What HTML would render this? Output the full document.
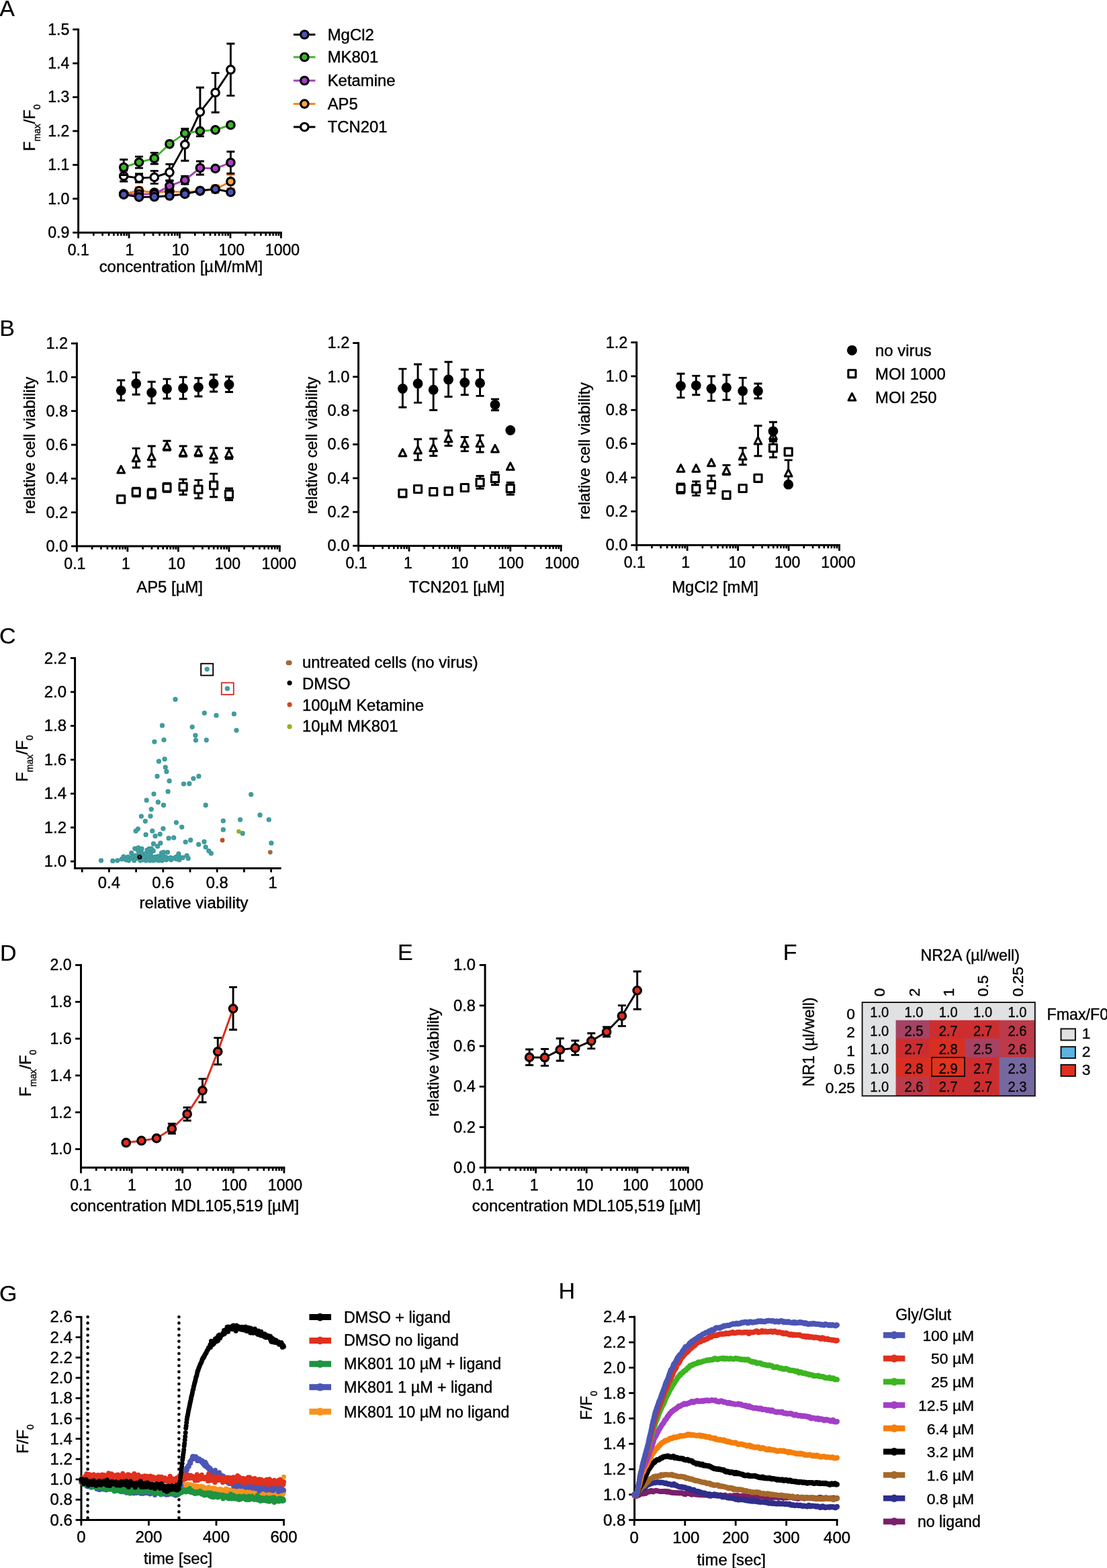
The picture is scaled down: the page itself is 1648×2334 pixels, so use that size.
<!DOCTYPE html>
<html lang="en"><head><meta charset="utf-8"><title>Figure</title>
<style>
html,body{margin:0;padding:0;background:#fff;}
body{width:1648px;height:2334px;overflow:hidden;}
svg{display:block;font-family:"Liberation Sans", "DejaVu Sans", sans-serif;}
text{stroke:#000;stroke-width:0.4px;stroke-linejoin:round;}
</style></head><body>
<svg width="1648" height="2334" viewBox="0 0 1648 2334">
<rect width="1648" height="2334" fill="#fff"/>
<line x1="116.60" y1="42.46" x2="116.60" y2="347.70" stroke="#000" stroke-width="3.0" stroke-linecap="butt"/>
<line x1="108.20" y1="43.86" x2="116.60" y2="43.86" stroke="#000" stroke-width="2.8" stroke-linecap="butt"/>
<text x="103.40" y="51.66" font-size="23.1" text-anchor="end" fill="#000">1.5</text>
<line x1="108.20" y1="94.25" x2="116.60" y2="94.25" stroke="#000" stroke-width="2.8" stroke-linecap="butt"/>
<text x="103.40" y="102.05" font-size="23.1" text-anchor="end" fill="#000">1.4</text>
<line x1="108.20" y1="144.64" x2="116.60" y2="144.64" stroke="#000" stroke-width="2.8" stroke-linecap="butt"/>
<text x="103.40" y="152.44" font-size="23.1" text-anchor="end" fill="#000">1.3</text>
<line x1="108.20" y1="195.03" x2="116.60" y2="195.03" stroke="#000" stroke-width="2.8" stroke-linecap="butt"/>
<text x="103.40" y="202.83" font-size="23.1" text-anchor="end" fill="#000">1.2</text>
<line x1="108.20" y1="245.42" x2="116.60" y2="245.42" stroke="#000" stroke-width="2.8" stroke-linecap="butt"/>
<text x="103.40" y="253.22" font-size="23.1" text-anchor="end" fill="#000">1.1</text>
<line x1="108.20" y1="295.81" x2="116.60" y2="295.81" stroke="#000" stroke-width="2.8" stroke-linecap="butt"/>
<text x="103.40" y="303.61" font-size="23.1" text-anchor="end" fill="#000">1.0</text>
<line x1="108.20" y1="346.20" x2="116.60" y2="346.20" stroke="#000" stroke-width="2.8" stroke-linecap="butt"/>
<text x="103.40" y="354.00" font-size="23.1" text-anchor="end" fill="#000">0.9</text>
<line x1="115.10" y1="346.20" x2="419.80" y2="346.20" stroke="#000" stroke-width="3.0" stroke-linecap="butt"/>
<line x1="116.60" y1="346.20" x2="116.60" y2="354.60" stroke="#000" stroke-width="2.8" stroke-linecap="butt"/>
<line x1="139.31" y1="346.20" x2="139.31" y2="351.00" stroke="#000" stroke-width="2.6599999999999997" stroke-linecap="butt"/>
<line x1="152.60" y1="346.20" x2="152.60" y2="351.00" stroke="#000" stroke-width="2.6599999999999997" stroke-linecap="butt"/>
<line x1="162.03" y1="346.20" x2="162.03" y2="351.00" stroke="#000" stroke-width="2.6599999999999997" stroke-linecap="butt"/>
<line x1="169.34" y1="346.20" x2="169.34" y2="351.00" stroke="#000" stroke-width="2.6599999999999997" stroke-linecap="butt"/>
<line x1="175.31" y1="346.20" x2="175.31" y2="351.00" stroke="#000" stroke-width="2.6599999999999997" stroke-linecap="butt"/>
<line x1="180.36" y1="346.20" x2="180.36" y2="351.00" stroke="#000" stroke-width="2.6599999999999997" stroke-linecap="butt"/>
<line x1="184.74" y1="346.20" x2="184.74" y2="351.00" stroke="#000" stroke-width="2.6599999999999997" stroke-linecap="butt"/>
<line x1="188.60" y1="346.20" x2="188.60" y2="351.00" stroke="#000" stroke-width="2.6599999999999997" stroke-linecap="butt"/>
<line x1="192.05" y1="346.20" x2="192.05" y2="354.60" stroke="#000" stroke-width="2.8" stroke-linecap="butt"/>
<line x1="214.76" y1="346.20" x2="214.76" y2="351.00" stroke="#000" stroke-width="2.6599999999999997" stroke-linecap="butt"/>
<line x1="228.05" y1="346.20" x2="228.05" y2="351.00" stroke="#000" stroke-width="2.6599999999999997" stroke-linecap="butt"/>
<line x1="237.48" y1="346.20" x2="237.48" y2="351.00" stroke="#000" stroke-width="2.6599999999999997" stroke-linecap="butt"/>
<line x1="244.79" y1="346.20" x2="244.79" y2="351.00" stroke="#000" stroke-width="2.6599999999999997" stroke-linecap="butt"/>
<line x1="250.76" y1="346.20" x2="250.76" y2="351.00" stroke="#000" stroke-width="2.6599999999999997" stroke-linecap="butt"/>
<line x1="255.81" y1="346.20" x2="255.81" y2="351.00" stroke="#000" stroke-width="2.6599999999999997" stroke-linecap="butt"/>
<line x1="260.19" y1="346.20" x2="260.19" y2="351.00" stroke="#000" stroke-width="2.6599999999999997" stroke-linecap="butt"/>
<line x1="264.05" y1="346.20" x2="264.05" y2="351.00" stroke="#000" stroke-width="2.6599999999999997" stroke-linecap="butt"/>
<line x1="267.50" y1="346.20" x2="267.50" y2="354.60" stroke="#000" stroke-width="2.8" stroke-linecap="butt"/>
<line x1="290.21" y1="346.20" x2="290.21" y2="351.00" stroke="#000" stroke-width="2.6599999999999997" stroke-linecap="butt"/>
<line x1="303.50" y1="346.20" x2="303.50" y2="351.00" stroke="#000" stroke-width="2.6599999999999997" stroke-linecap="butt"/>
<line x1="312.93" y1="346.20" x2="312.93" y2="351.00" stroke="#000" stroke-width="2.6599999999999997" stroke-linecap="butt"/>
<line x1="320.24" y1="346.20" x2="320.24" y2="351.00" stroke="#000" stroke-width="2.6599999999999997" stroke-linecap="butt"/>
<line x1="326.21" y1="346.20" x2="326.21" y2="351.00" stroke="#000" stroke-width="2.6599999999999997" stroke-linecap="butt"/>
<line x1="331.26" y1="346.20" x2="331.26" y2="351.00" stroke="#000" stroke-width="2.6599999999999997" stroke-linecap="butt"/>
<line x1="335.64" y1="346.20" x2="335.64" y2="351.00" stroke="#000" stroke-width="2.6599999999999997" stroke-linecap="butt"/>
<line x1="339.50" y1="346.20" x2="339.50" y2="351.00" stroke="#000" stroke-width="2.6599999999999997" stroke-linecap="butt"/>
<line x1="342.95" y1="346.20" x2="342.95" y2="354.60" stroke="#000" stroke-width="2.8" stroke-linecap="butt"/>
<line x1="365.66" y1="346.20" x2="365.66" y2="351.00" stroke="#000" stroke-width="2.6599999999999997" stroke-linecap="butt"/>
<line x1="378.95" y1="346.20" x2="378.95" y2="351.00" stroke="#000" stroke-width="2.6599999999999997" stroke-linecap="butt"/>
<line x1="388.38" y1="346.20" x2="388.38" y2="351.00" stroke="#000" stroke-width="2.6599999999999997" stroke-linecap="butt"/>
<line x1="395.69" y1="346.20" x2="395.69" y2="351.00" stroke="#000" stroke-width="2.6599999999999997" stroke-linecap="butt"/>
<line x1="401.66" y1="346.20" x2="401.66" y2="351.00" stroke="#000" stroke-width="2.6599999999999997" stroke-linecap="butt"/>
<line x1="406.71" y1="346.20" x2="406.71" y2="351.00" stroke="#000" stroke-width="2.6599999999999997" stroke-linecap="butt"/>
<line x1="411.09" y1="346.20" x2="411.09" y2="351.00" stroke="#000" stroke-width="2.6599999999999997" stroke-linecap="butt"/>
<line x1="414.95" y1="346.20" x2="414.95" y2="351.00" stroke="#000" stroke-width="2.6599999999999997" stroke-linecap="butt"/>
<line x1="418.40" y1="346.20" x2="418.40" y2="354.60" stroke="#000" stroke-width="2.8" stroke-linecap="butt"/>
<text x="116.80" y="379.60" font-size="23.1" text-anchor="middle" fill="#000">0.1</text>
<text x="192.85" y="379.60" font-size="23.1" text-anchor="middle" fill="#000">1</text>
<text x="268.60" y="379.60" font-size="23.1" text-anchor="middle" fill="#000">10</text>
<text x="344.85" y="379.60" font-size="23.1" text-anchor="middle" fill="#000">100</text>
<text x="420.50" y="379.60" font-size="23.1" text-anchor="middle" fill="#000">1000</text>
<text x="269.40" y="405.20" font-size="23.9" text-anchor="middle" fill="#000">concentration [µM/mM]</text>
<text x="52.20" y="225.00" font-size="23.9" transform="rotate(-90 52.20 225.00)">F<tspan font-size="13.8" dy="8.0">max</tspan><tspan dy="-8.0">/F</tspan><tspan font-size="13.8" dy="8.0">0</tspan></text>
<path d="M184.20 254.00V270.00M178.20 254.00h12.0M178.20 270.00h12.0" stroke="#000" stroke-width="2.9" fill="none"/>
<path d="M207.00 258.80V271.40M201.00 258.80h12.0M201.00 271.40h12.0" stroke="#000" stroke-width="2.9" fill="none"/>
<path d="M229.80 254.40V273.40M223.80 254.40h12.0M223.80 273.40h12.0" stroke="#000" stroke-width="2.9" fill="none"/>
<path d="M252.40 244.40V268.60M246.40 244.40h12.0M246.40 268.60h12.0" stroke="#000" stroke-width="2.9" fill="none"/>
<path d="M275.30 191.60V239.20M269.30 191.60h12.0M269.30 239.20h12.0" stroke="#000" stroke-width="2.9" fill="none"/>
<path d="M297.90 130.30V202.90M291.90 130.30h12.0M291.90 202.90h12.0" stroke="#000" stroke-width="2.9" fill="none"/>
<path d="M320.60 108.60V167.20M314.60 108.60h12.0M314.60 167.20h12.0" stroke="#000" stroke-width="2.9" fill="none"/>
<path d="M343.40 65.00V142.40M337.40 65.00h12.0M337.40 142.40h12.0" stroke="#000" stroke-width="2.9" fill="none"/>
<polyline points="184.20,262.00 207.00,265.10 229.80,263.90 252.40,256.50 275.30,215.40 297.90,166.60 320.60,137.90 343.40,103.70" fill="none" stroke="#000" stroke-width="2.9" stroke-linejoin="round"/>
<circle cx="184.20" cy="262.00" r="5.75" fill="#fff" stroke="#000" stroke-width="3.2"/>
<circle cx="207.00" cy="265.10" r="5.75" fill="#fff" stroke="#000" stroke-width="3.2"/>
<circle cx="229.80" cy="263.90" r="5.75" fill="#fff" stroke="#000" stroke-width="3.2"/>
<circle cx="252.40" cy="256.50" r="5.75" fill="#fff" stroke="#000" stroke-width="3.2"/>
<circle cx="275.30" cy="215.40" r="5.75" fill="#fff" stroke="#000" stroke-width="3.2"/>
<circle cx="297.90" cy="166.60" r="5.75" fill="#fff" stroke="#000" stroke-width="3.2"/>
<circle cx="320.60" cy="137.90" r="5.75" fill="#fff" stroke="#000" stroke-width="3.2"/>
<circle cx="343.40" cy="103.70" r="5.75" fill="#fff" stroke="#000" stroke-width="3.2"/>
<path d="M207.00 279.00V289.00M201.00 279.00h12.0M201.00 289.00h12.0" stroke="#F0801A" stroke-width="2.9" fill="none"/>
<path d="M252.40 280.80V288.80M246.40 280.80h12.0M246.40 288.80h12.0" stroke="#F0801A" stroke-width="2.9" fill="none"/>
<path d="M320.60 276.00V287.00M314.60 276.00h12.0M314.60 287.00h12.0" stroke="#F0801A" stroke-width="2.9" fill="none"/>
<path d="M343.40 260.00V280.60M337.40 260.00h12.0M337.40 280.60h12.0" stroke="#F0801A" stroke-width="2.9" fill="none"/>
<polyline points="184.20,288.50 207.00,284.00 229.80,286.50 252.40,284.80 275.30,286.20 297.90,284.30 320.60,281.50 343.40,270.30" fill="none" stroke="#F0801A" stroke-width="2.9" stroke-linejoin="round"/>
<circle cx="184.20" cy="288.50" r="5.75" fill="#F9A648" stroke="#000" stroke-width="3.2"/>
<circle cx="207.00" cy="284.00" r="5.75" fill="#F9A648" stroke="#000" stroke-width="3.2"/>
<circle cx="229.80" cy="286.50" r="5.75" fill="#F9A648" stroke="#000" stroke-width="3.2"/>
<circle cx="252.40" cy="284.80" r="5.75" fill="#F9A648" stroke="#000" stroke-width="3.2"/>
<circle cx="275.30" cy="286.20" r="5.75" fill="#F9A648" stroke="#000" stroke-width="3.2"/>
<circle cx="297.90" cy="284.30" r="5.75" fill="#F9A648" stroke="#000" stroke-width="3.2"/>
<circle cx="320.60" cy="281.50" r="5.75" fill="#F9A648" stroke="#000" stroke-width="3.2"/>
<circle cx="343.40" cy="270.30" r="5.75" fill="#F9A648" stroke="#000" stroke-width="3.2"/>
<path d="M252.40 269.30V284.30M246.40 269.30h12.0M246.40 284.30h12.0" stroke="#000" stroke-width="2.9" fill="none"/>
<path d="M275.30 262.10V274.10M269.30 262.10h12.0M269.30 274.10h12.0" stroke="#000" stroke-width="2.9" fill="none"/>
<path d="M297.90 240.00V260.00M291.90 240.00h12.0M291.90 260.00h12.0" stroke="#000" stroke-width="2.9" fill="none"/>
<path d="M343.40 225.80V258.20M337.40 225.80h12.0M337.40 258.20h12.0" stroke="#000" stroke-width="2.9" fill="none"/>
<polyline points="184.20,289.20 207.00,289.00 229.80,288.80 252.40,276.80 275.30,268.10 297.90,250.00 320.60,250.90 343.40,242.00" fill="none" stroke="#A840C0" stroke-width="2.9" stroke-linejoin="round"/>
<circle cx="184.20" cy="289.20" r="5.75" fill="#A840C0" stroke="#000" stroke-width="3.2"/>
<circle cx="207.00" cy="289.00" r="5.75" fill="#A840C0" stroke="#000" stroke-width="3.2"/>
<circle cx="229.80" cy="288.80" r="5.75" fill="#A840C0" stroke="#000" stroke-width="3.2"/>
<circle cx="252.40" cy="276.80" r="5.75" fill="#A840C0" stroke="#000" stroke-width="3.2"/>
<circle cx="275.30" cy="268.10" r="5.75" fill="#A840C0" stroke="#000" stroke-width="3.2"/>
<circle cx="297.90" cy="250.00" r="5.75" fill="#A840C0" stroke="#000" stroke-width="3.2"/>
<circle cx="320.60" cy="250.90" r="5.75" fill="#A840C0" stroke="#000" stroke-width="3.2"/>
<circle cx="343.40" cy="242.00" r="5.75" fill="#A840C0" stroke="#000" stroke-width="3.2"/>
<path d="M184.20 237.50V260.50M178.20 237.50h12.0M178.20 260.50h12.0" stroke="#000" stroke-width="2.9" fill="none"/>
<path d="M207.00 233.10V250.10M201.00 233.10h12.0M201.00 250.10h12.0" stroke="#000" stroke-width="2.9" fill="none"/>
<path d="M229.80 227.40V244.00M223.80 227.40h12.0M223.80 244.00h12.0" stroke="#000" stroke-width="2.9" fill="none"/>
<polyline points="184.20,249.00 207.00,241.60 229.80,235.70 252.40,214.30 275.30,198.40 297.90,195.10 320.60,193.40 343.40,186.00" fill="none" stroke="#3CB528" stroke-width="2.9" stroke-linejoin="round"/>
<circle cx="184.20" cy="249.00" r="5.75" fill="#3CB528" stroke="#000" stroke-width="3.2"/>
<circle cx="207.00" cy="241.60" r="5.75" fill="#3CB528" stroke="#000" stroke-width="3.2"/>
<circle cx="229.80" cy="235.70" r="5.75" fill="#3CB528" stroke="#000" stroke-width="3.2"/>
<circle cx="252.40" cy="214.30" r="5.75" fill="#3CB528" stroke="#000" stroke-width="3.2"/>
<circle cx="275.30" cy="198.40" r="5.75" fill="#3CB528" stroke="#000" stroke-width="3.2"/>
<circle cx="297.90" cy="195.10" r="5.75" fill="#3CB528" stroke="#000" stroke-width="3.2"/>
<circle cx="320.60" cy="193.40" r="5.75" fill="#3CB528" stroke="#000" stroke-width="3.2"/>
<circle cx="343.40" cy="186.00" r="5.75" fill="#3CB528" stroke="#000" stroke-width="3.2"/>
<polyline points="184.20,289.60 207.00,293.30 229.80,293.00 252.40,291.50 275.30,288.90 297.90,283.80 320.60,281.40 343.40,286.00" fill="none" stroke="#000" stroke-width="2.9" stroke-linejoin="round"/>
<circle cx="184.20" cy="289.60" r="5.75" fill="#4C56B4" stroke="#000" stroke-width="3.2"/>
<circle cx="207.00" cy="293.30" r="5.75" fill="#4C56B4" stroke="#000" stroke-width="3.2"/>
<circle cx="229.80" cy="293.00" r="5.75" fill="#4C56B4" stroke="#000" stroke-width="3.2"/>
<circle cx="252.40" cy="291.50" r="5.75" fill="#4C56B4" stroke="#000" stroke-width="3.2"/>
<circle cx="275.30" cy="288.90" r="5.75" fill="#4C56B4" stroke="#000" stroke-width="3.2"/>
<circle cx="297.90" cy="283.80" r="5.75" fill="#4C56B4" stroke="#000" stroke-width="3.2"/>
<circle cx="320.60" cy="281.40" r="5.75" fill="#4C56B4" stroke="#000" stroke-width="3.2"/>
<circle cx="343.40" cy="286.00" r="5.75" fill="#4C56B4" stroke="#000" stroke-width="3.2"/>
<line x1="437.00" y1="51.50" x2="469.40" y2="51.50" stroke="#000" stroke-width="2.9" stroke-linecap="butt"/>
<circle cx="453.30" cy="51.50" r="5.75" fill="#4C56B4" stroke="#000" stroke-width="3.2"/>
<text x="487.70" y="59.70" font-size="23.9" text-anchor="start" fill="#000">MgCl2</text>
<line x1="437.00" y1="85.00" x2="469.40" y2="85.00" stroke="#3CB528" stroke-width="2.9" stroke-linecap="butt"/>
<circle cx="453.30" cy="85.00" r="5.75" fill="#3CB528" stroke="#000" stroke-width="3.2"/>
<text x="487.70" y="93.20" font-size="23.9" text-anchor="start" fill="#000">MK801</text>
<line x1="437.00" y1="120.00" x2="469.40" y2="120.00" stroke="#A840C0" stroke-width="2.9" stroke-linecap="butt"/>
<circle cx="453.30" cy="120.00" r="5.75" fill="#A840C0" stroke="#000" stroke-width="3.2"/>
<text x="487.70" y="128.20" font-size="23.9" text-anchor="start" fill="#000">Ketamine</text>
<line x1="437.00" y1="154.60" x2="469.40" y2="154.60" stroke="#F0801A" stroke-width="2.9" stroke-linecap="butt"/>
<circle cx="453.30" cy="154.60" r="5.75" fill="#F9A648" stroke="#000" stroke-width="3.2"/>
<text x="487.70" y="162.80" font-size="23.9" text-anchor="start" fill="#000">AP5</text>
<line x1="437.00" y1="189.00" x2="469.40" y2="189.00" stroke="#000" stroke-width="2.9" stroke-linecap="butt"/>
<circle cx="453.30" cy="189.00" r="5.75" fill="#fff" stroke="#000" stroke-width="3.2"/>
<text x="487.70" y="197.20" font-size="23.9" text-anchor="start" fill="#000">TCN201</text>
<text x="-0.70" y="23.60" font-size="34.0" text-anchor="start" fill="#000" style="stroke-width:0.2px">A</text>
<line x1="114.40" y1="509.80" x2="114.40" y2="814.50" stroke="#000" stroke-width="3.0" stroke-linecap="butt"/>
<line x1="106.00" y1="511.20" x2="114.40" y2="511.20" stroke="#000" stroke-width="2.8" stroke-linecap="butt"/>
<text x="101.20" y="519.00" font-size="23.6" text-anchor="end" fill="#000">1.2</text>
<line x1="106.00" y1="561.50" x2="114.40" y2="561.50" stroke="#000" stroke-width="2.8" stroke-linecap="butt"/>
<text x="101.20" y="569.30" font-size="23.6" text-anchor="end" fill="#000">1.0</text>
<line x1="106.00" y1="611.80" x2="114.40" y2="611.80" stroke="#000" stroke-width="2.8" stroke-linecap="butt"/>
<text x="101.20" y="619.60" font-size="23.6" text-anchor="end" fill="#000">0.8</text>
<line x1="106.00" y1="662.10" x2="114.40" y2="662.10" stroke="#000" stroke-width="2.8" stroke-linecap="butt"/>
<text x="101.20" y="669.90" font-size="23.6" text-anchor="end" fill="#000">0.6</text>
<line x1="106.00" y1="712.40" x2="114.40" y2="712.40" stroke="#000" stroke-width="2.8" stroke-linecap="butt"/>
<text x="101.20" y="720.20" font-size="23.6" text-anchor="end" fill="#000">0.4</text>
<line x1="106.00" y1="762.70" x2="114.40" y2="762.70" stroke="#000" stroke-width="2.8" stroke-linecap="butt"/>
<text x="101.20" y="770.50" font-size="23.6" text-anchor="end" fill="#000">0.2</text>
<line x1="106.00" y1="813.00" x2="114.40" y2="813.00" stroke="#000" stroke-width="2.8" stroke-linecap="butt"/>
<text x="101.20" y="820.80" font-size="23.6" text-anchor="end" fill="#000">0.0</text>
<line x1="112.90" y1="813.00" x2="417.80" y2="813.00" stroke="#000" stroke-width="3.0" stroke-linecap="butt"/>
<line x1="114.40" y1="813.00" x2="114.40" y2="821.40" stroke="#000" stroke-width="2.8" stroke-linecap="butt"/>
<line x1="137.13" y1="813.00" x2="137.13" y2="817.80" stroke="#000" stroke-width="2.6599999999999997" stroke-linecap="butt"/>
<line x1="150.42" y1="813.00" x2="150.42" y2="817.80" stroke="#000" stroke-width="2.6599999999999997" stroke-linecap="butt"/>
<line x1="159.86" y1="813.00" x2="159.86" y2="817.80" stroke="#000" stroke-width="2.6599999999999997" stroke-linecap="butt"/>
<line x1="167.17" y1="813.00" x2="167.17" y2="817.80" stroke="#000" stroke-width="2.6599999999999997" stroke-linecap="butt"/>
<line x1="173.15" y1="813.00" x2="173.15" y2="817.80" stroke="#000" stroke-width="2.6599999999999997" stroke-linecap="butt"/>
<line x1="178.20" y1="813.00" x2="178.20" y2="817.80" stroke="#000" stroke-width="2.6599999999999997" stroke-linecap="butt"/>
<line x1="182.58" y1="813.00" x2="182.58" y2="817.80" stroke="#000" stroke-width="2.6599999999999997" stroke-linecap="butt"/>
<line x1="186.45" y1="813.00" x2="186.45" y2="817.80" stroke="#000" stroke-width="2.6599999999999997" stroke-linecap="butt"/>
<line x1="189.90" y1="813.00" x2="189.90" y2="821.40" stroke="#000" stroke-width="2.8" stroke-linecap="butt"/>
<line x1="212.63" y1="813.00" x2="212.63" y2="817.80" stroke="#000" stroke-width="2.6599999999999997" stroke-linecap="butt"/>
<line x1="225.92" y1="813.00" x2="225.92" y2="817.80" stroke="#000" stroke-width="2.6599999999999997" stroke-linecap="butt"/>
<line x1="235.36" y1="813.00" x2="235.36" y2="817.80" stroke="#000" stroke-width="2.6599999999999997" stroke-linecap="butt"/>
<line x1="242.67" y1="813.00" x2="242.67" y2="817.80" stroke="#000" stroke-width="2.6599999999999997" stroke-linecap="butt"/>
<line x1="248.65" y1="813.00" x2="248.65" y2="817.80" stroke="#000" stroke-width="2.6599999999999997" stroke-linecap="butt"/>
<line x1="253.70" y1="813.00" x2="253.70" y2="817.80" stroke="#000" stroke-width="2.6599999999999997" stroke-linecap="butt"/>
<line x1="258.08" y1="813.00" x2="258.08" y2="817.80" stroke="#000" stroke-width="2.6599999999999997" stroke-linecap="butt"/>
<line x1="261.95" y1="813.00" x2="261.95" y2="817.80" stroke="#000" stroke-width="2.6599999999999997" stroke-linecap="butt"/>
<line x1="265.40" y1="813.00" x2="265.40" y2="821.40" stroke="#000" stroke-width="2.8" stroke-linecap="butt"/>
<line x1="288.13" y1="813.00" x2="288.13" y2="817.80" stroke="#000" stroke-width="2.6599999999999997" stroke-linecap="butt"/>
<line x1="301.42" y1="813.00" x2="301.42" y2="817.80" stroke="#000" stroke-width="2.6599999999999997" stroke-linecap="butt"/>
<line x1="310.86" y1="813.00" x2="310.86" y2="817.80" stroke="#000" stroke-width="2.6599999999999997" stroke-linecap="butt"/>
<line x1="318.17" y1="813.00" x2="318.17" y2="817.80" stroke="#000" stroke-width="2.6599999999999997" stroke-linecap="butt"/>
<line x1="324.15" y1="813.00" x2="324.15" y2="817.80" stroke="#000" stroke-width="2.6599999999999997" stroke-linecap="butt"/>
<line x1="329.20" y1="813.00" x2="329.20" y2="817.80" stroke="#000" stroke-width="2.6599999999999997" stroke-linecap="butt"/>
<line x1="333.58" y1="813.00" x2="333.58" y2="817.80" stroke="#000" stroke-width="2.6599999999999997" stroke-linecap="butt"/>
<line x1="337.45" y1="813.00" x2="337.45" y2="817.80" stroke="#000" stroke-width="2.6599999999999997" stroke-linecap="butt"/>
<line x1="340.90" y1="813.00" x2="340.90" y2="821.40" stroke="#000" stroke-width="2.8" stroke-linecap="butt"/>
<line x1="363.63" y1="813.00" x2="363.63" y2="817.80" stroke="#000" stroke-width="2.6599999999999997" stroke-linecap="butt"/>
<line x1="376.92" y1="813.00" x2="376.92" y2="817.80" stroke="#000" stroke-width="2.6599999999999997" stroke-linecap="butt"/>
<line x1="386.36" y1="813.00" x2="386.36" y2="817.80" stroke="#000" stroke-width="2.6599999999999997" stroke-linecap="butt"/>
<line x1="393.67" y1="813.00" x2="393.67" y2="817.80" stroke="#000" stroke-width="2.6599999999999997" stroke-linecap="butt"/>
<line x1="399.65" y1="813.00" x2="399.65" y2="817.80" stroke="#000" stroke-width="2.6599999999999997" stroke-linecap="butt"/>
<line x1="404.70" y1="813.00" x2="404.70" y2="817.80" stroke="#000" stroke-width="2.6599999999999997" stroke-linecap="butt"/>
<line x1="409.08" y1="813.00" x2="409.08" y2="817.80" stroke="#000" stroke-width="2.6599999999999997" stroke-linecap="butt"/>
<line x1="412.95" y1="813.00" x2="412.95" y2="817.80" stroke="#000" stroke-width="2.6599999999999997" stroke-linecap="butt"/>
<line x1="416.40" y1="813.00" x2="416.40" y2="821.40" stroke="#000" stroke-width="2.8" stroke-linecap="butt"/>
<text x="111.40" y="846.60" font-size="23.1" text-anchor="middle" fill="#000">0.1</text>
<text x="187.40" y="846.60" font-size="23.1" text-anchor="middle" fill="#000">1</text>
<text x="262.90" y="846.60" font-size="23.1" text-anchor="middle" fill="#000">10</text>
<text x="338.90" y="846.60" font-size="23.1" text-anchor="middle" fill="#000">100</text>
<text x="415.30" y="846.60" font-size="23.1" text-anchor="middle" fill="#000">1000</text>
<text x="252.60" y="882.00" font-size="23.9" text-anchor="middle" fill="#000">AP5 [µM]</text>
<text x="51.85" y="663.00" font-size="23.9" text-anchor="middle" fill="#000" transform="rotate(-90 51.85 663.00)">relative cell viability</text>
<path d="M202.70 667.40V696.00M196.70 667.40h12.0M196.70 696.00h12.0" stroke="#000" stroke-width="2.9" fill="none"/>
<path d="M225.70 664.00V694.60M219.70 664.00h12.0M219.70 694.60h12.0" stroke="#000" stroke-width="2.9" fill="none"/>
<path d="M248.50 656.20V670.40M242.50 656.20h12.0M242.50 670.40h12.0" stroke="#000" stroke-width="2.9" fill="none"/>
<path d="M272.60 664.00V679.60M266.60 664.00h12.0M266.60 679.60h12.0" stroke="#000" stroke-width="2.9" fill="none"/>
<path d="M295.40 664.60V679.00M289.40 664.60h12.0M289.40 679.00h12.0" stroke="#000" stroke-width="2.9" fill="none"/>
<path d="M318.10 666.80V688.50M312.10 666.80h12.0M312.10 688.50h12.0" stroke="#000" stroke-width="2.9" fill="none"/>
<path d="M341.00 667.00V683.00M335.00 667.00h12.0M335.00 683.00h12.0" stroke="#000" stroke-width="2.9" fill="none"/>
<polygon points="180.20,693.47 185.60,704.07 174.80,704.07" fill="#fff" stroke="#000" stroke-width="3.0" stroke-linejoin="round"/>
<polygon points="202.70,676.17 208.10,686.77 197.30,686.77" fill="#fff" stroke="#000" stroke-width="3.0" stroke-linejoin="round"/>
<polygon points="225.70,674.17 231.10,684.77 220.30,684.77" fill="#fff" stroke="#000" stroke-width="3.0" stroke-linejoin="round"/>
<polygon points="248.50,658.77 253.90,669.37 243.10,669.37" fill="#fff" stroke="#000" stroke-width="3.0" stroke-linejoin="round"/>
<polygon points="272.60,667.97 278.00,678.57 267.20,678.57" fill="#fff" stroke="#000" stroke-width="3.0" stroke-linejoin="round"/>
<polygon points="295.40,667.17 300.80,677.77 290.00,677.77" fill="#fff" stroke="#000" stroke-width="3.0" stroke-linejoin="round"/>
<polygon points="318.10,672.17 323.50,682.77 312.70,682.77" fill="#fff" stroke="#000" stroke-width="3.0" stroke-linejoin="round"/>
<polygon points="341.00,670.17 346.40,680.77 335.60,680.77" fill="#fff" stroke="#000" stroke-width="3.0" stroke-linejoin="round"/>
<path d="M202.70 726.10V739.10M196.70 726.10h12.0M196.70 739.10h12.0" stroke="#000" stroke-width="2.9" fill="none"/>
<path d="M225.70 727.80V741.80M219.70 727.80h12.0M219.70 741.80h12.0" stroke="#000" stroke-width="2.9" fill="none"/>
<path d="M248.50 719.20V732.20M242.50 719.20h12.0M242.50 732.20h12.0" stroke="#000" stroke-width="2.9" fill="none"/>
<path d="M272.60 713.50V736.20M266.60 713.50h12.0M266.60 736.20h12.0" stroke="#000" stroke-width="2.9" fill="none"/>
<path d="M295.40 714.60V741.80M289.40 714.60h12.0M289.40 741.80h12.0" stroke="#000" stroke-width="2.9" fill="none"/>
<path d="M318.10 705.10V739.80M312.10 705.10h12.0M312.10 739.80h12.0" stroke="#000" stroke-width="2.9" fill="none"/>
<path d="M341.00 727.00V744.50M335.00 727.00h12.0M335.00 744.50h12.0" stroke="#000" stroke-width="2.9" fill="none"/>
<rect x="174.65" y="737.65" width="11.1" height="11.1" fill="#fff" stroke="#000" stroke-width="3.1" stroke-linejoin="round"/>
<rect x="197.15" y="727.05" width="11.1" height="11.1" fill="#fff" stroke="#000" stroke-width="3.1" stroke-linejoin="round"/>
<rect x="220.15" y="729.25" width="11.1" height="11.1" fill="#fff" stroke="#000" stroke-width="3.1" stroke-linejoin="round"/>
<rect x="242.95" y="720.15" width="11.1" height="11.1" fill="#fff" stroke="#000" stroke-width="3.1" stroke-linejoin="round"/>
<rect x="267.05" y="719.05" width="11.1" height="11.1" fill="#fff" stroke="#000" stroke-width="3.1" stroke-linejoin="round"/>
<rect x="289.85" y="722.95" width="11.1" height="11.1" fill="#fff" stroke="#000" stroke-width="3.1" stroke-linejoin="round"/>
<rect x="312.55" y="716.85" width="11.1" height="11.1" fill="#fff" stroke="#000" stroke-width="3.1" stroke-linejoin="round"/>
<rect x="335.45" y="730.15" width="11.1" height="11.1" fill="#fff" stroke="#000" stroke-width="3.1" stroke-linejoin="round"/>
<path d="M180.20 566.00V596.00M174.20 566.00h12.0M174.20 596.00h12.0" stroke="#000" stroke-width="2.9" fill="none"/>
<path d="M202.70 554.40V587.20M196.70 554.40h12.0M196.70 587.20h12.0" stroke="#000" stroke-width="2.9" fill="none"/>
<path d="M225.70 568.30V600.20M219.70 568.30h12.0M219.70 600.20h12.0" stroke="#000" stroke-width="2.9" fill="none"/>
<path d="M248.50 564.10V593.30M242.50 564.10h12.0M242.50 593.30h12.0" stroke="#000" stroke-width="2.9" fill="none"/>
<path d="M272.60 561.30V593.80M266.60 561.30h12.0M266.60 593.80h12.0" stroke="#000" stroke-width="2.9" fill="none"/>
<path d="M295.40 562.70V590.00M289.40 562.70h12.0M289.40 590.00h12.0" stroke="#000" stroke-width="2.9" fill="none"/>
<path d="M318.10 557.70V583.00M312.10 557.70h12.0M312.10 583.00h12.0" stroke="#000" stroke-width="2.9" fill="none"/>
<path d="M341.00 560.50V583.50M335.00 560.50h12.0M335.00 583.50h12.0" stroke="#000" stroke-width="2.9" fill="none"/>
<circle cx="180.20" cy="581.30" r="7.4" fill="#000"/>
<circle cx="202.70" cy="571.00" r="7.4" fill="#000"/>
<circle cx="225.70" cy="584.40" r="7.4" fill="#000"/>
<circle cx="248.50" cy="578.80" r="7.4" fill="#000"/>
<circle cx="272.60" cy="577.70" r="7.4" fill="#000"/>
<circle cx="295.40" cy="576.60" r="7.4" fill="#000"/>
<circle cx="318.10" cy="571.00" r="7.4" fill="#000"/>
<circle cx="341.00" cy="572.40" r="7.4" fill="#000"/>
<line x1="533.60" y1="509.20" x2="533.60" y2="813.90" stroke="#000" stroke-width="3.0" stroke-linecap="butt"/>
<line x1="525.20" y1="510.60" x2="533.60" y2="510.60" stroke="#000" stroke-width="2.8" stroke-linecap="butt"/>
<text x="520.40" y="518.40" font-size="23.6" text-anchor="end" fill="#000">1.2</text>
<line x1="525.20" y1="560.90" x2="533.60" y2="560.90" stroke="#000" stroke-width="2.8" stroke-linecap="butt"/>
<text x="520.40" y="568.70" font-size="23.6" text-anchor="end" fill="#000">1.0</text>
<line x1="525.20" y1="611.20" x2="533.60" y2="611.20" stroke="#000" stroke-width="2.8" stroke-linecap="butt"/>
<text x="520.40" y="619.00" font-size="23.6" text-anchor="end" fill="#000">0.8</text>
<line x1="525.20" y1="661.50" x2="533.60" y2="661.50" stroke="#000" stroke-width="2.8" stroke-linecap="butt"/>
<text x="520.40" y="669.30" font-size="23.6" text-anchor="end" fill="#000">0.6</text>
<line x1="525.20" y1="711.80" x2="533.60" y2="711.80" stroke="#000" stroke-width="2.8" stroke-linecap="butt"/>
<text x="520.40" y="719.60" font-size="23.6" text-anchor="end" fill="#000">0.4</text>
<line x1="525.20" y1="762.10" x2="533.60" y2="762.10" stroke="#000" stroke-width="2.8" stroke-linecap="butt"/>
<text x="520.40" y="769.90" font-size="23.6" text-anchor="end" fill="#000">0.2</text>
<line x1="525.20" y1="812.40" x2="533.60" y2="812.40" stroke="#000" stroke-width="2.8" stroke-linecap="butt"/>
<text x="520.40" y="820.20" font-size="23.6" text-anchor="end" fill="#000">0.0</text>
<line x1="532.10" y1="812.40" x2="836.60" y2="812.40" stroke="#000" stroke-width="3.0" stroke-linecap="butt"/>
<line x1="533.60" y1="812.40" x2="533.60" y2="820.80" stroke="#000" stroke-width="2.8" stroke-linecap="butt"/>
<line x1="556.30" y1="812.40" x2="556.30" y2="817.20" stroke="#000" stroke-width="2.6599999999999997" stroke-linecap="butt"/>
<line x1="569.57" y1="812.40" x2="569.57" y2="817.20" stroke="#000" stroke-width="2.6599999999999997" stroke-linecap="butt"/>
<line x1="579.00" y1="812.40" x2="579.00" y2="817.20" stroke="#000" stroke-width="2.6599999999999997" stroke-linecap="butt"/>
<line x1="586.30" y1="812.40" x2="586.30" y2="817.20" stroke="#000" stroke-width="2.6599999999999997" stroke-linecap="butt"/>
<line x1="592.27" y1="812.40" x2="592.27" y2="817.20" stroke="#000" stroke-width="2.6599999999999997" stroke-linecap="butt"/>
<line x1="597.32" y1="812.40" x2="597.32" y2="817.20" stroke="#000" stroke-width="2.6599999999999997" stroke-linecap="butt"/>
<line x1="601.69" y1="812.40" x2="601.69" y2="817.20" stroke="#000" stroke-width="2.6599999999999997" stroke-linecap="butt"/>
<line x1="605.55" y1="812.40" x2="605.55" y2="817.20" stroke="#000" stroke-width="2.6599999999999997" stroke-linecap="butt"/>
<line x1="609.00" y1="812.40" x2="609.00" y2="820.80" stroke="#000" stroke-width="2.8" stroke-linecap="butt"/>
<line x1="631.70" y1="812.40" x2="631.70" y2="817.20" stroke="#000" stroke-width="2.6599999999999997" stroke-linecap="butt"/>
<line x1="644.97" y1="812.40" x2="644.97" y2="817.20" stroke="#000" stroke-width="2.6599999999999997" stroke-linecap="butt"/>
<line x1="654.40" y1="812.40" x2="654.40" y2="817.20" stroke="#000" stroke-width="2.6599999999999997" stroke-linecap="butt"/>
<line x1="661.70" y1="812.40" x2="661.70" y2="817.20" stroke="#000" stroke-width="2.6599999999999997" stroke-linecap="butt"/>
<line x1="667.67" y1="812.40" x2="667.67" y2="817.20" stroke="#000" stroke-width="2.6599999999999997" stroke-linecap="butt"/>
<line x1="672.72" y1="812.40" x2="672.72" y2="817.20" stroke="#000" stroke-width="2.6599999999999997" stroke-linecap="butt"/>
<line x1="677.09" y1="812.40" x2="677.09" y2="817.20" stroke="#000" stroke-width="2.6599999999999997" stroke-linecap="butt"/>
<line x1="680.95" y1="812.40" x2="680.95" y2="817.20" stroke="#000" stroke-width="2.6599999999999997" stroke-linecap="butt"/>
<line x1="684.40" y1="812.40" x2="684.40" y2="820.80" stroke="#000" stroke-width="2.8" stroke-linecap="butt"/>
<line x1="707.10" y1="812.40" x2="707.10" y2="817.20" stroke="#000" stroke-width="2.6599999999999997" stroke-linecap="butt"/>
<line x1="720.37" y1="812.40" x2="720.37" y2="817.20" stroke="#000" stroke-width="2.6599999999999997" stroke-linecap="butt"/>
<line x1="729.80" y1="812.40" x2="729.80" y2="817.20" stroke="#000" stroke-width="2.6599999999999997" stroke-linecap="butt"/>
<line x1="737.10" y1="812.40" x2="737.10" y2="817.20" stroke="#000" stroke-width="2.6599999999999997" stroke-linecap="butt"/>
<line x1="743.07" y1="812.40" x2="743.07" y2="817.20" stroke="#000" stroke-width="2.6599999999999997" stroke-linecap="butt"/>
<line x1="748.12" y1="812.40" x2="748.12" y2="817.20" stroke="#000" stroke-width="2.6599999999999997" stroke-linecap="butt"/>
<line x1="752.49" y1="812.40" x2="752.49" y2="817.20" stroke="#000" stroke-width="2.6599999999999997" stroke-linecap="butt"/>
<line x1="756.35" y1="812.40" x2="756.35" y2="817.20" stroke="#000" stroke-width="2.6599999999999997" stroke-linecap="butt"/>
<line x1="759.80" y1="812.40" x2="759.80" y2="820.80" stroke="#000" stroke-width="2.8" stroke-linecap="butt"/>
<line x1="782.50" y1="812.40" x2="782.50" y2="817.20" stroke="#000" stroke-width="2.6599999999999997" stroke-linecap="butt"/>
<line x1="795.77" y1="812.40" x2="795.77" y2="817.20" stroke="#000" stroke-width="2.6599999999999997" stroke-linecap="butt"/>
<line x1="805.20" y1="812.40" x2="805.20" y2="817.20" stroke="#000" stroke-width="2.6599999999999997" stroke-linecap="butt"/>
<line x1="812.50" y1="812.40" x2="812.50" y2="817.20" stroke="#000" stroke-width="2.6599999999999997" stroke-linecap="butt"/>
<line x1="818.47" y1="812.40" x2="818.47" y2="817.20" stroke="#000" stroke-width="2.6599999999999997" stroke-linecap="butt"/>
<line x1="823.52" y1="812.40" x2="823.52" y2="817.20" stroke="#000" stroke-width="2.6599999999999997" stroke-linecap="butt"/>
<line x1="827.89" y1="812.40" x2="827.89" y2="817.20" stroke="#000" stroke-width="2.6599999999999997" stroke-linecap="butt"/>
<line x1="831.75" y1="812.40" x2="831.75" y2="817.20" stroke="#000" stroke-width="2.6599999999999997" stroke-linecap="butt"/>
<line x1="835.20" y1="812.40" x2="835.20" y2="820.80" stroke="#000" stroke-width="2.8" stroke-linecap="butt"/>
<text x="530.60" y="846.00" font-size="23.1" text-anchor="middle" fill="#000">0.1</text>
<text x="607.50" y="846.00" font-size="23.1" text-anchor="middle" fill="#000">1</text>
<text x="684.50" y="846.00" font-size="23.1" text-anchor="middle" fill="#000">10</text>
<text x="760.70" y="846.00" font-size="23.1" text-anchor="middle" fill="#000">100</text>
<text x="836.70" y="846.00" font-size="23.1" text-anchor="middle" fill="#000">1000</text>
<text x="680.00" y="882.00" font-size="23.9" text-anchor="middle" fill="#000">TCN201 [µM]</text>
<text x="471.85" y="663.00" font-size="23.9" text-anchor="middle" fill="#000" transform="rotate(-90 471.85 663.00)">relative cell viability</text>
<path d="M622.10 653.80V684.90M616.10 653.80h12.0M616.10 684.90h12.0" stroke="#000" stroke-width="2.9" fill="none"/>
<path d="M645.20 653.00V678.50M639.20 653.00h12.0M639.20 678.50h12.0" stroke="#000" stroke-width="2.9" fill="none"/>
<path d="M667.60 640.70V663.50M661.60 640.70h12.0M661.60 663.50h12.0" stroke="#000" stroke-width="2.9" fill="none"/>
<path d="M691.80 650.50V671.60M685.80 650.50h12.0M685.80 671.60h12.0" stroke="#000" stroke-width="2.9" fill="none"/>
<path d="M714.60 648.00V673.00M708.60 648.00h12.0M708.60 673.00h12.0" stroke="#000" stroke-width="2.9" fill="none"/>
<polygon points="599.40,668.47 604.80,679.07 594.00,679.07" fill="#fff" stroke="#000" stroke-width="3.0" stroke-linejoin="round"/>
<polygon points="622.10,664.37 627.50,674.97 616.70,674.97" fill="#fff" stroke="#000" stroke-width="3.0" stroke-linejoin="round"/>
<polygon points="645.20,660.97 650.60,671.57 639.80,671.57" fill="#fff" stroke="#000" stroke-width="3.0" stroke-linejoin="round"/>
<polygon points="667.60,647.17 673.00,657.77 662.20,657.77" fill="#fff" stroke="#000" stroke-width="3.0" stroke-linejoin="round"/>
<polygon points="691.80,654.57 697.20,665.17 686.40,665.17" fill="#fff" stroke="#000" stroke-width="3.0" stroke-linejoin="round"/>
<polygon points="714.60,654.17 720.00,664.77 709.20,664.77" fill="#fff" stroke="#000" stroke-width="3.0" stroke-linejoin="round"/>
<polygon points="737.00,662.37 742.40,672.97 731.60,672.97" fill="#fff" stroke="#000" stroke-width="3.0" stroke-linejoin="round"/>
<polygon points="759.80,688.77 765.20,699.37 754.40,699.37" fill="#fff" stroke="#000" stroke-width="3.0" stroke-linejoin="round"/>
<path d="M691.80 720.50V731.50M685.80 720.50h12.0M685.80 731.50h12.0" stroke="#000" stroke-width="2.9" fill="none"/>
<path d="M714.60 708.50V727.40M708.60 708.50h12.0M708.60 727.40h12.0" stroke="#000" stroke-width="2.9" fill="none"/>
<path d="M737.00 703.00V721.80M731.00 703.00h12.0M731.00 721.80h12.0" stroke="#000" stroke-width="2.9" fill="none"/>
<path d="M759.80 718.20V736.30M753.80 718.20h12.0M753.80 736.30h12.0" stroke="#000" stroke-width="2.9" fill="none"/>
<rect x="593.85" y="728.75" width="11.1" height="11.1" fill="#fff" stroke="#000" stroke-width="3.1" stroke-linejoin="round"/>
<rect x="616.55" y="722.45" width="11.1" height="11.1" fill="#fff" stroke="#000" stroke-width="3.1" stroke-linejoin="round"/>
<rect x="639.65" y="726.45" width="11.1" height="11.1" fill="#fff" stroke="#000" stroke-width="3.1" stroke-linejoin="round"/>
<rect x="662.05" y="725.65" width="11.1" height="11.1" fill="#fff" stroke="#000" stroke-width="3.1" stroke-linejoin="round"/>
<rect x="686.25" y="720.45" width="11.1" height="11.1" fill="#fff" stroke="#000" stroke-width="3.1" stroke-linejoin="round"/>
<rect x="709.05" y="712.65" width="11.1" height="11.1" fill="#fff" stroke="#000" stroke-width="3.1" stroke-linejoin="round"/>
<rect x="731.45" y="706.55" width="11.1" height="11.1" fill="#fff" stroke="#000" stroke-width="3.1" stroke-linejoin="round"/>
<rect x="754.25" y="721.55" width="11.1" height="11.1" fill="#fff" stroke="#000" stroke-width="3.1" stroke-linejoin="round"/>
<path d="M599.40 549.10V606.30M593.40 549.10h12.0M593.40 606.30h12.0" stroke="#000" stroke-width="2.9" fill="none"/>
<path d="M622.10 542.20V599.40M616.10 542.20h12.0M616.10 599.40h12.0" stroke="#000" stroke-width="2.9" fill="none"/>
<path d="M645.20 549.70V610.50M639.20 549.70h12.0M639.20 610.50h12.0" stroke="#000" stroke-width="2.9" fill="none"/>
<path d="M667.60 538.80V590.50M661.60 538.80h12.0M661.60 590.50h12.0" stroke="#000" stroke-width="2.9" fill="none"/>
<path d="M691.80 550.20V587.70M685.80 550.20h12.0M685.80 587.70h12.0" stroke="#000" stroke-width="2.9" fill="none"/>
<path d="M714.60 550.80V589.40M708.60 550.80h12.0M708.60 589.40h12.0" stroke="#000" stroke-width="2.9" fill="none"/>
<path d="M737.00 594.10V610.80M731.00 594.10h12.0M731.00 610.80h12.0" stroke="#000" stroke-width="2.9" fill="none"/>
<circle cx="599.40" cy="578.50" r="7.4" fill="#000"/>
<circle cx="622.10" cy="571.00" r="7.4" fill="#000"/>
<circle cx="645.20" cy="580.20" r="7.4" fill="#000"/>
<circle cx="667.60" cy="565.00" r="7.4" fill="#000"/>
<circle cx="691.80" cy="569.40" r="7.4" fill="#000"/>
<circle cx="714.60" cy="570.20" r="7.4" fill="#000"/>
<circle cx="737.00" cy="602.40" r="7.4" fill="#000"/>
<circle cx="759.80" cy="640.50" r="7.4" fill="#000"/>
<line x1="947.70" y1="508.30" x2="947.70" y2="813.00" stroke="#000" stroke-width="3.0" stroke-linecap="butt"/>
<line x1="939.30" y1="509.70" x2="947.70" y2="509.70" stroke="#000" stroke-width="2.8" stroke-linecap="butt"/>
<text x="934.50" y="517.50" font-size="23.6" text-anchor="end" fill="#000">1.2</text>
<line x1="939.30" y1="560.00" x2="947.70" y2="560.00" stroke="#000" stroke-width="2.8" stroke-linecap="butt"/>
<text x="934.50" y="567.80" font-size="23.6" text-anchor="end" fill="#000">1.0</text>
<line x1="939.30" y1="610.30" x2="947.70" y2="610.30" stroke="#000" stroke-width="2.8" stroke-linecap="butt"/>
<text x="934.50" y="618.10" font-size="23.6" text-anchor="end" fill="#000">0.8</text>
<line x1="939.30" y1="660.60" x2="947.70" y2="660.60" stroke="#000" stroke-width="2.8" stroke-linecap="butt"/>
<text x="934.50" y="668.40" font-size="23.6" text-anchor="end" fill="#000">0.6</text>
<line x1="939.30" y1="710.90" x2="947.70" y2="710.90" stroke="#000" stroke-width="2.8" stroke-linecap="butt"/>
<text x="934.50" y="718.70" font-size="23.6" text-anchor="end" fill="#000">0.4</text>
<line x1="939.30" y1="761.20" x2="947.70" y2="761.20" stroke="#000" stroke-width="2.8" stroke-linecap="butt"/>
<text x="934.50" y="769.00" font-size="23.6" text-anchor="end" fill="#000">0.2</text>
<line x1="939.30" y1="811.50" x2="947.70" y2="811.50" stroke="#000" stroke-width="2.8" stroke-linecap="butt"/>
<text x="934.50" y="819.30" font-size="23.6" text-anchor="end" fill="#000">0.0</text>
<line x1="946.20" y1="811.50" x2="1250.90" y2="811.50" stroke="#000" stroke-width="3.0" stroke-linecap="butt"/>
<line x1="947.70" y1="811.50" x2="947.70" y2="819.90" stroke="#000" stroke-width="2.8" stroke-linecap="butt"/>
<line x1="970.41" y1="811.50" x2="970.41" y2="816.30" stroke="#000" stroke-width="2.6599999999999997" stroke-linecap="butt"/>
<line x1="983.70" y1="811.50" x2="983.70" y2="816.30" stroke="#000" stroke-width="2.6599999999999997" stroke-linecap="butt"/>
<line x1="993.13" y1="811.50" x2="993.13" y2="816.30" stroke="#000" stroke-width="2.6599999999999997" stroke-linecap="butt"/>
<line x1="1000.44" y1="811.50" x2="1000.44" y2="816.30" stroke="#000" stroke-width="2.6599999999999997" stroke-linecap="butt"/>
<line x1="1006.41" y1="811.50" x2="1006.41" y2="816.30" stroke="#000" stroke-width="2.6599999999999997" stroke-linecap="butt"/>
<line x1="1011.46" y1="811.50" x2="1011.46" y2="816.30" stroke="#000" stroke-width="2.6599999999999997" stroke-linecap="butt"/>
<line x1="1015.84" y1="811.50" x2="1015.84" y2="816.30" stroke="#000" stroke-width="2.6599999999999997" stroke-linecap="butt"/>
<line x1="1019.70" y1="811.50" x2="1019.70" y2="816.30" stroke="#000" stroke-width="2.6599999999999997" stroke-linecap="butt"/>
<line x1="1023.15" y1="811.50" x2="1023.15" y2="819.90" stroke="#000" stroke-width="2.8" stroke-linecap="butt"/>
<line x1="1045.86" y1="811.50" x2="1045.86" y2="816.30" stroke="#000" stroke-width="2.6599999999999997" stroke-linecap="butt"/>
<line x1="1059.15" y1="811.50" x2="1059.15" y2="816.30" stroke="#000" stroke-width="2.6599999999999997" stroke-linecap="butt"/>
<line x1="1068.58" y1="811.50" x2="1068.58" y2="816.30" stroke="#000" stroke-width="2.6599999999999997" stroke-linecap="butt"/>
<line x1="1075.89" y1="811.50" x2="1075.89" y2="816.30" stroke="#000" stroke-width="2.6599999999999997" stroke-linecap="butt"/>
<line x1="1081.86" y1="811.50" x2="1081.86" y2="816.30" stroke="#000" stroke-width="2.6599999999999997" stroke-linecap="butt"/>
<line x1="1086.91" y1="811.50" x2="1086.91" y2="816.30" stroke="#000" stroke-width="2.6599999999999997" stroke-linecap="butt"/>
<line x1="1091.29" y1="811.50" x2="1091.29" y2="816.30" stroke="#000" stroke-width="2.6599999999999997" stroke-linecap="butt"/>
<line x1="1095.15" y1="811.50" x2="1095.15" y2="816.30" stroke="#000" stroke-width="2.6599999999999997" stroke-linecap="butt"/>
<line x1="1098.60" y1="811.50" x2="1098.60" y2="819.90" stroke="#000" stroke-width="2.8" stroke-linecap="butt"/>
<line x1="1121.31" y1="811.50" x2="1121.31" y2="816.30" stroke="#000" stroke-width="2.6599999999999997" stroke-linecap="butt"/>
<line x1="1134.60" y1="811.50" x2="1134.60" y2="816.30" stroke="#000" stroke-width="2.6599999999999997" stroke-linecap="butt"/>
<line x1="1144.03" y1="811.50" x2="1144.03" y2="816.30" stroke="#000" stroke-width="2.6599999999999997" stroke-linecap="butt"/>
<line x1="1151.34" y1="811.50" x2="1151.34" y2="816.30" stroke="#000" stroke-width="2.6599999999999997" stroke-linecap="butt"/>
<line x1="1157.31" y1="811.50" x2="1157.31" y2="816.30" stroke="#000" stroke-width="2.6599999999999997" stroke-linecap="butt"/>
<line x1="1162.36" y1="811.50" x2="1162.36" y2="816.30" stroke="#000" stroke-width="2.6599999999999997" stroke-linecap="butt"/>
<line x1="1166.74" y1="811.50" x2="1166.74" y2="816.30" stroke="#000" stroke-width="2.6599999999999997" stroke-linecap="butt"/>
<line x1="1170.60" y1="811.50" x2="1170.60" y2="816.30" stroke="#000" stroke-width="2.6599999999999997" stroke-linecap="butt"/>
<line x1="1174.05" y1="811.50" x2="1174.05" y2="819.90" stroke="#000" stroke-width="2.8" stroke-linecap="butt"/>
<line x1="1196.76" y1="811.50" x2="1196.76" y2="816.30" stroke="#000" stroke-width="2.6599999999999997" stroke-linecap="butt"/>
<line x1="1210.05" y1="811.50" x2="1210.05" y2="816.30" stroke="#000" stroke-width="2.6599999999999997" stroke-linecap="butt"/>
<line x1="1219.48" y1="811.50" x2="1219.48" y2="816.30" stroke="#000" stroke-width="2.6599999999999997" stroke-linecap="butt"/>
<line x1="1226.79" y1="811.50" x2="1226.79" y2="816.30" stroke="#000" stroke-width="2.6599999999999997" stroke-linecap="butt"/>
<line x1="1232.76" y1="811.50" x2="1232.76" y2="816.30" stroke="#000" stroke-width="2.6599999999999997" stroke-linecap="butt"/>
<line x1="1237.81" y1="811.50" x2="1237.81" y2="816.30" stroke="#000" stroke-width="2.6599999999999997" stroke-linecap="butt"/>
<line x1="1242.19" y1="811.50" x2="1242.19" y2="816.30" stroke="#000" stroke-width="2.6599999999999997" stroke-linecap="butt"/>
<line x1="1246.05" y1="811.50" x2="1246.05" y2="816.30" stroke="#000" stroke-width="2.6599999999999997" stroke-linecap="butt"/>
<line x1="1249.50" y1="811.50" x2="1249.50" y2="819.90" stroke="#000" stroke-width="2.8" stroke-linecap="butt"/>
<text x="944.70" y="845.10" font-size="23.1" text-anchor="middle" fill="#000">0.1</text>
<text x="1020.75" y="845.10" font-size="23.1" text-anchor="middle" fill="#000">1</text>
<text x="1097.30" y="845.10" font-size="23.1" text-anchor="middle" fill="#000">10</text>
<text x="1172.15" y="845.10" font-size="23.1" text-anchor="middle" fill="#000">100</text>
<text x="1248.00" y="845.10" font-size="23.1" text-anchor="middle" fill="#000">1000</text>
<text x="1064.60" y="882.00" font-size="23.9" text-anchor="middle" fill="#000">MgCl2 [mM]</text>
<text x="878.00" y="671.20" font-size="23.9" text-anchor="middle" fill="#000" transform="rotate(-90 878.00 671.20)">relative cell viability</text>
<path d="M1081.50 692.40V706.60M1075.50 692.40h12.0M1075.50 706.60h12.0" stroke="#000" stroke-width="2.9" fill="none"/>
<path d="M1105.70 666.80V691.80M1099.70 666.80h12.0M1099.70 691.80h12.0" stroke="#000" stroke-width="2.9" fill="none"/>
<path d="M1128.50 633.80V678.80M1122.50 633.80h12.0M1122.50 678.80h12.0" stroke="#000" stroke-width="2.9" fill="none"/>
<path d="M1151.00 640.00V657.00M1145.00 640.00h12.0M1145.00 657.00h12.0" stroke="#000" stroke-width="2.9" fill="none"/>
<path d="M1173.70 684.90V724.00M1167.70 684.90h12.0M1167.70 724.00h12.0" stroke="#000" stroke-width="2.9" fill="none"/>
<polygon points="1013.50,691.57 1018.90,702.17 1008.10,702.17" fill="#fff" stroke="#000" stroke-width="3.0" stroke-linejoin="round"/>
<polygon points="1036.30,691.57 1041.70,702.17 1030.90,702.17" fill="#fff" stroke="#000" stroke-width="3.0" stroke-linejoin="round"/>
<polygon points="1059.00,683.17 1064.40,693.77 1053.60,693.77" fill="#fff" stroke="#000" stroke-width="3.0" stroke-linejoin="round"/>
<polygon points="1081.50,695.17 1086.90,705.77 1076.10,705.77" fill="#fff" stroke="#000" stroke-width="3.0" stroke-linejoin="round"/>
<polygon points="1105.70,673.47 1111.10,684.07 1100.30,684.07" fill="#fff" stroke="#000" stroke-width="3.0" stroke-linejoin="round"/>
<polygon points="1128.50,650.47 1133.90,661.07 1123.10,661.07" fill="#fff" stroke="#000" stroke-width="3.0" stroke-linejoin="round"/>
<polygon points="1151.00,642.97 1156.40,653.57 1145.60,653.57" fill="#fff" stroke="#000" stroke-width="3.0" stroke-linejoin="round"/>
<polygon points="1173.70,698.47 1179.10,709.07 1168.30,709.07" fill="#fff" stroke="#000" stroke-width="3.0" stroke-linejoin="round"/>
<path d="M1013.50 720.00V734.20M1007.50 720.00h12.0M1007.50 734.20h12.0" stroke="#000" stroke-width="2.9" fill="none"/>
<path d="M1036.30 716.80V737.60M1030.30 716.80h12.0M1030.30 737.60h12.0" stroke="#000" stroke-width="2.9" fill="none"/>
<path d="M1059.00 708.00V734.30M1053.00 708.00h12.0M1053.00 734.30h12.0" stroke="#000" stroke-width="2.9" fill="none"/>
<path d="M1151.00 654.00V680.70M1145.00 654.00h12.0M1145.00 680.70h12.0" stroke="#000" stroke-width="2.9" fill="none"/>
<rect x="1007.95" y="721.55" width="11.1" height="11.1" fill="#fff" stroke="#000" stroke-width="3.1" stroke-linejoin="round"/>
<rect x="1030.75" y="721.85" width="11.1" height="11.1" fill="#fff" stroke="#000" stroke-width="3.1" stroke-linejoin="round"/>
<rect x="1053.45" y="715.95" width="11.1" height="11.1" fill="#fff" stroke="#000" stroke-width="3.1" stroke-linejoin="round"/>
<rect x="1075.95" y="731.25" width="11.1" height="11.1" fill="#fff" stroke="#000" stroke-width="3.1" stroke-linejoin="round"/>
<rect x="1100.15" y="721.45" width="11.1" height="11.1" fill="#fff" stroke="#000" stroke-width="3.1" stroke-linejoin="round"/>
<rect x="1122.95" y="706.25" width="11.1" height="11.1" fill="#fff" stroke="#000" stroke-width="3.1" stroke-linejoin="round"/>
<rect x="1145.45" y="661.25" width="11.1" height="11.1" fill="#fff" stroke="#000" stroke-width="3.1" stroke-linejoin="round"/>
<rect x="1168.15" y="667.15" width="11.1" height="11.1" fill="#fff" stroke="#000" stroke-width="3.1" stroke-linejoin="round"/>
<path d="M1013.50 556.30V591.90M1007.50 556.30h12.0M1007.50 591.90h12.0" stroke="#000" stroke-width="2.9" fill="none"/>
<path d="M1036.30 559.40V587.70M1030.30 559.40h12.0M1030.30 587.70h12.0" stroke="#000" stroke-width="2.9" fill="none"/>
<path d="M1059.00 560.00V596.60M1053.00 560.00h12.0M1053.00 596.60h12.0" stroke="#000" stroke-width="2.9" fill="none"/>
<path d="M1081.50 558.00V595.20M1075.50 558.00h12.0M1075.50 595.20h12.0" stroke="#000" stroke-width="2.9" fill="none"/>
<path d="M1105.70 562.40V600.80M1099.70 562.40h12.0M1099.70 600.80h12.0" stroke="#000" stroke-width="2.9" fill="none"/>
<path d="M1128.50 571.00V593.00M1122.50 571.00h12.0M1122.50 593.00h12.0" stroke="#000" stroke-width="2.9" fill="none"/>
<path d="M1151.00 628.20V655.40M1145.00 628.20h12.0M1145.00 655.40h12.0" stroke="#000" stroke-width="2.9" fill="none"/>
<circle cx="1013.50" cy="574.40" r="7.4" fill="#000"/>
<circle cx="1036.30" cy="573.80" r="7.4" fill="#000"/>
<circle cx="1059.00" cy="578.50" r="7.4" fill="#000"/>
<circle cx="1081.50" cy="576.90" r="7.4" fill="#000"/>
<circle cx="1105.70" cy="581.90" r="7.4" fill="#000"/>
<circle cx="1128.50" cy="581.90" r="7.4" fill="#000"/>
<circle cx="1151.00" cy="641.80" r="7.4" fill="#000"/>
<circle cx="1173.70" cy="721.20" r="7.4" fill="#000"/>
<circle cx="1268.40" cy="521.40" r="7.5" fill="#000"/>
<rect x="1262.85" y="550.75" width="11.1" height="11.1" fill="#fff" stroke="#000" stroke-width="3.1" stroke-linejoin="round"/>
<polygon points="1268.40,585.47 1273.80,596.07 1263.00,596.07" fill="#fff" stroke="#000" stroke-width="3.0" stroke-linejoin="round"/>
<text x="1303.00" y="529.80" font-size="23.9" text-anchor="start" fill="#000">no virus</text>
<text x="1303.00" y="564.70" font-size="23.9" text-anchor="start" fill="#000">MOI 1000</text>
<text x="1303.00" y="599.70" font-size="23.9" text-anchor="start" fill="#000">MOI 250</text>
<text x="-0.80" y="500.00" font-size="34.0" text-anchor="start" fill="#000" style="stroke-width:0.2px">B</text>
<line x1="111.60" y1="978.16" x2="111.60" y2="1293.90" stroke="#000" stroke-width="3.0" stroke-linecap="butt"/>
<line x1="105.00" y1="979.56" x2="111.60" y2="979.56" stroke="#000" stroke-width="2.8" stroke-linecap="butt"/>
<text x="99.00" y="987.56" font-size="24.0" text-anchor="end" fill="#000">2.2</text>
<line x1="105.00" y1="1030.00" x2="111.60" y2="1030.00" stroke="#000" stroke-width="2.8" stroke-linecap="butt"/>
<text x="99.00" y="1038.00" font-size="24.0" text-anchor="end" fill="#000">2.0</text>
<line x1="105.00" y1="1080.44" x2="111.60" y2="1080.44" stroke="#000" stroke-width="2.8" stroke-linecap="butt"/>
<text x="99.00" y="1088.44" font-size="24.0" text-anchor="end" fill="#000">1.8</text>
<line x1="105.00" y1="1130.88" x2="111.60" y2="1130.88" stroke="#000" stroke-width="2.8" stroke-linecap="butt"/>
<text x="99.00" y="1138.88" font-size="24.0" text-anchor="end" fill="#000">1.6</text>
<line x1="105.00" y1="1181.32" x2="111.60" y2="1181.32" stroke="#000" stroke-width="2.8" stroke-linecap="butt"/>
<text x="99.00" y="1189.32" font-size="24.0" text-anchor="end" fill="#000">1.4</text>
<line x1="105.00" y1="1231.76" x2="111.60" y2="1231.76" stroke="#000" stroke-width="2.8" stroke-linecap="butt"/>
<text x="99.00" y="1239.76" font-size="24.0" text-anchor="end" fill="#000">1.2</text>
<line x1="105.00" y1="1282.20" x2="111.60" y2="1282.20" stroke="#000" stroke-width="2.8" stroke-linecap="butt"/>
<text x="99.00" y="1290.20" font-size="24.0" text-anchor="end" fill="#000">1.0</text>
<line x1="110.10" y1="1292.40" x2="418.60" y2="1292.40" stroke="#000" stroke-width="3.0" stroke-linecap="butt"/>
<line x1="122.20" y1="1292.40" x2="122.20" y2="1298.40" stroke="#000" stroke-width="2.8" stroke-linecap="butt"/>
<line x1="162.40" y1="1292.40" x2="162.40" y2="1298.40" stroke="#000" stroke-width="2.8" stroke-linecap="butt"/>
<line x1="202.60" y1="1292.40" x2="202.60" y2="1298.40" stroke="#000" stroke-width="2.8" stroke-linecap="butt"/>
<line x1="242.80" y1="1292.40" x2="242.80" y2="1298.40" stroke="#000" stroke-width="2.8" stroke-linecap="butt"/>
<line x1="283.00" y1="1292.40" x2="283.00" y2="1298.40" stroke="#000" stroke-width="2.8" stroke-linecap="butt"/>
<line x1="323.20" y1="1292.40" x2="323.20" y2="1298.40" stroke="#000" stroke-width="2.8" stroke-linecap="butt"/>
<line x1="363.40" y1="1292.40" x2="363.40" y2="1298.40" stroke="#000" stroke-width="2.8" stroke-linecap="butt"/>
<line x1="403.60" y1="1292.40" x2="403.60" y2="1298.40" stroke="#000" stroke-width="2.8" stroke-linecap="butt"/>
<text x="162.40" y="1322.00" font-size="23.8" text-anchor="middle" fill="#000">0.4</text>
<text x="242.80" y="1322.00" font-size="23.8" text-anchor="middle" fill="#000">0.6</text>
<text x="323.20" y="1322.00" font-size="23.8" text-anchor="middle" fill="#000">0.8</text>
<text x="406.20" y="1322.00" font-size="23.8" text-anchor="middle" fill="#000">1</text>
<text x="288.50" y="1352.20" font-size="23.9" text-anchor="middle" fill="#000">relative viability</text>
<text x="41.50" y="1163.80" font-size="23.9" transform="rotate(-90 41.50 1163.80)">F<tspan font-size="13.8" dy="8.0">max</tspan><tspan dy="-8.0">/F</tspan><tspan font-size="13.8" dy="8.0">0</tspan></text>
<path d="M261.0 1041.0h0M308.2 996.1h0M338.4 1024.9h0M304.3 1061.3h0M322.0 1064.9h0M348.4 1062.7h0M241.5 1079.9h0M286.2 1082.1h0M352.0 1087.1h0M290.9 1094.6h0M229.9 1104.1h0M244.0 1101.3h0M291.5 1101.8h0M307.3 1101.6h0M245.1 1129.9h0M236.5 1133.2h0M246.3 1142.1h0M247.9 1148.5h0M234.0 1155.4h0M295.9 1155.4h0M287.9 1158.8h0M252.1 1162.4h0M273.5 1166.8h0M281.8 1166.5h0M250.1 1178.2h0M373.7 1182.6h0M229.0 1181.8h0M218.2 1191.2h0M235.4 1194.0h0M243.5 1198.5h0M306.2 1198.5h0M225.2 1204.6h0M210.4 1215.1h0M224.0 1214.8h0M387.0 1213.2h0M216.3 1222.3h0M262.4 1224.3h0M332.3 1221.8h0M357.6 1220.1h0M400.3 1220.1h0M270.7 1231.1h0M242.9 1233.3h0M205.4 1233.8h0M202.1 1236.9h0M226.8 1236.9h0M332.3 1234.9h0M361.2 1240.5h0M217.1 1242.4h0M238.2 1241.6h0M231.0 1244.4h0M251.2 1247.7h0M258.7 1246.9h0M283.7 1250.5h0M276.2 1253.3h0M304.0 1253.0h0M295.7 1256.9h0M228.5 1256.0h0M238.8 1254.9h0M234.6 1259.7h0M306.2 1260.8h0M403.9 1254.9h0M310.9 1266.6h0M314.3 1270.2h0M150.5 1280.8h0M167.8 1281.4h0M174.9 1280.8h0M181.4 1278.7h0M184.1 1275.1h0M187.5 1279.8h0M190.6 1275.7h0M195.7 1269.6h0M194.7 1277.7h0M200.8 1263.1h0M205.9 1261.8h0M211.0 1263.5h0M201.8 1273.6h0M199.8 1280.8h0M204.8 1277.7h0M211.0 1269.6h0M214.0 1275.7h0M217.1 1280.8h0M219.1 1265.5h0M222.1 1263.5h0M225.2 1263.1h0M228.3 1266.5h0M224.2 1271.6h0M221.1 1275.7h0M226.2 1277.7h0M230.3 1275.7h0M223.2 1280.8h0M232.3 1279.8h0M235.4 1274.7h0M238.4 1277.7h0M240.5 1269.6h0M243.5 1268.6h0M249.6 1268.6h0M242.5 1273.6h0M246.6 1275.7h0M250.7 1277.7h0M241.5 1280.8h0M247.6 1279.8h0M253.7 1276.7h0M257.8 1277.7h0M265.9 1271.0h0M266.9 1275.7h0M272.0 1276.7h0M266.9 1279.8h0M278.1 1273.6h0M280.2 1277.7h0M208.9 1280.8h0M213.0 1279.8h0M191.6 1280.8h0M197.7 1274.7h0M206.9 1269.6h0M216.0 1270.6h0M233.3 1276.7h0M236.4 1280.8h0M220.1 1279.8h0M228.3 1280.8h0M254.7 1279.8h0M261.8 1275.7h0M262.9 1278.7h0M244.5 1278.7h0M205.9 1266.5h0M222.1 1268.6h0" stroke="#3E9A9C" stroke-width="7.3" stroke-linecap="round" fill="none"/>
<path d="M261.0 1041.0h0M308.2 996.1h0M338.4 1024.9h0M304.3 1061.3h0M322.0 1064.9h0M348.4 1062.7h0M241.5 1079.9h0M286.2 1082.1h0M352.0 1087.1h0M290.9 1094.6h0M229.9 1104.1h0M244.0 1101.3h0M291.5 1101.8h0M307.3 1101.6h0M245.1 1129.9h0M236.5 1133.2h0M246.3 1142.1h0M247.9 1148.5h0M234.0 1155.4h0M295.9 1155.4h0M287.9 1158.8h0M252.1 1162.4h0M273.5 1166.8h0M281.8 1166.5h0M250.1 1178.2h0M373.7 1182.6h0M229.0 1181.8h0M218.2 1191.2h0M235.4 1194.0h0M243.5 1198.5h0M306.2 1198.5h0M225.2 1204.6h0M210.4 1215.1h0M224.0 1214.8h0M387.0 1213.2h0M216.3 1222.3h0M262.4 1224.3h0M332.3 1221.8h0M357.6 1220.1h0M400.3 1220.1h0M270.7 1231.1h0M242.9 1233.3h0M205.4 1233.8h0M202.1 1236.9h0M226.8 1236.9h0M332.3 1234.9h0M361.2 1240.5h0M217.1 1242.4h0M238.2 1241.6h0M231.0 1244.4h0M251.2 1247.7h0M258.7 1246.9h0M283.7 1250.5h0M276.2 1253.3h0M304.0 1253.0h0M295.7 1256.9h0M228.5 1256.0h0M238.8 1254.9h0M234.6 1259.7h0M306.2 1260.8h0M403.9 1254.9h0M310.9 1266.6h0M314.3 1270.2h0M150.5 1280.8h0M167.8 1281.4h0M174.9 1280.8h0M181.4 1278.7h0M184.1 1275.1h0M187.5 1279.8h0M190.6 1275.7h0M195.7 1269.6h0M194.7 1277.7h0M200.8 1263.1h0M205.9 1261.8h0M211.0 1263.5h0M201.8 1273.6h0M199.8 1280.8h0M204.8 1277.7h0M211.0 1269.6h0M214.0 1275.7h0M217.1 1280.8h0M219.1 1265.5h0M222.1 1263.5h0M225.2 1263.1h0M228.3 1266.5h0M224.2 1271.6h0M221.1 1275.7h0M226.2 1277.7h0M230.3 1275.7h0M223.2 1280.8h0M232.3 1279.8h0M235.4 1274.7h0M238.4 1277.7h0M240.5 1269.6h0M243.5 1268.6h0M249.6 1268.6h0M242.5 1273.6h0M246.6 1275.7h0M250.7 1277.7h0M241.5 1280.8h0M247.6 1279.8h0M253.7 1276.7h0M257.8 1277.7h0M265.9 1271.0h0M266.9 1275.7h0M272.0 1276.7h0M266.9 1279.8h0M278.1 1273.6h0M280.2 1277.7h0M208.9 1280.8h0M213.0 1279.8h0M191.6 1280.8h0M197.7 1274.7h0M206.9 1269.6h0M216.0 1270.6h0M233.3 1276.7h0M236.4 1280.8h0M220.1 1279.8h0M228.3 1280.8h0M254.7 1279.8h0M261.8 1275.7h0M262.9 1278.7h0M244.5 1278.7h0M205.9 1266.5h0M222.1 1268.6h0" stroke="#58B4B6" stroke-width="1.4" stroke-linecap="round" fill="none"/>
<circle cx="207.90" cy="1275.68" r="3.5" fill="#000"/>
<circle cx="207.90" cy="1275.68" r="0.7" fill="#ddd"/>
<circle cx="355.50" cy="1237.61" r="3.4" fill="#94B024"/>
<circle cx="331.07" cy="1250.64" r="3.4" fill="#C84A1E"/>
<circle cx="402.32" cy="1268.56" r="3.4" fill="#A0693C"/>
<rect x="299.20" y="987.80" width="18.00" height="17.60" fill="none" stroke="#000" stroke-width="1.9"/>
<rect x="329.80" y="1016.30" width="18.00" height="17.60" fill="none" stroke="#D0312D" stroke-width="1.9"/>
<circle cx="431.10" cy="986.60" r="3.6" fill="#A0693C"/>
<text x="450.00" y="993.70" font-size="23.9" text-anchor="start" fill="#000">untreated cells (no virus)</text>
<circle cx="431.10" cy="1016.60" r="3.6" fill="#000"/>
<text x="450.00" y="1025.50" font-size="23.9" text-anchor="start" fill="#000">DMSO</text>
<circle cx="431.10" cy="1048.80" r="3.6" fill="#C84A1E"/>
<text x="450.00" y="1057.70" font-size="23.9" text-anchor="start" fill="#000">100µM Ketamine</text>
<circle cx="431.10" cy="1081.70" r="3.6" fill="#94B024"/>
<text x="450.00" y="1088.80" font-size="23.9" text-anchor="start" fill="#000">10µM MK801</text>
<circle cx="429.20" cy="986.60" r="3.6" fill="#A0693C"/>
<text x="-1.00" y="957.60" font-size="34.0" text-anchor="start" fill="#000" style="stroke-width:0.2px">C</text>
<line x1="120.50" y1="1435.10" x2="120.50" y2="1739.50" stroke="#000" stroke-width="3.0" stroke-linecap="butt"/>
<line x1="112.10" y1="1436.50" x2="120.50" y2="1436.50" stroke="#000" stroke-width="2.8" stroke-linecap="butt"/>
<text x="106.50" y="1444.30" font-size="23.1" text-anchor="end" fill="#000">2.0</text>
<line x1="112.10" y1="1491.30" x2="120.50" y2="1491.30" stroke="#000" stroke-width="2.8" stroke-linecap="butt"/>
<text x="106.50" y="1499.10" font-size="23.1" text-anchor="end" fill="#000">1.8</text>
<line x1="112.10" y1="1546.10" x2="120.50" y2="1546.10" stroke="#000" stroke-width="2.8" stroke-linecap="butt"/>
<text x="106.50" y="1553.90" font-size="23.1" text-anchor="end" fill="#000">1.6</text>
<line x1="112.10" y1="1600.90" x2="120.50" y2="1600.90" stroke="#000" stroke-width="2.8" stroke-linecap="butt"/>
<text x="106.50" y="1608.70" font-size="23.1" text-anchor="end" fill="#000">1.4</text>
<line x1="112.10" y1="1655.70" x2="120.50" y2="1655.70" stroke="#000" stroke-width="2.8" stroke-linecap="butt"/>
<text x="106.50" y="1663.50" font-size="23.1" text-anchor="end" fill="#000">1.2</text>
<line x1="112.10" y1="1710.50" x2="120.50" y2="1710.50" stroke="#000" stroke-width="2.8" stroke-linecap="butt"/>
<text x="106.50" y="1718.30" font-size="23.1" text-anchor="end" fill="#000">1.0</text>
<line x1="119.00" y1="1738.00" x2="424.30" y2="1738.00" stroke="#000" stroke-width="3.0" stroke-linecap="butt"/>
<line x1="120.50" y1="1738.00" x2="120.50" y2="1746.40" stroke="#000" stroke-width="2.8" stroke-linecap="butt"/>
<line x1="143.26" y1="1738.00" x2="143.26" y2="1742.80" stroke="#000" stroke-width="2.6599999999999997" stroke-linecap="butt"/>
<line x1="156.57" y1="1738.00" x2="156.57" y2="1742.80" stroke="#000" stroke-width="2.6599999999999997" stroke-linecap="butt"/>
<line x1="166.02" y1="1738.00" x2="166.02" y2="1742.80" stroke="#000" stroke-width="2.6599999999999997" stroke-linecap="butt"/>
<line x1="173.34" y1="1738.00" x2="173.34" y2="1742.80" stroke="#000" stroke-width="2.6599999999999997" stroke-linecap="butt"/>
<line x1="179.33" y1="1738.00" x2="179.33" y2="1742.80" stroke="#000" stroke-width="2.6599999999999997" stroke-linecap="butt"/>
<line x1="184.39" y1="1738.00" x2="184.39" y2="1742.80" stroke="#000" stroke-width="2.6599999999999997" stroke-linecap="butt"/>
<line x1="188.77" y1="1738.00" x2="188.77" y2="1742.80" stroke="#000" stroke-width="2.6599999999999997" stroke-linecap="butt"/>
<line x1="192.64" y1="1738.00" x2="192.64" y2="1742.80" stroke="#000" stroke-width="2.6599999999999997" stroke-linecap="butt"/>
<line x1="196.10" y1="1738.00" x2="196.10" y2="1746.40" stroke="#000" stroke-width="2.8" stroke-linecap="butt"/>
<line x1="218.86" y1="1738.00" x2="218.86" y2="1742.80" stroke="#000" stroke-width="2.6599999999999997" stroke-linecap="butt"/>
<line x1="232.17" y1="1738.00" x2="232.17" y2="1742.80" stroke="#000" stroke-width="2.6599999999999997" stroke-linecap="butt"/>
<line x1="241.62" y1="1738.00" x2="241.62" y2="1742.80" stroke="#000" stroke-width="2.6599999999999997" stroke-linecap="butt"/>
<line x1="248.94" y1="1738.00" x2="248.94" y2="1742.80" stroke="#000" stroke-width="2.6599999999999997" stroke-linecap="butt"/>
<line x1="254.93" y1="1738.00" x2="254.93" y2="1742.80" stroke="#000" stroke-width="2.6599999999999997" stroke-linecap="butt"/>
<line x1="259.99" y1="1738.00" x2="259.99" y2="1742.80" stroke="#000" stroke-width="2.6599999999999997" stroke-linecap="butt"/>
<line x1="264.37" y1="1738.00" x2="264.37" y2="1742.80" stroke="#000" stroke-width="2.6599999999999997" stroke-linecap="butt"/>
<line x1="268.24" y1="1738.00" x2="268.24" y2="1742.80" stroke="#000" stroke-width="2.6599999999999997" stroke-linecap="butt"/>
<line x1="271.70" y1="1738.00" x2="271.70" y2="1746.40" stroke="#000" stroke-width="2.8" stroke-linecap="butt"/>
<line x1="294.46" y1="1738.00" x2="294.46" y2="1742.80" stroke="#000" stroke-width="2.6599999999999997" stroke-linecap="butt"/>
<line x1="307.77" y1="1738.00" x2="307.77" y2="1742.80" stroke="#000" stroke-width="2.6599999999999997" stroke-linecap="butt"/>
<line x1="317.22" y1="1738.00" x2="317.22" y2="1742.80" stroke="#000" stroke-width="2.6599999999999997" stroke-linecap="butt"/>
<line x1="324.54" y1="1738.00" x2="324.54" y2="1742.80" stroke="#000" stroke-width="2.6599999999999997" stroke-linecap="butt"/>
<line x1="330.53" y1="1738.00" x2="330.53" y2="1742.80" stroke="#000" stroke-width="2.6599999999999997" stroke-linecap="butt"/>
<line x1="335.59" y1="1738.00" x2="335.59" y2="1742.80" stroke="#000" stroke-width="2.6599999999999997" stroke-linecap="butt"/>
<line x1="339.97" y1="1738.00" x2="339.97" y2="1742.80" stroke="#000" stroke-width="2.6599999999999997" stroke-linecap="butt"/>
<line x1="343.84" y1="1738.00" x2="343.84" y2="1742.80" stroke="#000" stroke-width="2.6599999999999997" stroke-linecap="butt"/>
<line x1="347.30" y1="1738.00" x2="347.30" y2="1746.40" stroke="#000" stroke-width="2.8" stroke-linecap="butt"/>
<line x1="370.06" y1="1738.00" x2="370.06" y2="1742.80" stroke="#000" stroke-width="2.6599999999999997" stroke-linecap="butt"/>
<line x1="383.37" y1="1738.00" x2="383.37" y2="1742.80" stroke="#000" stroke-width="2.6599999999999997" stroke-linecap="butt"/>
<line x1="392.82" y1="1738.00" x2="392.82" y2="1742.80" stroke="#000" stroke-width="2.6599999999999997" stroke-linecap="butt"/>
<line x1="400.14" y1="1738.00" x2="400.14" y2="1742.80" stroke="#000" stroke-width="2.6599999999999997" stroke-linecap="butt"/>
<line x1="406.13" y1="1738.00" x2="406.13" y2="1742.80" stroke="#000" stroke-width="2.6599999999999997" stroke-linecap="butt"/>
<line x1="411.19" y1="1738.00" x2="411.19" y2="1742.80" stroke="#000" stroke-width="2.6599999999999997" stroke-linecap="butt"/>
<line x1="415.57" y1="1738.00" x2="415.57" y2="1742.80" stroke="#000" stroke-width="2.6599999999999997" stroke-linecap="butt"/>
<line x1="419.44" y1="1738.00" x2="419.44" y2="1742.80" stroke="#000" stroke-width="2.6599999999999997" stroke-linecap="butt"/>
<line x1="422.90" y1="1738.00" x2="422.90" y2="1746.40" stroke="#000" stroke-width="2.8" stroke-linecap="butt"/>
<text x="120.30" y="1772.30" font-size="23.1" text-anchor="middle" fill="#000">0.1</text>
<text x="196.40" y="1772.30" font-size="23.1" text-anchor="middle" fill="#000">1</text>
<text x="272.30" y="1772.30" font-size="23.1" text-anchor="middle" fill="#000">10</text>
<text x="348.70" y="1772.30" font-size="23.1" text-anchor="middle" fill="#000">100</text>
<text x="424.50" y="1772.30" font-size="23.1" text-anchor="middle" fill="#000">1000</text>
<text x="275.00" y="1802.80" font-size="23.9" text-anchor="middle" fill="#000">concentration MDL105,519 [µM]</text>
<text x="46.00" y="1632.20" font-size="23.9" transform="rotate(-90 46.00 1632.20)">F<tspan font-size="13.8" dy="8.0">max</tspan><tspan dy="-8.0">/F</tspan><tspan font-size="13.8" dy="8.0">0</tspan></text>
<path d="M255.85 1672.80V1687.31M249.85 1672.80h12.0M249.85 1687.31h12.0" stroke="#000" stroke-width="2.9" fill="none"/>
<path d="M278.65 1648.51V1668.06M272.65 1648.51h12.0M272.65 1668.06h12.0" stroke="#000" stroke-width="2.9" fill="none"/>
<path d="M301.45 1605.87V1640.81M295.45 1605.87h12.0M295.45 1640.81h12.0" stroke="#000" stroke-width="2.9" fill="none"/>
<path d="M324.25 1544.87V1584.55M318.25 1544.87h12.0M318.25 1584.55h12.0" stroke="#000" stroke-width="2.9" fill="none"/>
<path d="M347.05 1469.36V1532.73M341.05 1469.36h12.0M341.05 1532.73h12.0" stroke="#000" stroke-width="2.9" fill="none"/>
<polyline points="187.74,1700.93 210.54,1697.97 233.05,1694.41 255.85,1680.20 278.65,1658.29 301.45,1623.34 324.25,1565.30 347.05,1501.34" fill="none" stroke="#D8301F" stroke-width="3.0" stroke-linejoin="round"/>
<circle cx="187.74" cy="1700.93" r="5.75" fill="#DE2E1E" stroke="#000" stroke-width="3.2"/>
<circle cx="210.54" cy="1697.97" r="5.75" fill="#DE2E1E" stroke="#000" stroke-width="3.2"/>
<circle cx="233.05" cy="1694.41" r="5.75" fill="#DE2E1E" stroke="#000" stroke-width="3.2"/>
<circle cx="255.85" cy="1680.20" r="5.75" fill="#DE2E1E" stroke="#000" stroke-width="3.2"/>
<circle cx="278.65" cy="1658.29" r="5.75" fill="#DE2E1E" stroke="#000" stroke-width="3.2"/>
<circle cx="301.45" cy="1623.34" r="5.75" fill="#DE2E1E" stroke="#000" stroke-width="3.2"/>
<circle cx="324.25" cy="1565.30" r="5.75" fill="#DE2E1E" stroke="#000" stroke-width="3.2"/>
<circle cx="347.05" cy="1501.34" r="5.75" fill="#DE2E1E" stroke="#000" stroke-width="3.2"/>
<text x="0.00" y="1429.50" font-size="34.0" text-anchor="start" fill="#000" style="stroke-width:0.2px">D</text>
<line x1="722.10" y1="1435.10" x2="722.10" y2="1739.50" stroke="#000" stroke-width="3.0" stroke-linecap="butt"/>
<line x1="713.70" y1="1436.50" x2="722.10" y2="1436.50" stroke="#000" stroke-width="2.8" stroke-linecap="butt"/>
<text x="708.10" y="1444.30" font-size="23.8" text-anchor="end" fill="#000">1.0</text>
<line x1="713.70" y1="1496.80" x2="722.10" y2="1496.80" stroke="#000" stroke-width="2.8" stroke-linecap="butt"/>
<text x="708.10" y="1504.60" font-size="23.8" text-anchor="end" fill="#000">0.8</text>
<line x1="713.70" y1="1557.10" x2="722.10" y2="1557.10" stroke="#000" stroke-width="2.8" stroke-linecap="butt"/>
<text x="708.10" y="1564.90" font-size="23.8" text-anchor="end" fill="#000">0.6</text>
<line x1="713.70" y1="1617.40" x2="722.10" y2="1617.40" stroke="#000" stroke-width="2.8" stroke-linecap="butt"/>
<text x="708.10" y="1625.20" font-size="23.8" text-anchor="end" fill="#000">0.4</text>
<line x1="713.70" y1="1677.70" x2="722.10" y2="1677.70" stroke="#000" stroke-width="2.8" stroke-linecap="butt"/>
<text x="708.10" y="1685.50" font-size="23.8" text-anchor="end" fill="#000">0.2</text>
<line x1="713.70" y1="1738.00" x2="722.10" y2="1738.00" stroke="#000" stroke-width="2.8" stroke-linecap="butt"/>
<text x="708.10" y="1745.80" font-size="23.8" text-anchor="end" fill="#000">0.0</text>
<line x1="720.60" y1="1738.00" x2="1025.70" y2="1738.00" stroke="#000" stroke-width="3.0" stroke-linecap="butt"/>
<line x1="722.10" y1="1738.00" x2="722.10" y2="1746.40" stroke="#000" stroke-width="2.8" stroke-linecap="butt"/>
<line x1="744.84" y1="1738.00" x2="744.84" y2="1742.80" stroke="#000" stroke-width="2.6599999999999997" stroke-linecap="butt"/>
<line x1="758.15" y1="1738.00" x2="758.15" y2="1742.80" stroke="#000" stroke-width="2.6599999999999997" stroke-linecap="butt"/>
<line x1="767.59" y1="1738.00" x2="767.59" y2="1742.80" stroke="#000" stroke-width="2.6599999999999997" stroke-linecap="butt"/>
<line x1="774.91" y1="1738.00" x2="774.91" y2="1742.80" stroke="#000" stroke-width="2.6599999999999997" stroke-linecap="butt"/>
<line x1="780.89" y1="1738.00" x2="780.89" y2="1742.80" stroke="#000" stroke-width="2.6599999999999997" stroke-linecap="butt"/>
<line x1="785.95" y1="1738.00" x2="785.95" y2="1742.80" stroke="#000" stroke-width="2.6599999999999997" stroke-linecap="butt"/>
<line x1="790.33" y1="1738.00" x2="790.33" y2="1742.80" stroke="#000" stroke-width="2.6599999999999997" stroke-linecap="butt"/>
<line x1="794.19" y1="1738.00" x2="794.19" y2="1742.80" stroke="#000" stroke-width="2.6599999999999997" stroke-linecap="butt"/>
<line x1="797.65" y1="1738.00" x2="797.65" y2="1746.40" stroke="#000" stroke-width="2.8" stroke-linecap="butt"/>
<line x1="820.39" y1="1738.00" x2="820.39" y2="1742.80" stroke="#000" stroke-width="2.6599999999999997" stroke-linecap="butt"/>
<line x1="833.70" y1="1738.00" x2="833.70" y2="1742.80" stroke="#000" stroke-width="2.6599999999999997" stroke-linecap="butt"/>
<line x1="843.14" y1="1738.00" x2="843.14" y2="1742.80" stroke="#000" stroke-width="2.6599999999999997" stroke-linecap="butt"/>
<line x1="850.46" y1="1738.00" x2="850.46" y2="1742.80" stroke="#000" stroke-width="2.6599999999999997" stroke-linecap="butt"/>
<line x1="856.44" y1="1738.00" x2="856.44" y2="1742.80" stroke="#000" stroke-width="2.6599999999999997" stroke-linecap="butt"/>
<line x1="861.50" y1="1738.00" x2="861.50" y2="1742.80" stroke="#000" stroke-width="2.6599999999999997" stroke-linecap="butt"/>
<line x1="865.88" y1="1738.00" x2="865.88" y2="1742.80" stroke="#000" stroke-width="2.6599999999999997" stroke-linecap="butt"/>
<line x1="869.74" y1="1738.00" x2="869.74" y2="1742.80" stroke="#000" stroke-width="2.6599999999999997" stroke-linecap="butt"/>
<line x1="873.20" y1="1738.00" x2="873.20" y2="1746.40" stroke="#000" stroke-width="2.8" stroke-linecap="butt"/>
<line x1="895.94" y1="1738.00" x2="895.94" y2="1742.80" stroke="#000" stroke-width="2.6599999999999997" stroke-linecap="butt"/>
<line x1="909.25" y1="1738.00" x2="909.25" y2="1742.80" stroke="#000" stroke-width="2.6599999999999997" stroke-linecap="butt"/>
<line x1="918.69" y1="1738.00" x2="918.69" y2="1742.80" stroke="#000" stroke-width="2.6599999999999997" stroke-linecap="butt"/>
<line x1="926.01" y1="1738.00" x2="926.01" y2="1742.80" stroke="#000" stroke-width="2.6599999999999997" stroke-linecap="butt"/>
<line x1="931.99" y1="1738.00" x2="931.99" y2="1742.80" stroke="#000" stroke-width="2.6599999999999997" stroke-linecap="butt"/>
<line x1="937.05" y1="1738.00" x2="937.05" y2="1742.80" stroke="#000" stroke-width="2.6599999999999997" stroke-linecap="butt"/>
<line x1="941.43" y1="1738.00" x2="941.43" y2="1742.80" stroke="#000" stroke-width="2.6599999999999997" stroke-linecap="butt"/>
<line x1="945.29" y1="1738.00" x2="945.29" y2="1742.80" stroke="#000" stroke-width="2.6599999999999997" stroke-linecap="butt"/>
<line x1="948.75" y1="1738.00" x2="948.75" y2="1746.40" stroke="#000" stroke-width="2.8" stroke-linecap="butt"/>
<line x1="971.49" y1="1738.00" x2="971.49" y2="1742.80" stroke="#000" stroke-width="2.6599999999999997" stroke-linecap="butt"/>
<line x1="984.80" y1="1738.00" x2="984.80" y2="1742.80" stroke="#000" stroke-width="2.6599999999999997" stroke-linecap="butt"/>
<line x1="994.24" y1="1738.00" x2="994.24" y2="1742.80" stroke="#000" stroke-width="2.6599999999999997" stroke-linecap="butt"/>
<line x1="1001.56" y1="1738.00" x2="1001.56" y2="1742.80" stroke="#000" stroke-width="2.6599999999999997" stroke-linecap="butt"/>
<line x1="1007.54" y1="1738.00" x2="1007.54" y2="1742.80" stroke="#000" stroke-width="2.6599999999999997" stroke-linecap="butt"/>
<line x1="1012.60" y1="1738.00" x2="1012.60" y2="1742.80" stroke="#000" stroke-width="2.6599999999999997" stroke-linecap="butt"/>
<line x1="1016.98" y1="1738.00" x2="1016.98" y2="1742.80" stroke="#000" stroke-width="2.6599999999999997" stroke-linecap="butt"/>
<line x1="1020.84" y1="1738.00" x2="1020.84" y2="1742.80" stroke="#000" stroke-width="2.6599999999999997" stroke-linecap="butt"/>
<line x1="1024.30" y1="1738.00" x2="1024.30" y2="1746.40" stroke="#000" stroke-width="2.8" stroke-linecap="butt"/>
<text x="719.40" y="1772.30" font-size="23.1" text-anchor="middle" fill="#000">0.1</text>
<text x="795.25" y="1772.30" font-size="23.1" text-anchor="middle" fill="#000">1</text>
<text x="870.50" y="1772.30" font-size="23.1" text-anchor="middle" fill="#000">10</text>
<text x="946.15" y="1772.30" font-size="23.1" text-anchor="middle" fill="#000">100</text>
<text x="1021.40" y="1772.30" font-size="23.1" text-anchor="middle" fill="#000">1000</text>
<text x="873.00" y="1802.80" font-size="23.9" text-anchor="middle" fill="#000">concentration MDL105,519 [µM]</text>
<text x="653.50" y="1581.30" font-size="23.9" text-anchor="middle" fill="#000" transform="rotate(-90 653.50 1581.30)">relative viability</text>
<path d="M788.17 1562.05V1585.44M782.17 1562.05h12.0M782.17 1585.44h12.0" stroke="#000" stroke-width="2.9" fill="none"/>
<path d="M810.97 1561.45V1586.33M804.97 1561.45h12.0M804.97 1586.33h12.0" stroke="#000" stroke-width="2.9" fill="none"/>
<path d="M833.78 1545.76V1578.93M827.78 1545.76h12.0M827.78 1578.93h12.0" stroke="#000" stroke-width="2.9" fill="none"/>
<path d="M856.28 1549.02V1570.34M850.28 1549.02h12.0M850.28 1570.34h12.0" stroke="#000" stroke-width="2.9" fill="none"/>
<path d="M880.27 1538.06V1560.86M874.27 1538.06h12.0M874.27 1560.86h12.0" stroke="#000" stroke-width="2.9" fill="none"/>
<path d="M903.07 1528.58V1543.09M897.07 1528.58h12.0M897.07 1543.09h12.0" stroke="#000" stroke-width="2.9" fill="none"/>
<path d="M925.87 1496.60V1527.40M919.87 1496.60h12.0M919.87 1527.40h12.0" stroke="#000" stroke-width="2.9" fill="none"/>
<path d="M948.67 1445.97V1502.23M942.67 1445.97h12.0M942.67 1502.23h12.0" stroke="#000" stroke-width="2.9" fill="none"/>
<polyline points="788.17,1573.89 810.97,1574.19 833.78,1562.64 856.28,1559.97 880.27,1549.61 903.07,1535.99 925.87,1512.30 948.67,1474.39" fill="none" stroke="#000" stroke-width="2.9" stroke-linejoin="round"/>
<circle cx="788.17" cy="1573.89" r="5.75" fill="#DE2E1E" stroke="#000" stroke-width="3.2"/>
<circle cx="810.97" cy="1574.19" r="5.75" fill="#DE2E1E" stroke="#000" stroke-width="3.2"/>
<circle cx="833.78" cy="1562.64" r="5.75" fill="#DE2E1E" stroke="#000" stroke-width="3.2"/>
<circle cx="856.28" cy="1559.97" r="5.75" fill="#DE2E1E" stroke="#000" stroke-width="3.2"/>
<circle cx="880.27" cy="1549.61" r="5.75" fill="#DE2E1E" stroke="#000" stroke-width="3.2"/>
<circle cx="903.07" cy="1535.99" r="5.75" fill="#DE2E1E" stroke="#000" stroke-width="3.2"/>
<circle cx="925.87" cy="1512.30" r="5.75" fill="#DE2E1E" stroke="#000" stroke-width="3.2"/>
<circle cx="948.67" cy="1474.39" r="5.75" fill="#DE2E1E" stroke="#000" stroke-width="3.2"/>
<text x="592.00" y="1428.60" font-size="34.0" text-anchor="start" fill="#000" style="stroke-width:0.2px">E</text>
<rect x="1283.30" y="1491.70" width="50.90" height="27.50" fill="#E0E1E2"/>
<rect x="1333.60" y="1491.70" width="50.60" height="27.50" fill="#E0E1E2"/>
<rect x="1383.60" y="1491.70" width="53.40" height="27.50" fill="#E0E1E2"/>
<rect x="1436.40" y="1491.70" width="51.70" height="27.50" fill="#E0E1E2"/>
<rect x="1487.50" y="1491.70" width="53.60" height="27.50" fill="#E0E1E2"/>
<rect x="1283.30" y="1518.60" width="50.90" height="27.80" fill="#E0E1E2"/>
<rect x="1333.60" y="1518.60" width="50.60" height="27.80" fill="#A64264"/>
<rect x="1383.60" y="1518.60" width="53.40" height="27.80" fill="#CC2E30"/>
<rect x="1436.40" y="1518.60" width="51.70" height="27.80" fill="#CC2E30"/>
<rect x="1487.50" y="1518.60" width="53.60" height="27.80" fill="#BC3A4A"/>
<rect x="1283.30" y="1545.80" width="50.90" height="28.70" fill="#E0E1E2"/>
<rect x="1333.60" y="1545.80" width="50.60" height="28.70" fill="#CC2E30"/>
<rect x="1383.60" y="1545.80" width="53.40" height="28.70" fill="#D92E22"/>
<rect x="1436.40" y="1545.80" width="51.70" height="28.70" fill="#A64264"/>
<rect x="1487.50" y="1545.80" width="53.60" height="28.70" fill="#BC3A4A"/>
<rect x="1283.30" y="1573.90" width="50.90" height="29.20" fill="#E0E1E2"/>
<rect x="1333.60" y="1573.90" width="50.60" height="29.20" fill="#D92E22"/>
<rect x="1383.60" y="1573.90" width="53.40" height="29.20" fill="#E0331D"/>
<rect x="1436.40" y="1573.90" width="51.70" height="29.20" fill="#CC2E30"/>
<rect x="1487.50" y="1573.90" width="53.60" height="29.20" fill="#7569A0"/>
<rect x="1283.30" y="1602.50" width="50.90" height="29.10" fill="#E0E1E2"/>
<rect x="1333.60" y="1602.50" width="50.60" height="29.10" fill="#BC3A4A"/>
<rect x="1383.60" y="1602.50" width="53.40" height="29.10" fill="#CC2E30"/>
<rect x="1436.40" y="1602.50" width="51.70" height="29.10" fill="#CC2E30"/>
<rect x="1487.50" y="1602.50" width="53.60" height="29.10" fill="#7569A0"/>
<rect x="1283.60" y="1492.00" width="257.20" height="139.30" fill="none" stroke="#111" stroke-width="1.9"/>
<rect x="1386.90" y="1574.10" width="49.10" height="27.90" fill="none" stroke="#000" stroke-width="1.7"/>
<text transform="translate(1309.20 1513.90) scale(0.9 1)" font-size="22.4" text-anchor="middle" fill="#0a0a0a">1.0</text>
<text transform="translate(1360.50 1513.90) scale(0.9 1)" font-size="22.4" text-anchor="middle" fill="#0a0a0a">1.0</text>
<text transform="translate(1411.80 1513.90) scale(0.9 1)" font-size="22.4" text-anchor="middle" fill="#0a0a0a">1.0</text>
<text transform="translate(1463.10 1513.90) scale(0.9 1)" font-size="22.4" text-anchor="middle" fill="#0a0a0a">1.0</text>
<text transform="translate(1514.40 1513.90) scale(0.9 1)" font-size="22.4" text-anchor="middle" fill="#0a0a0a">1.0</text>
<text transform="translate(1309.20 1541.60) scale(0.9 1)" font-size="22.4" text-anchor="middle" fill="#0a0a0a">1.0</text>
<text transform="translate(1360.50 1541.60) scale(0.9 1)" font-size="22.4" text-anchor="middle" fill="#0a0a0a">2.5</text>
<text transform="translate(1411.80 1541.60) scale(0.9 1)" font-size="22.4" text-anchor="middle" fill="#0a0a0a">2.7</text>
<text transform="translate(1463.10 1541.60) scale(0.9 1)" font-size="22.4" text-anchor="middle" fill="#0a0a0a">2.7</text>
<text transform="translate(1514.40 1541.60) scale(0.9 1)" font-size="22.4" text-anchor="middle" fill="#0a0a0a">2.6</text>
<text transform="translate(1309.20 1569.40) scale(0.9 1)" font-size="22.4" text-anchor="middle" fill="#0a0a0a">1.0</text>
<text transform="translate(1360.50 1569.40) scale(0.9 1)" font-size="22.4" text-anchor="middle" fill="#0a0a0a">2.7</text>
<text transform="translate(1411.80 1569.40) scale(0.9 1)" font-size="22.4" text-anchor="middle" fill="#0a0a0a">2.8</text>
<text transform="translate(1463.10 1569.40) scale(0.9 1)" font-size="22.4" text-anchor="middle" fill="#0a0a0a">2.5</text>
<text transform="translate(1514.40 1569.40) scale(0.9 1)" font-size="22.4" text-anchor="middle" fill="#0a0a0a">2.6</text>
<text transform="translate(1309.20 1597.50) scale(0.9 1)" font-size="22.4" text-anchor="middle" fill="#0a0a0a">1.0</text>
<text transform="translate(1360.50 1597.50) scale(0.9 1)" font-size="22.4" text-anchor="middle" fill="#0a0a0a">2.8</text>
<text transform="translate(1411.80 1597.50) scale(0.9 1)" font-size="22.4" text-anchor="middle" fill="#0a0a0a">2.9</text>
<text transform="translate(1463.10 1597.50) scale(0.9 1)" font-size="22.4" text-anchor="middle" fill="#0a0a0a">2.7</text>
<text transform="translate(1514.40 1597.50) scale(0.9 1)" font-size="22.4" text-anchor="middle" fill="#0a0a0a">2.3</text>
<text transform="translate(1309.20 1625.30) scale(0.9 1)" font-size="22.4" text-anchor="middle" fill="#0a0a0a">1.0</text>
<text transform="translate(1360.50 1625.30) scale(0.9 1)" font-size="22.4" text-anchor="middle" fill="#0a0a0a">2.6</text>
<text transform="translate(1411.80 1625.30) scale(0.9 1)" font-size="22.4" text-anchor="middle" fill="#0a0a0a">2.7</text>
<text transform="translate(1463.10 1625.30) scale(0.9 1)" font-size="22.4" text-anchor="middle" fill="#0a0a0a">2.7</text>
<text transform="translate(1514.40 1625.30) scale(0.9 1)" font-size="22.4" text-anchor="middle" fill="#0a0a0a">2.3</text>
<text x="1273.00" y="1516.60" font-size="22.8" text-anchor="end" fill="#000">0</text>
<text x="1273.00" y="1544.10" font-size="22.8" text-anchor="end" fill="#000">2</text>
<text x="1273.00" y="1571.60" font-size="22.8" text-anchor="end" fill="#000">1</text>
<text x="1273.00" y="1599.10" font-size="22.8" text-anchor="end" fill="#000">0.5</text>
<text x="1273.00" y="1626.60" font-size="22.8" text-anchor="end" fill="#000">0.25</text>
<text x="1317.50" y="1483.40" font-size="22.8" text-anchor="start" fill="#000" transform="rotate(-90 1317.50 1483.40)">0</text>
<text x="1368.80" y="1483.40" font-size="22.8" text-anchor="start" fill="#000" transform="rotate(-90 1368.80 1483.40)">2</text>
<text x="1420.10" y="1483.40" font-size="22.8" text-anchor="start" fill="#000" transform="rotate(-90 1420.10 1483.40)">1</text>
<text x="1471.40" y="1483.40" font-size="22.8" text-anchor="start" fill="#000" transform="rotate(-90 1471.40 1483.40)">0.5</text>
<text x="1522.70" y="1483.40" font-size="22.8" text-anchor="start" fill="#000" transform="rotate(-90 1522.70 1483.40)">0.25</text>
<text x="1444.30" y="1430.00" font-size="23.2" text-anchor="middle" fill="#000">NR2A (µl/well)</text>
<text x="1212.30" y="1551.00" font-size="23.2" text-anchor="middle" fill="#000" transform="rotate(-90 1212.30 1551.00)">NR1 (µl/well)</text>
<text x="1558.60" y="1517.50" font-size="23.2" text-anchor="start" fill="#000">Fmax/F0</text>
<rect x="1579.50" y="1531.40" width="21.40" height="17.00" fill="#E0E1E2" stroke="#111" stroke-width="2.0"/>
<text x="1610.80" y="1546.40" font-size="22.8" text-anchor="start" fill="#000">1</text>
<rect x="1579.50" y="1558.15" width="21.40" height="17.00" fill="#5CB3E0" stroke="#111" stroke-width="2.0"/>
<text x="1610.80" y="1573.15" font-size="22.8" text-anchor="start" fill="#000">2</text>
<rect x="1579.50" y="1584.90" width="21.40" height="17.00" fill="#E03020" stroke="#111" stroke-width="2.0"/>
<text x="1610.80" y="1599.90" font-size="22.8" text-anchor="start" fill="#000">3</text>
<text x="1165.70" y="1428.90" font-size="34.0" text-anchor="start" fill="#000" style="stroke-width:0.2px">F</text>
<line x1="121.00" y1="1958.90" x2="121.00" y2="2264.00" stroke="#000" stroke-width="3.0" stroke-linecap="butt"/>
<line x1="112.60" y1="1960.30" x2="121.00" y2="1960.30" stroke="#000" stroke-width="2.8" stroke-linecap="butt"/>
<text x="107.80" y="1968.40" font-size="24.0" text-anchor="end" fill="#000">2.6</text>
<line x1="112.60" y1="1990.52" x2="121.00" y2="1990.52" stroke="#000" stroke-width="2.8" stroke-linecap="butt"/>
<text x="107.80" y="1998.62" font-size="24.0" text-anchor="end" fill="#000">2.4</text>
<line x1="112.60" y1="2020.74" x2="121.00" y2="2020.74" stroke="#000" stroke-width="2.8" stroke-linecap="butt"/>
<text x="107.80" y="2028.84" font-size="24.0" text-anchor="end" fill="#000">2.2</text>
<line x1="112.60" y1="2050.96" x2="121.00" y2="2050.96" stroke="#000" stroke-width="2.8" stroke-linecap="butt"/>
<text x="107.80" y="2059.06" font-size="24.0" text-anchor="end" fill="#000">2.0</text>
<line x1="112.60" y1="2081.18" x2="121.00" y2="2081.18" stroke="#000" stroke-width="2.8" stroke-linecap="butt"/>
<text x="107.80" y="2089.28" font-size="24.0" text-anchor="end" fill="#000">1.8</text>
<line x1="112.60" y1="2111.40" x2="121.00" y2="2111.40" stroke="#000" stroke-width="2.8" stroke-linecap="butt"/>
<text x="107.80" y="2119.50" font-size="24.0" text-anchor="end" fill="#000">1.6</text>
<line x1="112.60" y1="2141.62" x2="121.00" y2="2141.62" stroke="#000" stroke-width="2.8" stroke-linecap="butt"/>
<text x="107.80" y="2149.72" font-size="24.0" text-anchor="end" fill="#000">1.4</text>
<line x1="112.60" y1="2171.84" x2="121.00" y2="2171.84" stroke="#000" stroke-width="2.8" stroke-linecap="butt"/>
<text x="107.80" y="2179.94" font-size="24.0" text-anchor="end" fill="#000">1.2</text>
<line x1="112.60" y1="2202.06" x2="121.00" y2="2202.06" stroke="#000" stroke-width="2.8" stroke-linecap="butt"/>
<text x="107.80" y="2210.16" font-size="24.0" text-anchor="end" fill="#000">1.0</text>
<line x1="112.60" y1="2232.28" x2="121.00" y2="2232.28" stroke="#000" stroke-width="2.8" stroke-linecap="butt"/>
<text x="107.80" y="2240.38" font-size="24.0" text-anchor="end" fill="#000">0.8</text>
<line x1="112.60" y1="2262.50" x2="121.00" y2="2262.50" stroke="#000" stroke-width="2.8" stroke-linecap="butt"/>
<text x="107.80" y="2270.60" font-size="24.0" text-anchor="end" fill="#000">0.6</text>
<line x1="119.50" y1="2262.50" x2="423.92" y2="2262.50" stroke="#000" stroke-width="3.0" stroke-linecap="butt"/>
<line x1="120.90" y1="2262.50" x2="120.90" y2="2270.90" stroke="#000" stroke-width="2.8" stroke-linecap="butt"/>
<text x="120.90" y="2296.40" font-size="24.0" text-anchor="middle" fill="#000">0</text>
<line x1="221.44" y1="2262.50" x2="221.44" y2="2270.90" stroke="#000" stroke-width="2.8" stroke-linecap="butt"/>
<text x="221.44" y="2296.40" font-size="24.0" text-anchor="middle" fill="#000">200</text>
<line x1="321.98" y1="2262.50" x2="321.98" y2="2270.90" stroke="#000" stroke-width="2.8" stroke-linecap="butt"/>
<text x="321.98" y="2296.40" font-size="24.0" text-anchor="middle" fill="#000">400</text>
<line x1="422.52" y1="2262.50" x2="422.52" y2="2270.90" stroke="#000" stroke-width="2.8" stroke-linecap="butt"/>
<text x="422.52" y="2296.40" font-size="24.0" text-anchor="middle" fill="#000">600</text>
<text x="265.10" y="2328.00" font-size="23.9" text-anchor="middle" fill="#000">time [sec]</text>
<text x="41.80" y="2163.76" font-size="23.9" transform="rotate(-90 41.80 2163.76)">F/F<tspan font-size="13.8" dy="8.0">0</tspan></text>
<path d="M130.6 2259.4h0M130.6 2250.4h0M130.6 2241.3h0M130.6 2232.3h0M130.6 2223.2h0M130.6 2214.1h0M130.6 2205.1h0M130.6 2196.0h0M130.6 2186.9h0M130.6 2177.9h0M130.6 2168.8h0M130.6 2159.7h0M130.6 2150.7h0M130.6 2141.6h0M130.6 2132.5h0M130.6 2123.5h0M130.6 2114.4h0M130.6 2105.3h0M130.6 2096.3h0M130.6 2087.2h0M130.6 2078.1h0M130.6 2069.1h0M130.6 2060.0h0M130.6 2051.0h0M130.6 2041.9h0M130.6 2032.8h0M130.6 2023.8h0M130.6 2014.7h0M130.6 2005.6h0M130.6 1996.6h0M130.6 1987.5h0M130.6 1978.4h0M130.6 1969.4h0M130.6 1960.3h0" stroke="#000" stroke-width="4.6" stroke-linecap="round" fill="none"/>
<path d="M266.4 2259.4h0M266.4 2250.4h0M266.4 2241.3h0M266.4 2232.3h0M266.4 2223.2h0M266.4 2214.1h0M266.4 2205.1h0M266.4 2196.0h0M266.4 2186.9h0M266.4 2177.9h0M266.4 2168.8h0M266.4 2159.7h0M266.4 2150.7h0M266.4 2141.6h0M266.4 2132.5h0M266.4 2123.5h0M266.4 2114.4h0M266.4 2105.3h0M266.4 2096.3h0M266.4 2087.2h0M266.4 2078.1h0M266.4 2069.1h0M266.4 2060.0h0M266.4 2051.0h0M266.4 2041.9h0M266.4 2032.8h0M266.4 2023.8h0M266.4 2014.7h0M266.4 2005.6h0M266.4 1996.6h0M266.4 1987.5h0M266.4 1978.4h0M266.4 1969.4h0M266.4 1960.3h0" stroke="#000" stroke-width="4.6" stroke-linecap="round" fill="none"/>
<path d="M120.9 2203.5h0M121.4 2201.9h0M121.9 2202.4h0M122.4 2205.2h0M122.9 2205.3h0M123.4 2205.9h0M123.9 2204.6h0M124.4 2205.8h0M124.9 2205.0h0M125.4 2209.0h0M125.9 2204.4h0M126.4 2207.1h0M126.9 2206.3h0M127.4 2207.7h0M127.9 2208.3h0M128.4 2207.3h0M128.9 2207.0h0M129.4 2208.7h0M129.9 2208.8h0M130.5 2207.7h0M131.0 2210.1h0M131.5 2211.2h0M132.0 2208.5h0M132.5 2210.2h0M133.0 2212.1h0M133.5 2210.6h0M134.0 2210.2h0M134.5 2211.4h0M135.0 2211.9h0M135.5 2209.8h0M136.0 2208.7h0M136.5 2210.4h0M137.0 2211.2h0M137.5 2209.7h0M138.0 2209.3h0M138.5 2210.8h0M139.0 2209.7h0M139.5 2209.1h0M140.0 2211.0h0M140.5 2211.9h0M141.0 2210.3h0M141.5 2210.6h0M142.0 2209.4h0M142.5 2212.9h0M143.0 2212.1h0M143.5 2212.4h0M144.0 2213.8h0M144.5 2211.2h0M145.0 2210.7h0M145.5 2212.6h0M146.0 2209.6h0M146.5 2210.4h0M147.0 2210.8h0M147.5 2211.2h0M148.0 2210.4h0M148.5 2213.8h0M149.1 2211.1h0M149.6 2211.1h0M150.1 2214.6h0M150.6 2211.6h0M151.1 2212.5h0M151.6 2211.1h0M152.1 2212.9h0M152.6 2212.4h0M153.1 2211.9h0M153.6 2213.7h0M154.1 2211.6h0M154.6 2212.7h0M155.1 2211.9h0M155.6 2213.4h0M156.1 2211.1h0M156.6 2211.9h0M157.1 2213.0h0M157.6 2211.9h0M158.1 2211.1h0M158.6 2210.4h0M159.1 2215.2h0M159.6 2211.8h0M160.1 2212.4h0M160.6 2213.3h0M161.1 2214.6h0M161.6 2211.4h0M162.1 2215.1h0M162.6 2212.5h0M163.1 2211.5h0M163.6 2215.7h0M164.1 2213.9h0M164.6 2215.4h0M165.1 2213.2h0M165.6 2211.4h0M166.1 2210.7h0M166.6 2216.2h0M167.1 2214.6h0M167.7 2212.8h0M168.2 2211.6h0M168.7 2213.3h0M169.2 2215.0h0M169.7 2213.6h0M170.2 2214.1h0M170.7 2214.4h0M171.2 2215.2h0M171.7 2213.6h0M172.2 2213.8h0M172.7 2214.4h0M173.2 2214.7h0M173.7 2216.3h0M174.2 2215.2h0M174.7 2212.8h0M175.2 2214.8h0M175.7 2216.7h0M176.2 2212.8h0M176.7 2214.0h0M177.2 2211.8h0M177.7 2214.7h0M178.2 2215.6h0M178.7 2217.0h0M179.2 2213.1h0M179.7 2211.4h0M180.2 2216.3h0M180.7 2216.1h0M181.2 2214.3h0M181.7 2216.4h0M182.2 2215.7h0M182.7 2215.8h0M183.2 2215.1h0M183.7 2213.9h0M184.2 2215.5h0M184.7 2214.2h0M185.2 2216.2h0M185.7 2215.2h0M186.3 2218.8h0M186.8 2217.8h0M187.3 2214.6h0M187.8 2216.7h0M188.3 2215.1h0M188.8 2215.2h0M189.3 2214.1h0M189.8 2214.9h0M190.3 2214.6h0M190.8 2216.3h0M191.3 2217.2h0M191.8 2217.3h0M192.3 2217.0h0M192.8 2217.9h0M193.3 2217.1h0M193.8 2216.5h0M194.3 2216.1h0M194.8 2217.0h0M195.3 2219.3h0M195.8 2216.7h0M196.3 2216.3h0M196.8 2215.1h0M197.3 2215.9h0M197.8 2217.7h0M198.3 2217.9h0M198.8 2214.0h0M199.3 2215.8h0M199.8 2214.3h0M200.3 2213.9h0M200.8 2218.2h0M201.3 2216.5h0M201.8 2216.5h0M202.3 2216.4h0M202.8 2216.4h0M203.3 2217.0h0M203.8 2217.0h0M204.3 2219.5h0M204.9 2217.6h0M205.4 2218.5h0M205.9 2217.3h0M206.4 2218.2h0M206.9 2216.7h0M207.4 2216.4h0M207.9 2217.2h0M208.4 2217.2h0M208.9 2217.6h0M209.4 2218.4h0M209.9 2218.0h0M210.4 2218.5h0M210.9 2217.3h0M211.4 2217.9h0M211.9 2217.1h0M212.4 2219.9h0M212.9 2216.8h0M213.4 2219.2h0M213.9 2219.2h0M214.4 2218.4h0M214.9 2219.0h0M215.4 2217.8h0M215.9 2219.1h0M216.4 2219.8h0M216.9 2219.6h0M217.4 2216.5h0M217.9 2218.4h0M218.4 2220.1h0M218.9 2218.5h0M219.4 2220.8h0M219.9 2216.0h0M220.4 2220.8h0M220.9 2218.0h0M221.4 2217.9h0M221.9 2220.8h0M222.4 2218.3h0M222.9 2217.4h0M223.5 2218.2h0M224.0 2218.5h0M224.5 2217.5h0M225.0 2218.7h0M225.5 2218.5h0M226.0 2219.2h0M226.5 2218.2h0M227.0 2220.5h0M227.5 2218.0h0M228.0 2219.9h0M228.5 2220.8h0M229.0 2218.7h0M229.5 2216.9h0M230.0 2218.0h0M230.5 2220.1h0M231.0 2218.4h0M231.5 2220.1h0M232.0 2219.7h0M232.5 2219.4h0M233.0 2222.9h0M233.5 2219.4h0M234.0 2221.2h0M234.5 2220.7h0M235.0 2221.9h0M235.5 2222.0h0M236.0 2221.2h0M236.5 2218.7h0M237.0 2217.5h0M237.5 2220.0h0M238.0 2218.4h0M238.5 2220.4h0M239.0 2222.8h0M239.5 2219.9h0M240.0 2219.5h0M240.5 2220.8h0M241.0 2219.8h0M241.5 2219.5h0M242.1 2221.6h0M242.6 2222.5h0M243.1 2220.7h0M243.6 2220.7h0M244.1 2221.0h0M244.6 2219.1h0M245.1 2218.1h0M245.6 2221.2h0M246.1 2219.6h0M246.6 2219.3h0M247.1 2219.7h0M247.6 2219.2h0M248.1 2221.3h0M248.6 2219.7h0M249.1 2217.9h0M249.6 2219.7h0M250.1 2221.8h0M250.6 2220.0h0M251.1 2219.1h0M251.6 2220.4h0M252.1 2221.8h0M252.6 2218.8h0M253.1 2222.8h0M253.6 2220.4h0M254.1 2221.1h0M254.6 2222.8h0M255.1 2219.4h0M255.6 2220.7h0M256.1 2222.9h0M256.6 2220.3h0M257.1 2221.9h0M257.6 2224.0h0M258.1 2222.3h0M258.6 2220.9h0M259.1 2220.4h0M259.6 2221.1h0M260.1 2221.3h0M260.7 2220.7h0M261.2 2221.7h0M261.7 2219.7h0M262.2 2221.2h0M262.7 2221.0h0M263.2 2220.6h0M263.7 2222.9h0M264.2 2222.4h0M264.7 2219.2h0M265.2 2220.9h0M265.7 2221.8h0M266.2 2220.3h0M266.7 2219.9h0M267.2 2216.9h0M267.7 2216.7h0M268.2 2214.5h0M268.7 2217.0h0M269.2 2212.7h0M269.7 2215.2h0M270.2 2216.5h0M270.7 2214.5h0M271.2 2214.6h0M271.7 2213.7h0M272.2 2215.5h0M272.7 2213.2h0M273.2 2208.5h0M273.7 2215.5h0M274.2 2213.1h0M274.7 2214.0h0M275.2 2213.2h0M275.7 2216.0h0M276.2 2215.1h0M276.7 2212.7h0M277.2 2213.5h0M277.7 2211.0h0M278.2 2214.4h0M278.7 2213.1h0M279.3 2209.2h0M279.8 2214.5h0M280.3 2214.7h0M280.8 2213.5h0M281.3 2213.5h0M281.8 2212.2h0M282.3 2213.3h0M282.8 2214.6h0M283.3 2213.2h0M283.8 2209.7h0M284.3 2211.7h0M284.8 2217.5h0M285.3 2213.8h0M285.8 2214.8h0M286.3 2212.7h0M286.8 2213.9h0M287.3 2210.9h0M287.8 2212.3h0M288.3 2212.4h0M288.8 2213.4h0M289.3 2213.8h0M289.8 2213.3h0M290.3 2211.9h0M290.8 2213.0h0M291.3 2214.3h0M291.8 2212.0h0M292.3 2213.6h0M292.8 2214.0h0M293.3 2215.1h0M293.8 2214.8h0M294.3 2214.9h0M294.8 2218.0h0M295.3 2212.6h0M295.8 2213.3h0M296.3 2214.4h0M296.8 2212.7h0M297.3 2213.6h0M297.9 2213.7h0M298.4 2217.9h0M298.9 2214.7h0M299.4 2213.7h0M299.9 2212.2h0M300.4 2211.9h0M300.9 2212.5h0M301.4 2216.3h0M301.9 2217.9h0M302.4 2214.0h0M302.9 2214.8h0M303.4 2213.5h0M303.9 2215.2h0M304.4 2214.8h0M304.9 2217.3h0M305.4 2214.6h0M305.9 2215.9h0M306.4 2214.9h0M306.9 2214.8h0M307.4 2215.7h0M307.9 2215.2h0M308.4 2215.7h0M308.9 2214.7h0M309.4 2215.1h0M309.9 2216.7h0M310.4 2216.9h0M310.9 2213.6h0M311.4 2216.3h0M311.9 2214.9h0M312.4 2215.8h0M312.9 2217.3h0M313.4 2217.6h0M313.9 2216.4h0M314.4 2216.3h0M314.9 2215.9h0M315.4 2218.7h0M315.9 2217.8h0M316.5 2217.2h0M317.0 2214.8h0M317.5 2220.6h0M318.0 2216.6h0M318.5 2218.1h0M319.0 2216.8h0M319.5 2218.2h0M320.0 2217.0h0M320.5 2215.4h0M321.0 2217.2h0M321.5 2217.1h0M322.0 2217.3h0M322.5 2219.0h0M323.0 2217.2h0M323.5 2218.3h0M324.0 2219.2h0M324.5 2218.2h0M325.0 2218.5h0M325.5 2217.1h0M326.0 2218.3h0M326.5 2219.1h0M327.0 2216.3h0M327.5 2217.0h0M328.0 2216.6h0M328.5 2217.6h0M329.0 2218.6h0M329.5 2219.1h0M330.0 2219.0h0M330.5 2217.2h0M331.0 2218.5h0M331.5 2220.8h0M332.0 2218.7h0M332.5 2220.7h0M333.0 2218.5h0M333.5 2220.5h0M334.0 2220.6h0M334.5 2218.6h0M335.1 2219.0h0M335.6 2221.3h0M336.1 2217.8h0M336.6 2215.8h0M337.1 2221.1h0M337.6 2216.4h0M338.1 2220.0h0M338.6 2219.7h0M339.1 2219.3h0M339.6 2221.1h0M340.1 2217.2h0M340.6 2218.4h0M341.1 2220.2h0M341.6 2219.6h0M342.1 2221.4h0M342.6 2219.7h0M343.1 2217.9h0M343.6 2221.7h0M344.1 2219.9h0M344.6 2219.1h0M345.1 2217.8h0M345.6 2217.4h0M346.1 2220.0h0M346.6 2220.4h0M347.1 2218.7h0M347.6 2219.9h0M348.1 2219.9h0M348.6 2217.9h0M349.1 2217.0h0M349.6 2219.1h0M350.1 2219.8h0M350.6 2218.7h0M351.1 2222.3h0M351.6 2219.6h0M352.1 2221.1h0M352.6 2216.2h0M353.1 2218.6h0M353.7 2219.5h0M354.2 2220.0h0M354.7 2223.3h0M355.2 2218.7h0M355.7 2217.4h0M356.2 2220.8h0M356.7 2218.8h0M357.2 2218.8h0M357.7 2222.1h0M358.2 2218.5h0M358.7 2218.0h0M359.2 2219.6h0M359.7 2220.0h0M360.2 2218.9h0M360.7 2222.2h0M361.2 2219.9h0M361.7 2218.6h0M362.2 2221.9h0M362.7 2218.7h0M363.2 2220.8h0M363.7 2223.2h0M364.2 2220.4h0M364.7 2221.6h0M365.2 2219.8h0M365.7 2222.0h0M366.2 2218.8h0M366.7 2221.4h0M367.2 2219.9h0M367.7 2221.3h0M368.2 2221.0h0M368.7 2218.8h0M369.2 2220.2h0M369.7 2221.2h0M370.2 2222.4h0M370.7 2219.0h0M371.2 2219.6h0M371.7 2221.2h0M372.2 2220.4h0M372.8 2222.3h0M373.3 2222.3h0M373.8 2222.1h0M374.3 2220.4h0M374.8 2220.5h0M375.3 2222.1h0M375.8 2220.0h0M376.3 2219.9h0M376.8 2220.9h0M377.3 2219.7h0M377.8 2221.6h0M378.3 2221.4h0M378.8 2220.6h0M379.3 2221.3h0M379.8 2220.2h0M380.3 2223.2h0M380.8 2219.4h0M381.3 2222.6h0M381.8 2221.7h0M382.3 2223.5h0M382.8 2220.7h0M383.3 2219.8h0M383.8 2220.1h0M384.3 2220.5h0M384.8 2223.9h0M385.3 2222.8h0M385.8 2222.4h0M386.3 2223.1h0M386.8 2220.2h0M387.3 2221.6h0M387.8 2221.9h0M388.3 2221.2h0M388.8 2223.3h0M389.3 2223.3h0M389.8 2223.3h0M390.3 2221.4h0M390.8 2221.6h0M391.4 2221.3h0M391.9 2220.6h0M392.4 2224.1h0M392.9 2223.0h0M393.4 2222.0h0M393.9 2224.2h0M394.4 2223.1h0M394.9 2220.9h0M395.4 2220.8h0M395.9 2220.8h0M396.4 2222.4h0M396.9 2222.8h0M397.4 2220.9h0M397.9 2223.0h0M398.4 2222.0h0M398.9 2220.7h0M399.4 2223.1h0M399.9 2223.5h0M400.4 2222.7h0M400.9 2221.8h0M401.4 2222.0h0M401.9 2222.5h0M402.4 2221.9h0M402.9 2225.1h0M403.4 2224.0h0M403.9 2222.6h0M404.4 2224.2h0M404.9 2224.8h0M405.4 2224.6h0M405.9 2224.2h0M406.4 2223.2h0M406.9 2224.4h0M407.4 2222.7h0M407.9 2220.6h0M408.4 2223.3h0M408.9 2221.2h0M409.4 2222.7h0M410.0 2224.7h0M410.5 2223.5h0M411.0 2224.6h0M411.5 2222.1h0M412.0 2224.9h0M412.5 2221.3h0M413.0 2222.4h0M413.5 2226.2h0M414.0 2222.2h0M414.5 2221.1h0M415.0 2224.5h0M415.5 2222.0h0M416.0 2226.0h0M416.5 2223.1h0M417.0 2225.8h0M417.5 2222.8h0M418.0 2226.0h0M418.5 2227.3h0M419.0 2223.0h0M419.5 2220.3h0M420.0 2224.4h0M420.5 2222.4h0M421.0 2223.4h0M421.5 2224.1h0M422.0 2222.8h0M422.5 2221.3h0M422.5 2198.3h0" stroke="#F7931E" stroke-width="7.0" stroke-linecap="round" fill="none"/>
<path d="M120.9 2206.4h0M121.4 2203.8h0M121.9 2204.5h0M122.4 2207.8h0M122.9 2203.2h0M123.4 2203.0h0M123.9 2208.1h0M124.4 2204.0h0M124.9 2207.2h0M125.4 2207.9h0M125.9 2205.4h0M126.4 2207.8h0M126.9 2208.0h0M127.4 2206.3h0M127.9 2206.9h0M128.4 2207.9h0M128.9 2211.9h0M129.4 2212.4h0M129.9 2208.1h0M130.5 2211.7h0M131.0 2210.1h0M131.5 2212.3h0M132.0 2211.0h0M132.5 2212.9h0M133.0 2208.2h0M133.5 2212.8h0M134.0 2211.4h0M134.5 2211.6h0M135.0 2209.4h0M135.5 2213.9h0M136.0 2211.7h0M136.5 2212.1h0M137.0 2211.0h0M137.5 2211.2h0M138.0 2212.9h0M138.5 2211.8h0M139.0 2212.9h0M139.5 2211.6h0M140.0 2212.6h0M140.5 2213.6h0M141.0 2212.7h0M141.5 2212.1h0M142.0 2209.0h0M142.5 2213.7h0M143.0 2212.4h0M143.5 2210.6h0M144.0 2216.5h0M144.5 2216.1h0M145.0 2215.2h0M145.5 2213.5h0M146.0 2209.3h0M146.5 2212.8h0M147.0 2211.5h0M147.5 2214.0h0M148.0 2217.8h0M148.5 2217.6h0M149.1 2212.1h0M149.6 2213.6h0M150.1 2216.1h0M150.6 2212.2h0M151.1 2216.6h0M151.6 2212.3h0M152.1 2211.8h0M152.6 2215.5h0M153.1 2216.2h0M153.6 2213.0h0M154.1 2216.3h0M154.6 2213.1h0M155.1 2216.5h0M155.6 2213.3h0M156.1 2214.5h0M156.6 2215.4h0M157.1 2216.3h0M157.6 2214.4h0M158.1 2218.0h0M158.6 2215.4h0M159.1 2215.6h0M159.6 2213.9h0M160.1 2217.2h0M160.6 2212.3h0M161.1 2215.7h0M161.6 2217.1h0M162.1 2213.0h0M162.6 2212.6h0M163.1 2215.7h0M163.6 2217.0h0M164.1 2215.5h0M164.6 2216.7h0M165.1 2216.2h0M165.6 2213.1h0M166.1 2215.1h0M166.6 2215.6h0M167.1 2215.3h0M167.7 2216.0h0M168.2 2214.6h0M168.7 2214.6h0M169.2 2216.8h0M169.7 2216.0h0M170.2 2212.3h0M170.7 2215.6h0M171.2 2216.7h0M171.7 2213.1h0M172.2 2216.6h0M172.7 2218.5h0M173.2 2215.6h0M173.7 2218.3h0M174.2 2217.8h0M174.7 2216.5h0M175.2 2217.3h0M175.7 2218.5h0M176.2 2218.2h0M176.7 2218.4h0M177.2 2215.6h0M177.7 2218.8h0M178.2 2218.7h0M178.7 2214.5h0M179.2 2218.9h0M179.7 2215.6h0M180.2 2216.0h0M180.7 2218.5h0M181.2 2220.7h0M181.7 2217.7h0M182.2 2217.4h0M182.7 2217.0h0M183.2 2218.6h0M183.7 2216.8h0M184.2 2216.6h0M184.7 2220.7h0M185.2 2216.7h0M185.7 2218.8h0M186.3 2220.1h0M186.8 2219.7h0M187.3 2216.1h0M187.8 2217.6h0M188.3 2222.3h0M188.8 2219.2h0M189.3 2219.6h0M189.8 2219.7h0M190.3 2220.3h0M190.8 2221.9h0M191.3 2218.1h0M191.8 2221.1h0M192.3 2220.2h0M192.8 2220.6h0M193.3 2220.8h0M193.8 2218.4h0M194.3 2219.0h0M194.8 2220.8h0M195.3 2221.2h0M195.8 2220.5h0M196.3 2218.1h0M196.8 2219.5h0M197.3 2219.4h0M197.8 2220.3h0M198.3 2220.2h0M198.8 2219.4h0M199.3 2222.9h0M199.8 2217.1h0M200.3 2221.1h0M200.8 2220.8h0M201.3 2217.6h0M201.8 2219.5h0M202.3 2219.8h0M202.8 2220.9h0M203.3 2222.5h0M203.8 2219.6h0M204.3 2218.0h0M204.9 2221.5h0M205.4 2217.7h0M205.9 2221.9h0M206.4 2221.2h0M206.9 2219.2h0M207.4 2220.0h0M207.9 2218.9h0M208.4 2221.3h0M208.9 2221.8h0M209.4 2223.2h0M209.9 2222.1h0M210.4 2221.9h0M210.9 2222.5h0M211.4 2219.6h0M211.9 2221.2h0M212.4 2223.5h0M212.9 2216.0h0M213.4 2221.6h0M213.9 2222.3h0M214.4 2218.2h0M214.9 2218.3h0M215.4 2222.2h0M215.9 2222.7h0M216.4 2221.9h0M216.9 2218.4h0M217.4 2220.8h0M217.9 2221.7h0M218.4 2220.4h0M218.9 2218.4h0M219.4 2222.7h0M219.9 2221.1h0M220.4 2222.7h0M220.9 2216.9h0M221.4 2217.5h0M221.9 2218.9h0M222.4 2220.8h0M222.9 2219.5h0M223.5 2224.1h0M224.0 2220.2h0M224.5 2222.9h0M225.0 2222.9h0M225.5 2221.9h0M226.0 2221.3h0M226.5 2219.8h0M227.0 2219.6h0M227.5 2220.4h0M228.0 2222.4h0M228.5 2219.8h0M229.0 2221.1h0M229.5 2219.0h0M230.0 2222.5h0M230.5 2225.6h0M231.0 2221.9h0M231.5 2217.5h0M232.0 2220.4h0M232.5 2221.5h0M233.0 2219.7h0M233.5 2220.4h0M234.0 2220.5h0M234.5 2222.2h0M235.0 2221.2h0M235.5 2221.1h0M236.0 2222.5h0M236.5 2223.3h0M237.0 2221.3h0M237.5 2219.9h0M238.0 2220.5h0M238.5 2220.8h0M239.0 2220.8h0M239.5 2217.4h0M240.0 2221.3h0M240.5 2220.0h0M241.0 2218.6h0M241.5 2221.8h0M242.1 2221.5h0M242.6 2220.2h0M243.1 2219.2h0M243.6 2221.5h0M244.1 2221.5h0M244.6 2222.0h0M245.1 2224.2h0M245.6 2220.3h0M246.1 2222.7h0M246.6 2225.1h0M247.1 2222.6h0M247.6 2225.2h0M248.1 2224.1h0M248.6 2222.4h0M249.1 2224.0h0M249.6 2220.7h0M250.1 2225.0h0M250.6 2222.2h0M251.1 2221.7h0M251.6 2220.3h0M252.1 2221.2h0M252.6 2222.4h0M253.1 2222.7h0M253.6 2223.0h0M254.1 2221.0h0M254.6 2224.0h0M255.1 2222.1h0M255.6 2223.2h0M256.1 2222.7h0M256.6 2223.6h0M257.1 2219.7h0M257.6 2224.4h0M258.1 2222.9h0M258.6 2222.9h0M259.1 2222.4h0M259.6 2222.8h0M260.1 2222.9h0M260.7 2222.0h0M261.2 2226.2h0M261.7 2223.7h0M262.2 2225.8h0M262.7 2223.4h0M263.2 2225.8h0M263.7 2225.5h0M264.2 2224.0h0M264.7 2221.6h0M265.2 2223.0h0M265.7 2223.5h0M266.2 2221.0h0M266.7 2223.4h0M267.2 2223.1h0M267.7 2217.9h0M268.2 2215.2h0M268.7 2210.6h0M269.2 2207.3h0M269.7 2211.2h0M270.2 2203.1h0M270.7 2202.8h0M271.2 2202.3h0M271.7 2201.4h0M272.2 2196.4h0M272.7 2198.9h0M273.2 2198.4h0M273.7 2196.1h0M274.2 2197.4h0M274.7 2193.1h0M275.2 2193.0h0M275.7 2191.1h0M276.2 2190.0h0M276.7 2191.2h0M277.2 2186.2h0M277.7 2188.9h0M278.2 2184.6h0M278.7 2187.6h0M279.3 2183.2h0M279.8 2184.0h0M280.3 2181.4h0M280.8 2181.5h0M281.3 2182.9h0M281.8 2180.1h0M282.3 2177.2h0M282.8 2175.3h0M283.3 2177.9h0M283.8 2178.0h0M284.3 2174.9h0M284.8 2172.8h0M285.3 2172.5h0M285.8 2171.9h0M286.3 2168.4h0M286.8 2167.7h0M287.3 2167.7h0M287.8 2170.4h0M288.3 2168.7h0M288.8 2169.3h0M289.3 2171.5h0M289.8 2167.9h0M290.3 2169.5h0M290.8 2170.8h0M291.3 2168.0h0M291.8 2169.5h0M292.3 2169.7h0M292.8 2169.5h0M293.3 2170.7h0M293.8 2174.4h0M294.3 2173.2h0M294.8 2171.2h0M295.3 2174.4h0M295.8 2173.4h0M296.3 2173.0h0M296.8 2171.6h0M297.3 2172.1h0M297.9 2173.0h0M298.4 2175.1h0M298.9 2173.6h0M299.4 2174.5h0M299.9 2175.9h0M300.4 2173.7h0M300.9 2175.4h0M301.4 2177.8h0M301.9 2174.7h0M302.4 2177.6h0M302.9 2176.5h0M303.4 2180.4h0M303.9 2178.3h0M304.4 2180.2h0M304.9 2180.7h0M305.4 2182.6h0M305.9 2176.4h0M306.4 2180.6h0M306.9 2180.5h0M307.4 2179.5h0M307.9 2182.0h0M308.4 2181.5h0M308.9 2185.1h0M309.4 2183.0h0M309.9 2184.6h0M310.4 2183.5h0M310.9 2184.6h0M311.4 2187.7h0M311.9 2188.9h0M312.4 2188.0h0M312.9 2185.6h0M313.4 2186.5h0M313.9 2187.0h0M314.4 2191.4h0M314.9 2192.9h0M315.4 2189.9h0M315.9 2189.7h0M316.5 2190.5h0M317.0 2189.3h0M317.5 2190.5h0M318.0 2192.5h0M318.5 2192.3h0M319.0 2190.9h0M319.5 2191.3h0M320.0 2191.8h0M320.5 2188.2h0M321.0 2192.7h0M321.5 2192.4h0M322.0 2194.5h0M322.5 2193.7h0M323.0 2192.6h0M323.5 2192.8h0M324.0 2194.3h0M324.5 2193.7h0M325.0 2194.6h0M325.5 2198.1h0M326.0 2200.8h0M326.5 2191.8h0M327.0 2194.6h0M327.5 2196.5h0M328.0 2199.7h0M328.5 2199.3h0M329.0 2195.4h0M329.5 2202.7h0M330.0 2199.1h0M330.5 2197.6h0M331.0 2199.3h0M331.5 2198.7h0M332.0 2200.6h0M332.5 2196.9h0M333.0 2203.0h0M333.5 2204.0h0M334.0 2201.7h0M334.5 2200.2h0M335.1 2203.0h0M335.6 2201.5h0M336.1 2204.5h0M336.6 2205.8h0M337.1 2201.8h0M337.6 2201.8h0M338.1 2202.1h0M338.6 2205.7h0M339.1 2207.1h0M339.6 2207.4h0M340.1 2206.1h0M340.6 2205.0h0M341.1 2205.4h0M341.6 2208.8h0M342.1 2206.4h0M342.6 2206.9h0M343.1 2207.0h0M343.6 2207.4h0M344.1 2207.9h0M344.6 2206.8h0M345.1 2207.7h0M345.6 2207.7h0M346.1 2209.4h0M346.6 2207.8h0M347.1 2208.8h0M347.6 2212.3h0M348.1 2208.1h0M348.6 2209.5h0M349.1 2207.7h0M349.6 2209.6h0M350.1 2209.6h0M350.6 2209.2h0M351.1 2209.7h0M351.6 2210.5h0M352.1 2212.9h0M352.6 2206.9h0M353.1 2212.7h0M353.7 2210.8h0M354.2 2209.2h0M354.7 2209.8h0M355.2 2209.5h0M355.7 2209.3h0M356.2 2208.6h0M356.7 2210.2h0M357.2 2206.0h0M357.7 2212.6h0M358.2 2210.6h0M358.7 2211.7h0M359.2 2212.0h0M359.7 2210.7h0M360.2 2208.9h0M360.7 2212.5h0M361.2 2212.6h0M361.7 2210.3h0M362.2 2210.7h0M362.7 2208.4h0M363.2 2210.0h0M363.7 2211.4h0M364.2 2212.4h0M364.7 2211.5h0M365.2 2212.2h0M365.7 2214.3h0M366.2 2212.1h0M366.7 2212.4h0M367.2 2212.6h0M367.7 2213.0h0M368.2 2209.5h0M368.7 2211.2h0M369.2 2210.9h0M369.7 2213.5h0M370.2 2214.2h0M370.7 2213.1h0M371.2 2212.3h0M371.7 2213.3h0M372.2 2213.1h0M372.8 2211.3h0M373.3 2212.4h0M373.8 2214.6h0M374.3 2213.7h0M374.8 2214.2h0M375.3 2212.9h0M375.8 2215.2h0M376.3 2213.6h0M376.8 2212.2h0M377.3 2213.3h0M377.8 2215.0h0M378.3 2214.5h0M378.8 2213.4h0M379.3 2212.8h0M379.8 2212.3h0M380.3 2214.0h0M380.8 2216.0h0M381.3 2211.5h0M381.8 2213.4h0M382.3 2213.3h0M382.8 2213.5h0M383.3 2215.8h0M383.8 2214.7h0M384.3 2213.8h0M384.8 2212.5h0M385.3 2214.2h0M385.8 2219.5h0M386.3 2214.8h0M386.8 2213.8h0M387.3 2212.3h0M387.8 2213.3h0M388.3 2210.4h0M388.8 2212.3h0M389.3 2212.4h0M389.8 2213.1h0M390.3 2217.0h0M390.8 2213.4h0M391.4 2213.8h0M391.9 2215.7h0M392.4 2213.9h0M392.9 2214.3h0M393.4 2215.8h0M393.9 2215.2h0M394.4 2215.5h0M394.9 2214.7h0M395.4 2215.8h0M395.9 2214.2h0M396.4 2218.4h0M396.9 2215.7h0M397.4 2218.1h0M397.9 2216.1h0M398.4 2214.5h0M398.9 2215.3h0M399.4 2215.6h0M399.9 2215.3h0M400.4 2212.8h0M400.9 2217.3h0M401.4 2214.0h0M401.9 2218.1h0M402.4 2216.3h0M402.9 2215.3h0M403.4 2217.0h0M403.9 2215.3h0M404.4 2214.5h0M404.9 2217.7h0M405.4 2215.9h0M405.9 2216.4h0M406.4 2219.0h0M406.9 2216.1h0M407.4 2217.2h0M407.9 2213.7h0M408.4 2217.4h0M408.9 2213.1h0M409.4 2216.8h0M410.0 2212.8h0M410.5 2215.1h0M411.0 2215.3h0M411.5 2214.7h0M412.0 2214.6h0M412.5 2213.8h0M413.0 2213.2h0M413.5 2216.7h0M414.0 2218.2h0M414.5 2220.6h0M415.0 2216.8h0M415.5 2215.0h0M416.0 2215.6h0M416.5 2216.1h0M417.0 2216.9h0M417.5 2217.4h0M418.0 2216.8h0M418.5 2215.7h0M419.0 2219.3h0M419.5 2215.1h0M420.0 2218.8h0M420.5 2216.6h0M421.0 2217.4h0M421.5 2217.0h0M422.0 2218.1h0M422.5 2218.3h0" stroke="#4B55B5" stroke-width="7.0" stroke-linecap="round" fill="none"/>
<path d="M120.9 2204.0h0M121.4 2205.7h0M121.9 2200.1h0M122.4 2205.2h0M122.9 2205.9h0M123.4 2206.1h0M123.9 2207.2h0M124.4 2209.8h0M124.9 2206.5h0M125.4 2205.8h0M125.9 2209.1h0M126.4 2206.8h0M126.9 2209.1h0M127.4 2207.4h0M127.9 2207.0h0M128.4 2207.0h0M128.9 2207.3h0M129.4 2209.5h0M129.9 2207.0h0M130.5 2209.4h0M131.0 2208.3h0M131.5 2207.9h0M132.0 2209.7h0M132.5 2211.5h0M133.0 2208.5h0M133.5 2211.6h0M134.0 2211.4h0M134.5 2211.9h0M135.0 2208.8h0M135.5 2210.6h0M136.0 2214.2h0M136.5 2209.4h0M137.0 2207.3h0M137.5 2207.9h0M138.0 2212.0h0M138.5 2211.0h0M139.0 2210.4h0M139.5 2209.9h0M140.0 2211.4h0M140.5 2213.4h0M141.0 2210.5h0M141.5 2210.8h0M142.0 2214.1h0M142.5 2212.6h0M143.0 2211.7h0M143.5 2212.2h0M144.0 2211.4h0M144.5 2211.1h0M145.0 2211.6h0M145.5 2212.7h0M146.0 2214.9h0M146.5 2211.7h0M147.0 2210.5h0M147.5 2209.6h0M148.0 2213.0h0M148.5 2213.1h0M149.1 2210.7h0M149.6 2210.8h0M150.1 2212.7h0M150.6 2212.1h0M151.1 2214.6h0M151.6 2212.5h0M152.1 2214.9h0M152.6 2213.8h0M153.1 2213.8h0M153.6 2214.5h0M154.1 2217.3h0M154.6 2215.2h0M155.1 2213.3h0M155.6 2214.0h0M156.1 2214.6h0M156.6 2213.3h0M157.1 2213.0h0M157.6 2212.7h0M158.1 2215.6h0M158.6 2214.2h0M159.1 2214.9h0M159.6 2215.8h0M160.1 2216.9h0M160.6 2214.6h0M161.1 2216.0h0M161.6 2211.0h0M162.1 2214.8h0M162.6 2215.1h0M163.1 2215.4h0M163.6 2211.7h0M164.1 2216.4h0M164.6 2215.2h0M165.1 2216.3h0M165.6 2215.2h0M166.1 2215.2h0M166.6 2213.3h0M167.1 2217.6h0M167.7 2215.3h0M168.2 2212.6h0M168.7 2216.2h0M169.2 2215.7h0M169.7 2217.0h0M170.2 2219.9h0M170.7 2215.8h0M171.2 2213.7h0M171.7 2216.5h0M172.2 2218.9h0M172.7 2215.4h0M173.2 2215.8h0M173.7 2214.4h0M174.2 2214.6h0M174.7 2216.6h0M175.2 2215.6h0M175.7 2219.3h0M176.2 2214.6h0M176.7 2216.2h0M177.2 2214.8h0M177.7 2214.9h0M178.2 2217.2h0M178.7 2217.0h0M179.2 2218.3h0M179.7 2220.4h0M180.2 2217.2h0M180.7 2216.8h0M181.2 2218.9h0M181.7 2216.0h0M182.2 2217.1h0M182.7 2216.6h0M183.2 2218.7h0M183.7 2220.4h0M184.2 2216.2h0M184.7 2216.6h0M185.2 2217.8h0M185.7 2218.4h0M186.3 2218.2h0M186.8 2218.0h0M187.3 2218.6h0M187.8 2221.1h0M188.3 2216.5h0M188.8 2220.3h0M189.3 2218.4h0M189.8 2218.4h0M190.3 2217.5h0M190.8 2220.6h0M191.3 2216.0h0M191.8 2216.9h0M192.3 2216.7h0M192.8 2215.9h0M193.3 2219.4h0M193.8 2223.3h0M194.3 2217.5h0M194.8 2215.9h0M195.3 2216.2h0M195.8 2219.0h0M196.3 2218.3h0M196.8 2217.7h0M197.3 2221.2h0M197.8 2219.3h0M198.3 2219.3h0M198.8 2215.6h0M199.3 2219.3h0M199.8 2215.6h0M200.3 2218.2h0M200.8 2221.1h0M201.3 2214.6h0M201.8 2219.9h0M202.3 2217.3h0M202.8 2215.5h0M203.3 2219.2h0M203.8 2220.4h0M204.3 2216.6h0M204.9 2218.2h0M205.4 2220.4h0M205.9 2220.2h0M206.4 2219.0h0M206.9 2216.8h0M207.4 2218.9h0M207.9 2217.3h0M208.4 2215.7h0M208.9 2216.3h0M209.4 2216.1h0M209.9 2216.4h0M210.4 2221.2h0M210.9 2216.5h0M211.4 2218.0h0M211.9 2218.7h0M212.4 2220.3h0M212.9 2221.2h0M213.4 2220.4h0M213.9 2218.6h0M214.4 2220.5h0M214.9 2220.0h0M215.4 2219.6h0M215.9 2217.5h0M216.4 2219.1h0M216.9 2218.9h0M217.4 2216.5h0M217.9 2219.2h0M218.4 2217.7h0M218.9 2220.5h0M219.4 2218.2h0M219.9 2218.6h0M220.4 2218.5h0M220.9 2219.6h0M221.4 2220.5h0M221.9 2219.4h0M222.4 2219.7h0M222.9 2217.2h0M223.5 2217.4h0M224.0 2221.0h0M224.5 2217.9h0M225.0 2219.8h0M225.5 2218.3h0M226.0 2219.9h0M226.5 2221.5h0M227.0 2217.4h0M227.5 2218.4h0M228.0 2221.2h0M228.5 2222.4h0M229.0 2220.1h0M229.5 2221.3h0M230.0 2219.9h0M230.5 2218.3h0M231.0 2217.0h0M231.5 2220.0h0M232.0 2217.2h0M232.5 2217.6h0M233.0 2220.3h0M233.5 2222.4h0M234.0 2218.2h0M234.5 2218.6h0M235.0 2215.8h0M235.5 2217.4h0M236.0 2218.5h0M236.5 2217.0h0M237.0 2221.6h0M237.5 2219.6h0M238.0 2220.4h0M238.5 2217.1h0M239.0 2219.1h0M239.5 2225.1h0M240.0 2217.8h0M240.5 2221.6h0M241.0 2218.9h0M241.5 2221.0h0M242.1 2219.8h0M242.6 2219.2h0M243.1 2220.0h0M243.6 2221.9h0M244.1 2218.1h0M244.6 2219.8h0M245.1 2220.5h0M245.6 2219.3h0M246.1 2221.4h0M246.6 2217.4h0M247.1 2220.2h0M247.6 2220.0h0M248.1 2220.1h0M248.6 2222.2h0M249.1 2222.7h0M249.6 2220.4h0M250.1 2220.2h0M250.6 2218.6h0M251.1 2220.1h0M251.6 2222.7h0M252.1 2220.1h0M252.6 2219.6h0M253.1 2219.3h0M253.6 2220.5h0M254.1 2223.1h0M254.6 2219.2h0M255.1 2222.3h0M255.6 2220.2h0M256.1 2223.8h0M256.6 2219.9h0M257.1 2222.6h0M257.6 2219.5h0M258.1 2218.4h0M258.6 2219.4h0M259.1 2223.3h0M259.6 2223.0h0M260.1 2222.9h0M260.7 2220.4h0M261.2 2220.9h0M261.7 2221.3h0M262.2 2221.0h0M262.7 2220.6h0M263.2 2220.5h0M263.7 2218.8h0M264.2 2221.7h0M264.7 2221.3h0M265.2 2224.7h0M265.7 2223.9h0M266.2 2222.8h0M266.7 2223.7h0M267.2 2221.3h0M267.7 2219.9h0M268.2 2222.3h0M268.7 2222.3h0M269.2 2222.2h0M269.7 2221.1h0M270.2 2222.1h0M270.7 2220.3h0M271.2 2220.4h0M271.7 2220.1h0M272.2 2219.3h0M272.7 2220.4h0M273.2 2220.0h0M273.7 2217.2h0M274.2 2220.1h0M274.7 2218.5h0M275.2 2219.6h0M275.7 2220.4h0M276.2 2220.3h0M276.7 2220.9h0M277.2 2219.4h0M277.7 2220.4h0M278.2 2220.1h0M278.7 2217.4h0M279.3 2219.7h0M279.8 2217.6h0M280.3 2219.1h0M280.8 2218.1h0M281.3 2220.6h0M281.8 2219.4h0M282.3 2215.3h0M282.8 2218.3h0M283.3 2218.1h0M283.8 2219.4h0M284.3 2218.4h0M284.8 2221.8h0M285.3 2221.4h0M285.8 2219.3h0M286.3 2218.7h0M286.8 2220.9h0M287.3 2220.6h0M287.8 2220.9h0M288.3 2220.7h0M288.8 2222.5h0M289.3 2222.9h0M289.8 2220.8h0M290.3 2223.6h0M290.8 2222.4h0M291.3 2222.0h0M291.8 2222.7h0M292.3 2220.6h0M292.8 2221.9h0M293.3 2221.3h0M293.8 2223.0h0M294.3 2222.6h0M294.8 2220.6h0M295.3 2220.9h0M295.8 2222.4h0M296.3 2221.1h0M296.8 2221.4h0M297.3 2221.6h0M297.9 2219.2h0M298.4 2222.6h0M298.9 2221.4h0M299.4 2221.4h0M299.9 2222.6h0M300.4 2224.2h0M300.9 2221.3h0M301.4 2222.1h0M301.9 2222.5h0M302.4 2222.6h0M302.9 2222.7h0M303.4 2224.4h0M303.9 2222.5h0M304.4 2226.1h0M304.9 2223.2h0M305.4 2225.8h0M305.9 2224.0h0M306.4 2222.3h0M306.9 2224.1h0M307.4 2224.5h0M307.9 2223.0h0M308.4 2224.4h0M308.9 2224.7h0M309.4 2224.8h0M309.9 2221.8h0M310.4 2223.3h0M310.9 2223.7h0M311.4 2226.6h0M311.9 2223.7h0M312.4 2227.0h0M312.9 2224.1h0M313.4 2226.9h0M313.9 2221.9h0M314.4 2228.1h0M314.9 2223.3h0M315.4 2224.1h0M315.9 2228.5h0M316.5 2226.1h0M317.0 2223.4h0M317.5 2224.0h0M318.0 2228.7h0M318.5 2226.9h0M319.0 2228.1h0M319.5 2228.0h0M320.0 2227.4h0M320.5 2223.4h0M321.0 2226.3h0M321.5 2227.0h0M322.0 2227.2h0M322.5 2225.7h0M323.0 2225.7h0M323.5 2228.4h0M324.0 2224.5h0M324.5 2228.9h0M325.0 2227.6h0M325.5 2226.4h0M326.0 2224.4h0M326.5 2227.9h0M327.0 2226.9h0M327.5 2225.2h0M328.0 2226.4h0M328.5 2225.6h0M329.0 2225.8h0M329.5 2227.2h0M330.0 2226.6h0M330.5 2226.1h0M331.0 2227.8h0M331.5 2225.1h0M332.0 2231.1h0M332.5 2229.4h0M333.0 2225.5h0M333.5 2227.2h0M334.0 2229.0h0M334.5 2227.4h0M335.1 2226.2h0M335.6 2229.0h0M336.1 2226.8h0M336.6 2228.3h0M337.1 2228.3h0M337.6 2228.3h0M338.1 2226.4h0M338.6 2230.1h0M339.1 2228.9h0M339.6 2227.2h0M340.1 2230.4h0M340.6 2231.0h0M341.1 2227.5h0M341.6 2228.4h0M342.1 2228.7h0M342.6 2228.3h0M343.1 2230.1h0M343.6 2223.7h0M344.1 2230.2h0M344.6 2229.3h0M345.1 2231.0h0M345.6 2229.3h0M346.1 2226.1h0M346.6 2228.7h0M347.1 2227.7h0M347.6 2229.6h0M348.1 2225.8h0M348.6 2228.5h0M349.1 2230.9h0M349.6 2227.6h0M350.1 2229.5h0M350.6 2227.9h0M351.1 2228.7h0M351.6 2228.5h0M352.1 2228.8h0M352.6 2230.5h0M353.1 2231.6h0M353.7 2227.5h0M354.2 2229.3h0M354.7 2228.7h0M355.2 2229.9h0M355.7 2232.6h0M356.2 2231.3h0M356.7 2226.9h0M357.2 2230.6h0M357.7 2229.9h0M358.2 2231.8h0M358.7 2230.2h0M359.2 2230.0h0M359.7 2229.8h0M360.2 2229.6h0M360.7 2230.5h0M361.2 2230.5h0M361.7 2229.6h0M362.2 2229.0h0M362.7 2229.9h0M363.2 2226.8h0M363.7 2229.3h0M364.2 2229.4h0M364.7 2230.8h0M365.2 2228.1h0M365.7 2231.5h0M366.2 2232.5h0M366.7 2231.5h0M367.2 2228.9h0M367.7 2231.8h0M368.2 2227.8h0M368.7 2230.0h0M369.2 2232.6h0M369.7 2230.5h0M370.2 2227.1h0M370.7 2231.6h0M371.2 2232.4h0M371.7 2229.4h0M372.2 2228.1h0M372.8 2228.6h0M373.3 2230.9h0M373.8 2230.0h0M374.3 2229.8h0M374.8 2228.5h0M375.3 2226.9h0M375.8 2230.7h0M376.3 2228.3h0M376.8 2231.1h0M377.3 2229.6h0M377.8 2232.2h0M378.3 2231.9h0M378.8 2230.0h0M379.3 2232.2h0M379.8 2229.3h0M380.3 2231.7h0M380.8 2230.7h0M381.3 2231.0h0M381.8 2231.4h0M382.3 2230.7h0M382.8 2229.1h0M383.3 2225.8h0M383.8 2233.0h0M384.3 2230.5h0M384.8 2231.3h0M385.3 2232.6h0M385.8 2230.6h0M386.3 2232.6h0M386.8 2231.3h0M387.3 2229.1h0M387.8 2234.6h0M388.3 2230.8h0M388.8 2230.5h0M389.3 2232.9h0M389.8 2230.5h0M390.3 2230.8h0M390.8 2232.0h0M391.4 2229.4h0M391.9 2233.6h0M392.4 2230.4h0M392.9 2231.9h0M393.4 2233.3h0M393.9 2231.9h0M394.4 2232.2h0M394.9 2230.3h0M395.4 2234.1h0M395.9 2232.0h0M396.4 2232.5h0M396.9 2229.1h0M397.4 2233.6h0M397.9 2230.0h0M398.4 2234.7h0M398.9 2231.3h0M399.4 2232.1h0M399.9 2231.3h0M400.4 2233.1h0M400.9 2235.2h0M401.4 2234.6h0M401.9 2229.8h0M402.4 2231.7h0M402.9 2233.5h0M403.4 2230.6h0M403.9 2233.4h0M404.4 2233.4h0M404.9 2234.2h0M405.4 2230.3h0M405.9 2229.0h0M406.4 2233.9h0M406.9 2231.8h0M407.4 2230.7h0M407.9 2228.8h0M408.4 2236.4h0M408.9 2232.2h0M409.4 2231.4h0M410.0 2234.9h0M410.5 2231.8h0M411.0 2232.2h0M411.5 2231.3h0M412.0 2233.5h0M412.5 2231.9h0M413.0 2233.6h0M413.5 2231.6h0M414.0 2232.4h0M414.5 2233.3h0M415.0 2235.1h0M415.5 2230.0h0M416.0 2230.9h0M416.5 2231.3h0M417.0 2233.9h0M417.5 2233.4h0M418.0 2230.1h0M418.5 2231.6h0M419.0 2234.3h0M419.5 2232.8h0M420.0 2232.7h0M420.5 2233.3h0M421.0 2234.5h0M421.5 2230.9h0M422.0 2232.0h0M422.5 2233.4h0" stroke="#1E9440" stroke-width="7.0" stroke-linecap="round" fill="none"/>
<path d="M120.9 2206.2h0M121.4 2204.0h0M121.9 2202.6h0M122.4 2200.6h0M122.9 2202.9h0M123.4 2199.7h0M123.9 2201.4h0M124.4 2203.0h0M124.9 2206.9h0M125.4 2203.4h0M125.9 2203.8h0M126.4 2200.7h0M126.9 2199.4h0M127.4 2196.8h0M127.9 2199.3h0M128.4 2201.2h0M128.9 2193.7h0M129.4 2197.5h0M129.9 2198.5h0M130.5 2198.3h0M131.0 2200.4h0M131.5 2196.4h0M132.0 2196.9h0M132.5 2194.4h0M133.0 2195.4h0M133.5 2195.9h0M134.0 2195.1h0M134.5 2198.3h0M135.0 2198.6h0M135.5 2197.8h0M136.0 2200.2h0M136.5 2198.0h0M137.0 2198.4h0M137.5 2196.3h0M138.0 2197.7h0M138.5 2201.6h0M139.0 2197.6h0M139.5 2194.8h0M140.0 2201.4h0M140.5 2199.3h0M141.0 2197.7h0M141.5 2200.4h0M142.0 2198.8h0M142.5 2197.6h0M143.0 2200.4h0M143.5 2197.1h0M144.0 2196.9h0M144.5 2200.3h0M145.0 2197.7h0M145.5 2195.6h0M146.0 2198.1h0M146.5 2196.9h0M147.0 2196.5h0M147.5 2198.3h0M148.0 2195.8h0M148.5 2197.0h0M149.1 2199.8h0M149.6 2196.8h0M150.1 2196.1h0M150.6 2196.2h0M151.1 2199.2h0M151.6 2196.9h0M152.1 2195.1h0M152.6 2197.4h0M153.1 2195.5h0M153.6 2195.2h0M154.1 2198.0h0M154.6 2196.6h0M155.1 2198.5h0M155.6 2195.8h0M156.1 2198.1h0M156.6 2199.1h0M157.1 2198.0h0M157.6 2198.1h0M158.1 2197.2h0M158.6 2197.1h0M159.1 2200.4h0M159.6 2199.4h0M160.1 2197.3h0M160.6 2197.1h0M161.1 2197.9h0M161.6 2192.7h0M162.1 2195.8h0M162.6 2198.2h0M163.1 2196.6h0M163.6 2195.4h0M164.1 2197.4h0M164.6 2201.7h0M165.1 2197.9h0M165.6 2198.1h0M166.1 2193.8h0M166.6 2201.9h0M167.1 2195.0h0M167.7 2198.5h0M168.2 2196.3h0M168.7 2198.8h0M169.2 2197.9h0M169.7 2195.9h0M170.2 2198.1h0M170.7 2196.1h0M171.2 2198.4h0M171.7 2199.1h0M172.2 2198.7h0M172.7 2199.3h0M173.2 2198.6h0M173.7 2195.6h0M174.2 2200.7h0M174.7 2201.7h0M175.2 2198.4h0M175.7 2195.0h0M176.2 2196.3h0M176.7 2195.7h0M177.2 2195.9h0M177.7 2199.9h0M178.2 2198.2h0M178.7 2203.9h0M179.2 2199.7h0M179.7 2197.3h0M180.2 2201.7h0M180.7 2202.7h0M181.2 2201.2h0M181.7 2198.1h0M182.2 2196.2h0M182.7 2193.3h0M183.2 2195.7h0M183.7 2201.7h0M184.2 2203.4h0M184.7 2198.4h0M185.2 2196.5h0M185.7 2202.0h0M186.3 2199.8h0M186.8 2199.7h0M187.3 2198.7h0M187.8 2199.1h0M188.3 2197.7h0M188.8 2196.6h0M189.3 2198.7h0M189.8 2197.3h0M190.3 2194.8h0M190.8 2201.0h0M191.3 2201.0h0M191.8 2197.9h0M192.3 2195.2h0M192.8 2198.6h0M193.3 2196.7h0M193.8 2199.6h0M194.3 2197.1h0M194.8 2200.3h0M195.3 2197.7h0M195.8 2198.3h0M196.3 2198.3h0M196.8 2196.3h0M197.3 2197.0h0M197.8 2200.4h0M198.3 2197.4h0M198.8 2202.7h0M199.3 2197.2h0M199.8 2193.6h0M200.3 2198.2h0M200.8 2198.2h0M201.3 2199.2h0M201.8 2197.6h0M202.3 2200.3h0M202.8 2198.0h0M203.3 2199.9h0M203.8 2200.3h0M204.3 2199.2h0M204.9 2199.6h0M205.4 2203.0h0M205.9 2195.2h0M206.4 2199.2h0M206.9 2203.0h0M207.4 2197.4h0M207.9 2199.6h0M208.4 2199.2h0M208.9 2198.2h0M209.4 2201.5h0M209.9 2205.7h0M210.4 2199.9h0M210.9 2199.2h0M211.4 2197.7h0M211.9 2201.3h0M212.4 2200.4h0M212.9 2199.0h0M213.4 2200.5h0M213.9 2200.4h0M214.4 2199.4h0M214.9 2202.0h0M215.4 2196.7h0M215.9 2201.9h0M216.4 2200.0h0M216.9 2200.7h0M217.4 2201.5h0M217.9 2199.0h0M218.4 2198.1h0M218.9 2197.2h0M219.4 2199.0h0M219.9 2201.1h0M220.4 2198.5h0M220.9 2203.2h0M221.4 2200.2h0M221.9 2199.3h0M222.4 2199.2h0M222.9 2202.7h0M223.5 2203.5h0M224.0 2197.1h0M224.5 2201.5h0M225.0 2203.9h0M225.5 2203.1h0M226.0 2200.6h0M226.5 2198.2h0M227.0 2200.7h0M227.5 2198.3h0M228.0 2200.3h0M228.5 2199.8h0M229.0 2198.8h0M229.5 2201.7h0M230.0 2200.3h0M230.5 2201.8h0M231.0 2202.3h0M231.5 2199.7h0M232.0 2202.8h0M232.5 2201.0h0M233.0 2202.8h0M233.5 2201.4h0M234.0 2202.4h0M234.5 2199.1h0M235.0 2201.2h0M235.5 2201.3h0M236.0 2198.1h0M236.5 2207.4h0M237.0 2203.8h0M237.5 2207.2h0M238.0 2201.7h0M238.5 2200.8h0M239.0 2200.4h0M239.5 2201.3h0M240.0 2203.6h0M240.5 2198.3h0M241.0 2201.3h0M241.5 2202.5h0M242.1 2204.3h0M242.6 2201.2h0M243.1 2203.1h0M243.6 2203.1h0M244.1 2201.8h0M244.6 2201.8h0M245.1 2204.0h0M245.6 2199.8h0M246.1 2204.4h0M246.6 2204.7h0M247.1 2201.8h0M247.6 2202.2h0M248.1 2202.4h0M248.6 2203.4h0M249.1 2202.5h0M249.6 2203.8h0M250.1 2206.1h0M250.6 2201.2h0M251.1 2204.8h0M251.6 2203.3h0M252.1 2201.3h0M252.6 2202.8h0M253.1 2197.3h0M253.6 2205.8h0M254.1 2204.5h0M254.6 2202.8h0M255.1 2200.2h0M255.6 2203.5h0M256.1 2206.0h0M256.6 2200.7h0M257.1 2205.0h0M257.6 2203.5h0M258.1 2201.3h0M258.6 2204.5h0M259.1 2204.1h0M259.6 2202.2h0M260.1 2203.6h0M260.7 2202.6h0M261.2 2205.1h0M261.7 2203.5h0M262.2 2205.5h0M262.7 2206.4h0M263.2 2199.7h0M263.7 2202.3h0M264.2 2201.4h0M264.7 2204.9h0M265.2 2202.2h0M265.7 2201.4h0M266.2 2202.7h0M266.7 2197.5h0M267.2 2199.3h0M267.7 2197.9h0M268.2 2200.6h0M268.7 2195.5h0M269.2 2196.0h0M269.7 2196.8h0M270.2 2199.5h0M270.7 2198.8h0M271.2 2195.3h0M271.7 2198.4h0M272.2 2197.4h0M272.7 2197.7h0M273.2 2200.4h0M273.7 2195.1h0M274.2 2202.3h0M274.7 2197.9h0M275.2 2198.6h0M275.7 2201.8h0M276.2 2197.9h0M276.7 2197.6h0M277.2 2198.6h0M277.7 2200.4h0M278.2 2197.9h0M278.7 2196.5h0M279.3 2198.4h0M279.8 2195.4h0M280.3 2197.2h0M280.8 2197.4h0M281.3 2196.2h0M281.8 2200.4h0M282.3 2200.1h0M282.8 2198.1h0M283.3 2198.1h0M283.8 2196.1h0M284.3 2196.9h0M284.8 2198.9h0M285.3 2198.9h0M285.8 2199.9h0M286.3 2200.1h0M286.8 2200.3h0M287.3 2197.6h0M287.8 2200.4h0M288.3 2200.2h0M288.8 2199.2h0M289.3 2200.6h0M289.8 2200.0h0M290.3 2204.1h0M290.8 2198.9h0M291.3 2200.3h0M291.8 2199.3h0M292.3 2199.0h0M292.8 2203.5h0M293.3 2194.8h0M293.8 2199.4h0M294.3 2199.4h0M294.8 2203.4h0M295.3 2198.5h0M295.8 2199.0h0M296.3 2200.5h0M296.8 2199.3h0M297.3 2197.2h0M297.9 2200.5h0M298.4 2201.7h0M298.9 2197.1h0M299.4 2199.3h0M299.9 2200.3h0M300.4 2195.2h0M300.9 2199.6h0M301.4 2200.3h0M301.9 2199.4h0M302.4 2200.8h0M302.9 2199.6h0M303.4 2199.8h0M303.9 2201.4h0M304.4 2200.6h0M304.9 2199.5h0M305.4 2199.4h0M305.9 2199.0h0M306.4 2198.6h0M306.9 2199.8h0M307.4 2199.2h0M307.9 2201.1h0M308.4 2200.9h0M308.9 2198.3h0M309.4 2204.4h0M309.9 2199.7h0M310.4 2194.0h0M310.9 2204.3h0M311.4 2197.5h0M311.9 2204.1h0M312.4 2199.9h0M312.9 2197.3h0M313.4 2197.6h0M313.9 2202.6h0M314.4 2203.4h0M314.9 2203.7h0M315.4 2199.3h0M315.9 2201.6h0M316.5 2200.9h0M317.0 2200.4h0M317.5 2200.1h0M318.0 2199.9h0M318.5 2200.8h0M319.0 2204.3h0M319.5 2198.1h0M320.0 2206.7h0M320.5 2198.6h0M321.0 2202.4h0M321.5 2201.6h0M322.0 2202.3h0M322.5 2202.0h0M323.0 2201.3h0M323.5 2201.9h0M324.0 2203.6h0M324.5 2199.6h0M325.0 2202.6h0M325.5 2198.7h0M326.0 2201.8h0M326.5 2202.9h0M327.0 2200.6h0M327.5 2199.7h0M328.0 2203.4h0M328.5 2202.2h0M329.0 2198.7h0M329.5 2203.7h0M330.0 2203.4h0M330.5 2201.4h0M331.0 2204.2h0M331.5 2206.8h0M332.0 2205.2h0M332.5 2201.0h0M333.0 2200.5h0M333.5 2200.7h0M334.0 2201.1h0M334.5 2204.4h0M335.1 2200.6h0M335.6 2199.6h0M336.1 2203.4h0M336.6 2200.1h0M337.1 2202.8h0M337.6 2201.7h0M338.1 2201.4h0M338.6 2205.2h0M339.1 2199.2h0M339.6 2203.9h0M340.1 2202.4h0M340.6 2203.2h0M341.1 2201.3h0M341.6 2201.4h0M342.1 2202.3h0M342.6 2199.5h0M343.1 2201.8h0M343.6 2203.2h0M344.1 2208.3h0M344.6 2203.0h0M345.1 2203.1h0M345.6 2204.3h0M346.1 2204.3h0M346.6 2201.3h0M347.1 2200.4h0M347.6 2198.7h0M348.1 2200.3h0M348.6 2204.1h0M349.1 2202.2h0M349.6 2205.5h0M350.1 2201.2h0M350.6 2202.0h0M351.1 2204.0h0M351.6 2203.0h0M352.1 2203.3h0M352.6 2204.2h0M353.1 2200.2h0M353.7 2196.6h0M354.2 2201.2h0M354.7 2200.8h0M355.2 2202.6h0M355.7 2203.7h0M356.2 2198.5h0M356.7 2203.8h0M357.2 2202.2h0M357.7 2203.3h0M358.2 2201.9h0M358.7 2203.2h0M359.2 2201.9h0M359.7 2205.7h0M360.2 2203.4h0M360.7 2200.4h0M361.2 2205.3h0M361.7 2204.6h0M362.2 2200.5h0M362.7 2202.5h0M363.2 2201.1h0M363.7 2207.9h0M364.2 2203.1h0M364.7 2206.0h0M365.2 2206.2h0M365.7 2202.6h0M366.2 2201.0h0M366.7 2206.5h0M367.2 2205.8h0M367.7 2204.7h0M368.2 2203.8h0M368.7 2206.3h0M369.2 2199.0h0M369.7 2202.4h0M370.2 2204.4h0M370.7 2204.7h0M371.2 2198.9h0M371.7 2199.1h0M372.2 2204.7h0M372.8 2203.0h0M373.3 2201.2h0M373.8 2206.2h0M374.3 2205.0h0M374.8 2201.1h0M375.3 2205.3h0M375.8 2204.8h0M376.3 2206.7h0M376.8 2205.5h0M377.3 2202.6h0M377.8 2205.7h0M378.3 2206.7h0M378.8 2205.4h0M379.3 2200.5h0M379.8 2203.8h0M380.3 2205.3h0M380.8 2203.9h0M381.3 2203.3h0M381.8 2204.0h0M382.3 2208.0h0M382.8 2203.7h0M383.3 2204.8h0M383.8 2202.7h0M384.3 2207.2h0M384.8 2202.3h0M385.3 2205.5h0M385.8 2208.0h0M386.3 2201.8h0M386.8 2205.7h0M387.3 2203.9h0M387.8 2205.0h0M388.3 2202.5h0M388.8 2202.5h0M389.3 2202.5h0M389.8 2203.4h0M390.3 2208.2h0M390.8 2208.4h0M391.4 2204.5h0M391.9 2206.9h0M392.4 2204.1h0M392.9 2204.7h0M393.4 2208.0h0M393.9 2207.3h0M394.4 2207.5h0M394.9 2207.1h0M395.4 2205.7h0M395.9 2203.9h0M396.4 2202.6h0M396.9 2207.4h0M397.4 2206.6h0M397.9 2202.3h0M398.4 2203.7h0M398.9 2205.1h0M399.4 2210.5h0M399.9 2207.7h0M400.4 2205.4h0M400.9 2207.0h0M401.4 2201.7h0M401.9 2205.7h0M402.4 2205.3h0M402.9 2208.2h0M403.4 2208.1h0M403.9 2207.4h0M404.4 2207.4h0M404.9 2206.6h0M405.4 2205.4h0M405.9 2205.7h0M406.4 2204.2h0M406.9 2209.1h0M407.4 2205.9h0M407.9 2205.9h0M408.4 2203.2h0M408.9 2206.9h0M409.4 2205.9h0M410.0 2208.3h0M410.5 2205.8h0M411.0 2205.9h0M411.5 2208.0h0M412.0 2207.7h0M412.5 2206.9h0M413.0 2205.7h0M413.5 2209.3h0M414.0 2205.1h0M414.5 2207.7h0M415.0 2203.1h0M415.5 2204.1h0M416.0 2208.0h0M416.5 2208.5h0M417.0 2202.2h0M417.5 2206.0h0M418.0 2206.2h0M418.5 2208.3h0M419.0 2207.7h0M419.5 2205.8h0M420.0 2206.3h0M420.5 2209.3h0M421.0 2205.1h0M421.5 2207.1h0M422.0 2209.7h0M422.5 2205.8h0" stroke="#E0301E" stroke-width="7.0" stroke-linecap="round" fill="none"/>
<path d="M120.9 2203.1h0M121.4 2201.5h0M121.9 2204.1h0M122.4 2202.6h0M122.9 2206.4h0M123.4 2202.9h0M123.9 2206.5h0M124.4 2203.6h0M124.9 2208.7h0M125.4 2204.3h0M125.9 2203.0h0M126.4 2203.6h0M126.9 2202.5h0M127.4 2206.9h0M127.9 2202.2h0M128.4 2202.4h0M128.9 2207.7h0M129.4 2207.2h0M129.9 2207.0h0M130.5 2206.2h0M131.0 2206.0h0M131.5 2211.0h0M132.0 2205.6h0M132.5 2207.2h0M133.0 2208.7h0M133.5 2205.2h0M134.0 2207.6h0M134.5 2204.9h0M135.0 2206.0h0M135.5 2207.6h0M136.0 2204.9h0M136.5 2205.6h0M137.0 2208.0h0M137.5 2210.0h0M138.0 2208.1h0M138.5 2206.0h0M139.0 2207.5h0M139.5 2203.9h0M140.0 2206.6h0M140.5 2206.8h0M141.0 2206.4h0M141.5 2208.8h0M142.0 2207.4h0M142.5 2208.4h0M143.0 2211.5h0M143.5 2210.5h0M144.0 2205.9h0M144.5 2208.1h0M145.0 2207.5h0M145.5 2210.0h0M146.0 2208.4h0M146.5 2205.9h0M147.0 2207.1h0M147.5 2208.3h0M148.0 2204.6h0M148.5 2207.5h0M149.1 2208.0h0M149.6 2205.3h0M150.1 2210.6h0M150.6 2206.4h0M151.1 2209.5h0M151.6 2208.9h0M152.1 2208.7h0M152.6 2207.3h0M153.1 2207.3h0M153.6 2207.0h0M154.1 2207.2h0M154.6 2205.0h0M155.1 2204.5h0M155.6 2206.3h0M156.1 2206.3h0M156.6 2208.3h0M157.1 2209.7h0M157.6 2206.6h0M158.1 2207.6h0M158.6 2206.2h0M159.1 2211.1h0M159.6 2202.9h0M160.1 2210.1h0M160.6 2207.7h0M161.1 2206.0h0M161.6 2210.4h0M162.1 2208.9h0M162.6 2211.6h0M163.1 2210.5h0M163.6 2211.4h0M164.1 2207.7h0M164.6 2207.4h0M165.1 2208.5h0M165.6 2205.7h0M166.1 2205.5h0M166.6 2208.0h0M167.1 2208.4h0M167.7 2208.6h0M168.2 2208.9h0M168.7 2205.7h0M169.2 2207.7h0M169.7 2208.7h0M170.2 2208.6h0M170.7 2207.2h0M171.2 2208.9h0M171.7 2207.6h0M172.2 2208.3h0M172.7 2205.8h0M173.2 2206.1h0M173.7 2210.9h0M174.2 2208.6h0M174.7 2207.0h0M175.2 2209.2h0M175.7 2206.9h0M176.2 2207.8h0M176.7 2207.3h0M177.2 2208.5h0M177.7 2207.9h0M178.2 2207.5h0M178.7 2211.2h0M179.2 2210.2h0M179.7 2210.4h0M180.2 2205.5h0M180.7 2208.0h0M181.2 2207.9h0M181.7 2208.3h0M182.2 2209.6h0M182.7 2210.0h0M183.2 2207.1h0M183.7 2209.4h0M184.2 2205.8h0M184.7 2208.4h0M185.2 2208.6h0M185.7 2209.2h0M186.3 2208.9h0M186.8 2208.7h0M187.3 2206.1h0M187.8 2204.6h0M188.3 2211.0h0M188.8 2208.4h0M189.3 2207.6h0M189.8 2210.6h0M190.3 2210.1h0M190.8 2209.8h0M191.3 2213.4h0M191.8 2207.8h0M192.3 2209.1h0M192.8 2209.2h0M193.3 2208.9h0M193.8 2208.6h0M194.3 2204.9h0M194.8 2208.8h0M195.3 2207.6h0M195.8 2210.1h0M196.3 2208.6h0M196.8 2209.8h0M197.3 2209.5h0M197.8 2210.9h0M198.3 2210.8h0M198.8 2208.5h0M199.3 2208.0h0M199.8 2208.5h0M200.3 2210.6h0M200.8 2208.8h0M201.3 2214.0h0M201.8 2207.7h0M202.3 2209.5h0M202.8 2209.0h0M203.3 2207.4h0M203.8 2210.3h0M204.3 2207.8h0M204.9 2210.3h0M205.4 2208.6h0M205.9 2210.3h0M206.4 2209.1h0M206.9 2207.0h0M207.4 2210.8h0M207.9 2210.8h0M208.4 2210.3h0M208.9 2209.2h0M209.4 2204.7h0M209.9 2210.8h0M210.4 2213.5h0M210.9 2211.0h0M211.4 2212.7h0M211.9 2210.9h0M212.4 2209.9h0M212.9 2211.7h0M213.4 2211.2h0M213.9 2213.4h0M214.4 2209.7h0M214.9 2211.4h0M215.4 2208.1h0M215.9 2208.2h0M216.4 2211.7h0M216.9 2210.8h0M217.4 2210.1h0M217.9 2208.8h0M218.4 2213.3h0M218.9 2210.4h0M219.4 2206.9h0M219.9 2210.5h0M220.4 2210.0h0M220.9 2210.4h0M221.4 2212.6h0M221.9 2208.8h0M222.4 2210.0h0M222.9 2210.3h0M223.5 2209.3h0M224.0 2209.2h0M224.5 2214.2h0M225.0 2209.9h0M225.5 2211.9h0M226.0 2210.6h0M226.5 2212.2h0M227.0 2212.6h0M227.5 2209.3h0M228.0 2211.1h0M228.5 2211.7h0M229.0 2211.8h0M229.5 2211.2h0M230.0 2211.4h0M230.5 2215.8h0M231.0 2213.1h0M231.5 2212.0h0M232.0 2210.3h0M232.5 2209.3h0M233.0 2213.5h0M233.5 2208.4h0M234.0 2211.8h0M234.5 2211.2h0M235.0 2213.1h0M235.5 2213.3h0M236.0 2209.7h0M236.5 2212.8h0M237.0 2212.6h0M237.5 2210.4h0M238.0 2209.5h0M238.5 2215.4h0M239.0 2213.1h0M239.5 2212.9h0M240.0 2209.6h0M240.5 2208.5h0M241.0 2213.2h0M241.5 2212.5h0M242.1 2211.7h0M242.6 2211.2h0M243.1 2214.0h0M243.6 2211.9h0M244.1 2214.8h0M244.6 2218.5h0M245.1 2216.2h0M245.6 2213.4h0M246.1 2212.4h0M246.6 2218.0h0M247.1 2217.3h0M247.6 2214.1h0M248.1 2220.3h0M248.6 2213.2h0M249.1 2212.4h0M249.6 2219.8h0M250.1 2213.0h0M250.6 2214.8h0M251.1 2211.9h0M251.6 2214.1h0M252.1 2215.1h0M252.6 2214.5h0M253.1 2213.0h0M253.6 2214.4h0M254.1 2214.7h0M254.6 2217.5h0M255.1 2214.0h0M255.6 2214.9h0M256.1 2211.7h0M256.6 2215.1h0M257.1 2215.3h0M257.6 2216.3h0M258.1 2213.9h0M258.6 2215.6h0M259.1 2216.6h0M259.6 2212.5h0M260.1 2212.2h0M260.7 2216.3h0M261.2 2217.4h0M261.7 2213.5h0M262.2 2217.1h0M262.7 2210.5h0M263.2 2215.9h0M263.7 2213.9h0M264.2 2218.0h0M264.7 2215.7h0M265.2 2213.7h0M265.7 2214.9h0M266.2 2216.0h0M266.7 2208.7h0M267.2 2210.1h0M267.7 2207.4h0M268.2 2205.1h0M268.7 2199.5h0M269.2 2195.1h0M269.7 2191.6h0M270.2 2186.3h0M270.7 2182.7h0M271.2 2178.2h0M271.7 2172.8h0M272.2 2169.3h0M272.7 2165.2h0M273.2 2161.9h0M273.7 2158.1h0M274.2 2152.2h0M274.7 2148.5h0M275.2 2143.3h0M275.7 2138.3h0M276.2 2132.6h0M276.7 2125.8h0M277.2 2122.3h0M277.7 2117.6h0M278.2 2113.1h0M278.7 2109.6h0M279.3 2107.3h0M279.8 2104.8h0M280.3 2101.4h0M280.8 2098.7h0M281.3 2096.7h0M281.8 2094.4h0M282.3 2092.0h0M282.8 2089.3h0M283.3 2086.7h0M283.8 2085.3h0M284.3 2082.4h0M284.8 2079.6h0M285.3 2077.7h0M285.8 2076.2h0M286.3 2073.4h0M286.8 2071.1h0M287.3 2068.4h0M287.8 2067.7h0M288.3 2064.2h0M288.8 2062.8h0M289.3 2060.4h0M289.8 2058.1h0M290.3 2057.0h0M290.8 2055.0h0M291.3 2052.6h0M291.8 2050.1h0M292.3 2048.9h0M292.8 2047.5h0M293.3 2045.2h0M293.8 2042.8h0M294.3 2040.6h0M294.8 2040.0h0M295.3 2038.4h0M295.8 2036.8h0M296.3 2035.4h0M296.8 2034.6h0M297.3 2033.0h0M297.9 2031.4h0M298.4 2030.3h0M298.9 2029.2h0M299.4 2028.7h0M299.9 2027.3h0M300.4 2026.3h0M300.9 2024.1h0M301.4 2022.8h0M301.9 2022.5h0M302.4 2020.7h0M302.9 2020.9h0M303.4 2019.9h0M303.9 2019.6h0M304.4 2017.8h0M304.9 2017.3h0M305.4 2016.0h0M305.9 2014.9h0M306.4 2014.4h0M306.9 2014.0h0M307.4 2012.5h0M307.9 2011.6h0M308.4 2010.6h0M308.9 2009.4h0M309.4 2009.0h0M309.9 2008.2h0M310.4 2006.2h0M310.9 2005.8h0M311.4 2005.7h0M311.9 2005.1h0M312.4 2005.4h0M312.9 2001.6h0M313.4 2005.5h0M313.9 2000.7h0M314.4 1996.3h0M314.9 2002.0h0M315.4 1999.8h0M315.9 2002.1h0M316.5 1998.7h0M317.0 2001.3h0M317.5 1996.4h0M318.0 1997.9h0M318.5 1999.8h0M319.0 1998.3h0M319.5 1998.3h0M320.0 1995.4h0M320.5 1992.8h0M321.0 1994.6h0M321.5 1995.6h0M322.0 1994.6h0M322.5 1992.4h0M323.0 1996.6h0M323.5 1990.7h0M324.0 1990.6h0M324.5 1995.5h0M325.0 1988.3h0M325.5 1993.1h0M326.0 1990.1h0M326.5 1987.1h0M327.0 1991.9h0M327.5 1991.9h0M328.0 1990.1h0M328.5 1989.7h0M329.0 1987.5h0M329.5 1987.8h0M330.0 1987.3h0M330.5 1986.9h0M331.0 1985.9h0M331.5 1986.8h0M332.0 1984.2h0M332.5 1984.4h0M333.0 1985.9h0M333.5 1980.3h0M334.0 1985.6h0M334.5 1981.6h0M335.1 1984.0h0M335.6 1981.6h0M336.1 1981.0h0M336.6 1980.0h0M337.1 1978.6h0M337.6 1982.5h0M338.1 1975.3h0M338.6 1979.6h0M339.1 1981.5h0M339.6 1982.2h0M340.1 1975.0h0M340.6 1976.0h0M341.1 1978.8h0M341.6 1977.0h0M342.1 1975.6h0M342.6 1977.4h0M343.1 1978.0h0M343.6 1976.9h0M344.1 1974.9h0M344.6 1976.1h0M345.1 1978.1h0M345.6 1974.2h0M346.1 1978.6h0M346.6 1976.7h0M347.1 1973.0h0M347.6 1974.8h0M348.1 1974.9h0M348.6 1975.1h0M349.1 1973.5h0M349.6 1975.5h0M350.1 1979.1h0M350.6 1975.1h0M351.1 1981.3h0M351.6 1979.5h0M352.1 1972.9h0M352.6 1974.0h0M353.1 1976.9h0M353.7 1976.2h0M354.2 1976.0h0M354.7 1974.4h0M355.2 1977.8h0M355.7 1978.1h0M356.2 1977.8h0M356.7 1976.4h0M357.2 1976.3h0M357.7 1977.6h0M358.2 1975.6h0M358.7 1979.0h0M359.2 1977.3h0M359.7 1978.5h0M360.2 1979.2h0M360.7 1975.2h0M361.2 1978.1h0M361.7 1979.5h0M362.2 1977.7h0M362.7 1979.7h0M363.2 1976.8h0M363.7 1976.5h0M364.2 1976.3h0M364.7 1980.2h0M365.2 1978.7h0M365.7 1975.1h0M366.2 1979.0h0M366.7 1976.4h0M367.2 1976.0h0M367.7 1981.5h0M368.2 1976.8h0M368.7 1977.8h0M369.2 1977.7h0M369.7 1976.3h0M370.2 1978.7h0M370.7 1979.5h0M371.2 1978.7h0M371.7 1980.6h0M372.2 1979.1h0M372.8 1983.9h0M373.3 1977.1h0M373.8 1981.4h0M374.3 1979.6h0M374.8 1980.1h0M375.3 1980.7h0M375.8 1980.8h0M376.3 1981.0h0M376.8 1984.3h0M377.3 1982.4h0M377.8 1979.4h0M378.3 1983.6h0M378.8 1983.8h0M379.3 1978.1h0M379.8 1980.0h0M380.3 1979.5h0M380.8 1982.6h0M381.3 1982.2h0M381.8 1981.5h0M382.3 1982.0h0M382.8 1983.4h0M383.3 1986.1h0M383.8 1984.9h0M384.3 1986.5h0M384.8 1981.0h0M385.3 1984.9h0M385.8 1984.7h0M386.3 1984.0h0M386.8 1984.7h0M387.3 1983.9h0M387.8 1986.2h0M388.3 1988.1h0M388.8 1982.2h0M389.3 1987.0h0M389.8 1986.8h0M390.3 1987.6h0M390.8 1987.3h0M391.4 1986.5h0M391.9 1985.4h0M392.4 1988.9h0M392.9 1986.7h0M393.4 1988.7h0M393.9 1985.4h0M394.4 1990.2h0M394.9 1987.9h0M395.4 1987.0h0M395.9 1991.1h0M396.4 1988.7h0M396.9 1988.8h0M397.4 1990.8h0M397.9 1990.0h0M398.4 1988.0h0M398.9 1989.7h0M399.4 1991.1h0M399.9 1991.0h0M400.4 1990.1h0M400.9 1988.8h0M401.4 1990.0h0M401.9 1990.4h0M402.4 1989.1h0M402.9 1995.1h0M403.4 1995.2h0M403.9 1997.0h0M404.4 1991.6h0M404.9 1997.6h0M405.4 1993.8h0M405.9 1992.6h0M406.4 1996.9h0M406.9 1995.8h0M407.4 1995.4h0M407.9 1993.9h0M408.4 1998.3h0M408.9 1995.3h0M409.4 1994.9h0M410.0 1996.3h0M410.5 1996.5h0M411.0 1994.9h0M411.5 1997.0h0M412.0 1997.8h0M412.5 1998.7h0M413.0 1997.2h0M413.5 1999.2h0M414.0 1997.8h0M414.5 1999.1h0M415.0 1997.5h0M415.5 2001.3h0M416.0 2000.0h0M416.5 1999.8h0M417.0 2000.0h0M417.5 1999.0h0M418.0 2000.7h0M418.5 2000.0h0M419.0 1998.4h0M419.5 2000.8h0M420.0 2004.5h0M420.5 2005.5h0M421.0 2002.0h0M421.5 2004.2h0M422.0 2003.3h0M422.5 2004.4h0" stroke="#000" stroke-width="7.0" stroke-linecap="round" fill="none"/>
<line x1="460.40" y1="1960.60" x2="493.00" y2="1960.60" stroke="#000" stroke-width="9.0" stroke-linecap="butt"/>
<circle cx="476.50" cy="1960.60" r="5.8" fill="#000"/>
<text x="512.00" y="1968.70" font-size="23.3" text-anchor="start" fill="#000">DMSO + ligand</text>
<line x1="460.40" y1="1995.40" x2="493.00" y2="1995.40" stroke="#E0301E" stroke-width="9.0" stroke-linecap="butt"/>
<circle cx="476.50" cy="1995.40" r="5.8" fill="#E0301E"/>
<text x="512.00" y="2003.30" font-size="23.3" text-anchor="start" fill="#000">DMSO no ligand</text>
<line x1="460.40" y1="2030.20" x2="493.00" y2="2030.20" stroke="#1E9440" stroke-width="9.0" stroke-linecap="butt"/>
<circle cx="476.50" cy="2030.20" r="5.8" fill="#1E9440"/>
<text x="512.00" y="2038.10" font-size="23.3" text-anchor="start" fill="#000">MK801 10 µM + ligand</text>
<line x1="460.40" y1="2064.80" x2="493.00" y2="2064.80" stroke="#4B55B5" stroke-width="9.0" stroke-linecap="butt"/>
<circle cx="476.50" cy="2064.80" r="5.8" fill="#4B55B5"/>
<text x="512.00" y="2073.10" font-size="23.3" text-anchor="start" fill="#000">MK801 1 µM + ligand</text>
<line x1="460.40" y1="2101.30" x2="493.00" y2="2101.30" stroke="#F7931E" stroke-width="9.0" stroke-linecap="butt"/>
<circle cx="476.50" cy="2101.30" r="5.8" fill="#F7931E"/>
<text x="512.00" y="2110.30" font-size="23.3" text-anchor="start" fill="#000">MK801 10 µM no ligand</text>
<text x="-1.00" y="1937.00" font-size="34.0" text-anchor="start" fill="#000" style="stroke-width:0.2px">G</text>
<line x1="944.60" y1="1958.86" x2="944.60" y2="2264.00" stroke="#000" stroke-width="3.0" stroke-linecap="butt"/>
<line x1="936.20" y1="1960.26" x2="944.60" y2="1960.26" stroke="#000" stroke-width="2.8" stroke-linecap="butt"/>
<text x="931.40" y="1968.36" font-size="24.0" text-anchor="end" fill="#000">2.4</text>
<line x1="936.20" y1="1998.04" x2="944.60" y2="1998.04" stroke="#000" stroke-width="2.8" stroke-linecap="butt"/>
<text x="931.40" y="2006.14" font-size="24.0" text-anchor="end" fill="#000">2.2</text>
<line x1="936.20" y1="2035.82" x2="944.60" y2="2035.82" stroke="#000" stroke-width="2.8" stroke-linecap="butt"/>
<text x="931.40" y="2043.92" font-size="24.0" text-anchor="end" fill="#000">2.0</text>
<line x1="936.20" y1="2073.60" x2="944.60" y2="2073.60" stroke="#000" stroke-width="2.8" stroke-linecap="butt"/>
<text x="931.40" y="2081.70" font-size="24.0" text-anchor="end" fill="#000">1.8</text>
<line x1="936.20" y1="2111.38" x2="944.60" y2="2111.38" stroke="#000" stroke-width="2.8" stroke-linecap="butt"/>
<text x="931.40" y="2119.48" font-size="24.0" text-anchor="end" fill="#000">1.6</text>
<line x1="936.20" y1="2149.16" x2="944.60" y2="2149.16" stroke="#000" stroke-width="2.8" stroke-linecap="butt"/>
<text x="931.40" y="2157.26" font-size="24.0" text-anchor="end" fill="#000">1.4</text>
<line x1="936.20" y1="2186.94" x2="944.60" y2="2186.94" stroke="#000" stroke-width="2.8" stroke-linecap="butt"/>
<text x="931.40" y="2195.04" font-size="24.0" text-anchor="end" fill="#000">1.2</text>
<line x1="936.20" y1="2224.72" x2="944.60" y2="2224.72" stroke="#000" stroke-width="2.8" stroke-linecap="butt"/>
<text x="931.40" y="2232.82" font-size="24.0" text-anchor="end" fill="#000">1.0</text>
<line x1="936.20" y1="2262.50" x2="944.60" y2="2262.50" stroke="#000" stroke-width="2.8" stroke-linecap="butt"/>
<text x="931.40" y="2270.60" font-size="24.0" text-anchor="end" fill="#000">0.8</text>
<line x1="943.10" y1="2262.50" x2="1247.50" y2="2262.50" stroke="#000" stroke-width="3.0" stroke-linecap="butt"/>
<line x1="944.30" y1="2262.50" x2="944.30" y2="2271.10" stroke="#000" stroke-width="2.8" stroke-linecap="butt"/>
<text x="944.30" y="2296.60" font-size="24.0" text-anchor="middle" fill="#000">0</text>
<line x1="1019.75" y1="2262.50" x2="1019.75" y2="2271.10" stroke="#000" stroke-width="2.8" stroke-linecap="butt"/>
<line x1="1095.20" y1="2262.50" x2="1095.20" y2="2271.10" stroke="#000" stroke-width="2.8" stroke-linecap="butt"/>
<text x="1095.20" y="2296.60" font-size="24.0" text-anchor="middle" fill="#000">200</text>
<line x1="1170.65" y1="2262.50" x2="1170.65" y2="2271.10" stroke="#000" stroke-width="2.8" stroke-linecap="butt"/>
<text x="1170.65" y="2296.60" font-size="24.0" text-anchor="middle" fill="#000">300</text>
<line x1="1246.10" y1="2262.50" x2="1246.10" y2="2271.10" stroke="#000" stroke-width="2.8" stroke-linecap="butt"/>
<text x="1246.10" y="2296.60" font-size="24.0" text-anchor="middle" fill="#000">400</text>
<text x="1021.35" y="2296.60" font-size="24.0" text-anchor="middle" fill="#000">100</text>
<text x="1088.70" y="2329.60" font-size="23.9" text-anchor="middle" fill="#000">time [sec]</text>
<text x="881.50" y="2113.76" font-size="23.9" transform="rotate(-90 881.50 2113.76)">F/F<tspan font-size="13.8" dy="8.0">0</tspan></text>
<path d="M944.3 2225.1h0M945.1 2226.1h0M945.8 2226.4h0M946.6 2226.0h0M947.3 2226.1h0M948.1 2226.0h0M948.8 2226.4h0M949.6 2225.9h0M950.3 2225.7h0M951.1 2225.4h0M951.8 2224.9h0M952.6 2224.4h0M953.4 2223.5h0M954.1 2223.7h0M954.9 2223.4h0M955.6 2223.3h0M956.4 2223.4h0M957.1 2223.7h0M957.9 2223.4h0M958.6 2222.7h0M959.4 2222.7h0M960.1 2222.9h0M960.9 2223.0h0M961.7 2222.5h0M962.4 2221.7h0M963.2 2221.4h0M963.9 2220.5h0M964.7 2220.8h0M965.4 2220.7h0M966.2 2220.7h0M966.9 2220.2h0M967.7 2219.4h0M968.4 2219.2h0M969.2 2219.0h0M970.0 2219.0h0M970.7 2219.9h0M971.5 2220.3h0M972.2 2220.5h0M973.0 2219.9h0M973.7 2219.4h0M974.5 2219.6h0M975.2 2219.3h0M976.0 2219.0h0M976.7 2218.7h0M977.5 2218.8h0M978.3 2219.2h0M979.0 2219.1h0M979.8 2219.3h0M980.5 2219.6h0M981.3 2219.8h0M982.0 2219.9h0M982.8 2220.2h0M983.5 2220.2h0M984.3 2220.2h0M985.0 2219.8h0M985.8 2220.0h0M986.6 2219.9h0M987.3 2219.9h0M988.1 2219.9h0M988.8 2220.0h0M989.6 2220.0h0M990.3 2219.6h0M991.1 2220.0h0M991.8 2220.6h0M992.6 2220.8h0M993.3 2220.9h0M994.1 2220.0h0M994.9 2220.2h0M995.6 2220.2h0M996.4 2220.8h0M997.1 2220.8h0M997.9 2221.3h0M998.6 2221.6h0M999.4 2221.8h0M1000.1 2221.4h0M1000.9 2221.9h0M1001.6 2222.0h0M1002.4 2221.9h0M1003.2 2221.6h0M1003.9 2221.8h0M1004.7 2222.0h0M1005.4 2222.3h0M1006.2 2222.1h0M1006.9 2222.0h0M1007.7 2222.2h0M1008.4 2222.1h0M1009.2 2222.4h0M1009.9 2222.0h0M1010.7 2222.5h0M1011.5 2222.3h0M1012.2 2222.6h0M1013.0 2222.4h0M1013.7 2222.4h0M1014.5 2222.3h0M1015.2 2222.3h0M1016.0 2222.5h0M1016.7 2223.0h0M1017.5 2223.2h0M1018.2 2223.9h0M1019.0 2224.2h0M1019.8 2224.4h0M1020.5 2223.9h0M1021.3 2222.9h0M1022.0 2222.7h0M1022.8 2222.4h0M1023.5 2223.0h0M1024.3 2223.1h0M1025.0 2223.1h0M1025.8 2223.0h0M1026.5 2223.1h0M1027.3 2223.4h0M1028.0 2223.9h0M1028.8 2224.3h0M1029.6 2224.8h0M1030.3 2224.5h0M1031.1 2224.3h0M1031.8 2224.2h0M1032.6 2224.3h0M1033.3 2224.4h0M1034.1 2224.0h0M1034.8 2223.6h0M1035.6 2223.4h0M1036.3 2223.9h0M1037.1 2224.9h0M1037.9 2224.5h0M1038.6 2224.3h0M1039.4 2224.2h0M1040.1 2224.5h0M1040.9 2225.2h0M1041.6 2225.0h0M1042.4 2225.4h0M1043.1 2225.1h0M1043.9 2225.4h0M1044.6 2224.7h0M1045.4 2224.7h0M1046.2 2224.3h0M1046.9 2225.0h0M1047.7 2225.4h0M1048.4 2225.7h0M1049.2 2225.7h0M1049.9 2225.1h0M1050.7 2225.0h0M1051.4 2225.0h0M1052.2 2225.4h0M1052.9 2225.2h0M1053.7 2226.1h0M1054.5 2225.8h0M1055.2 2226.2h0M1056.0 2225.7h0M1056.7 2226.7h0M1057.5 2226.9h0M1058.2 2226.6h0M1059.0 2225.2h0M1059.7 2225.1h0M1060.5 2225.5h0M1061.2 2226.1h0M1062.0 2225.8h0M1062.8 2225.8h0M1063.5 2226.0h0M1064.3 2226.3h0M1065.0 2226.0h0M1065.8 2225.7h0M1066.5 2225.1h0M1067.3 2225.1h0M1068.0 2225.1h0M1068.8 2225.6h0M1069.5 2225.6h0M1070.3 2226.1h0M1071.1 2225.6h0M1071.8 2225.8h0M1072.6 2225.1h0M1073.3 2226.0h0M1074.1 2225.8h0M1074.8 2226.1h0M1075.6 2225.9h0M1076.3 2226.4h0M1077.1 2226.8h0M1077.8 2226.2h0M1078.6 2225.7h0M1079.4 2225.5h0M1080.1 2225.9h0M1080.9 2226.5h0M1081.6 2227.1h0M1082.4 2227.6h0M1083.1 2227.6h0M1083.9 2227.1h0M1084.6 2227.0h0M1085.4 2226.6h0M1086.1 2226.4h0M1086.9 2226.1h0M1087.7 2226.8h0M1088.4 2227.0h0M1089.2 2227.1h0M1089.9 2226.9h0M1090.7 2227.5h0M1091.4 2227.0h0M1092.2 2226.5h0M1092.9 2226.0h0M1093.7 2226.1h0M1094.4 2226.0h0M1095.2 2225.7h0M1096.0 2226.1h0M1096.7 2226.2h0M1097.5 2226.0h0M1098.2 2226.0h0M1099.0 2226.3h0M1099.7 2226.6h0M1100.5 2227.5h0M1101.2 2227.4h0M1102.0 2227.7h0M1102.7 2226.9h0M1103.5 2227.0h0M1104.3 2226.8h0M1105.0 2226.8h0M1105.8 2226.7h0M1106.5 2226.9h0M1107.3 2226.8h0M1108.0 2227.0h0M1108.8 2226.7h0M1109.5 2227.3h0M1110.3 2227.2h0M1111.0 2227.3h0M1111.8 2227.2h0M1112.6 2227.4h0M1113.3 2227.2h0M1114.1 2226.9h0M1114.8 2227.1h0M1115.6 2228.3h0M1116.3 2228.2h0M1117.1 2228.0h0M1117.8 2227.0h0M1118.6 2226.5h0M1119.3 2226.6h0M1120.1 2226.7h0M1120.9 2227.5h0M1121.6 2227.6h0M1122.4 2227.6h0M1123.1 2227.2h0M1123.9 2227.1h0M1124.6 2227.3h0M1125.4 2227.7h0M1126.1 2227.5h0M1126.9 2227.6h0M1127.6 2227.3h0M1128.4 2227.2h0M1129.2 2226.8h0M1129.9 2227.0h0M1130.7 2227.1h0M1131.4 2227.2h0M1132.2 2227.3h0M1132.9 2227.8h0M1133.7 2227.6h0M1134.4 2227.4h0M1135.2 2226.9h0M1135.9 2227.4h0M1136.7 2227.7h0M1137.5 2228.3h0M1138.2 2228.2h0M1139.0 2228.3h0M1139.7 2227.9h0M1140.5 2228.0h0M1141.2 2228.1h0M1142.0 2229.2h0M1142.7 2229.9h0M1143.5 2229.2h0M1144.2 2228.4h0M1145.0 2227.9h0M1145.8 2228.4h0M1146.5 2228.3h0M1147.3 2229.0h0M1148.0 2229.4h0M1148.8 2230.0h0M1149.5 2229.5h0M1150.3 2228.8h0M1151.0 2228.2h0M1151.8 2228.3h0M1152.5 2228.9h0M1153.3 2228.8h0M1154.1 2228.9h0M1154.8 2228.5h0M1155.6 2228.8h0M1156.3 2228.9h0M1157.1 2229.1h0M1157.8 2229.3h0M1158.6 2229.6h0M1159.3 2229.3h0M1160.1 2229.2h0M1160.8 2228.6h0M1161.6 2229.2h0M1162.4 2228.8h0M1163.1 2229.2h0M1163.9 2228.7h0M1164.6 2229.3h0M1165.4 2229.6h0M1166.1 2230.0h0M1166.9 2229.5h0M1167.6 2229.4h0M1168.4 2228.8h0M1169.1 2228.8h0M1169.9 2228.9h0M1170.6 2229.2h0M1171.4 2229.6h0M1172.2 2229.1h0M1172.9 2229.1h0M1173.7 2228.9h0M1174.4 2229.0h0M1175.2 2229.1h0M1175.9 2228.6h0M1176.7 2229.1h0M1177.4 2228.7h0M1178.2 2228.9h0M1178.9 2229.0h0M1179.7 2229.1h0M1180.5 2229.5h0M1181.2 2228.9h0M1182.0 2229.5h0M1182.7 2229.5h0M1183.5 2230.0h0M1184.2 2229.8h0M1185.0 2229.5h0M1185.7 2229.3h0M1186.5 2229.8h0M1187.2 2230.6h0M1188.0 2230.9h0M1188.8 2230.0h0M1189.5 2229.8h0M1190.3 2229.9h0M1191.0 2229.9h0M1191.8 2229.6h0M1192.5 2229.1h0M1193.3 2229.7h0M1194.0 2229.3h0M1194.8 2229.5h0M1195.5 2229.8h0M1196.3 2230.6h0M1197.1 2230.8h0M1197.8 2230.3h0M1198.6 2229.7h0M1199.3 2229.7h0M1200.1 2229.8h0M1200.8 2229.4h0M1201.6 2229.2h0M1202.3 2229.2h0M1203.1 2229.8h0M1203.8 2230.2h0M1204.6 2229.9h0M1205.4 2229.6h0M1206.1 2229.5h0M1206.9 2229.3h0M1207.6 2229.7h0M1208.4 2229.5h0M1209.1 2230.0h0M1209.9 2230.1h0M1210.6 2230.6h0M1211.4 2230.4h0M1212.1 2230.2h0M1212.9 2229.9h0M1213.7 2230.3h0M1214.4 2230.5h0M1215.2 2230.6h0M1215.9 2230.2h0M1216.7 2229.8h0M1217.4 2229.8h0M1218.2 2229.8h0M1218.9 2229.4h0M1219.7 2229.2h0M1220.4 2228.7h0M1221.2 2229.1h0M1222.0 2228.8h0M1222.7 2229.5h0M1223.5 2229.3h0M1224.2 2230.0h0M1225.0 2229.8h0M1225.7 2230.2h0M1226.5 2230.5h0M1227.2 2230.9h0M1228.0 2230.5h0M1228.7 2229.8h0M1229.5 2229.1h0M1230.3 2229.3h0M1231.0 2230.3h0M1231.8 2230.6h0M1232.5 2230.8h0M1233.3 2230.2h0M1234.0 2230.4h0M1234.8 2230.4h0M1235.5 2230.6h0M1236.3 2230.1h0M1237.0 2229.8h0M1237.8 2229.7h0M1238.6 2230.1h0M1239.3 2230.0h0M1240.1 2229.7h0M1240.8 2229.5h0M1241.6 2230.2h0M1242.3 2230.4h0M1243.1 2230.8h0M1243.8 2231.0h0M1244.6 2230.6h0M1245.3 2230.4h0M1246.1 2229.9h0" stroke="#7A1F6A" stroke-width="7.8" stroke-linecap="round" fill="none"/>
<path d="M944.3 2225.1h0M945.1 2226.0h0M945.8 2226.1h0M946.6 2226.0h0M947.3 2225.7h0M948.1 2226.0h0M948.8 2225.2h0M949.6 2224.3h0M950.3 2222.3h0M951.1 2221.3h0M951.8 2220.8h0M952.6 2220.6h0M953.4 2220.1h0M954.1 2218.8h0M954.9 2218.0h0M955.6 2217.2h0M956.4 2217.1h0M957.1 2216.5h0M957.9 2216.1h0M958.6 2215.9h0M959.4 2216.0h0M960.1 2214.9h0M960.9 2213.7h0M961.7 2212.3h0M962.4 2211.8h0M963.2 2210.8h0M963.9 2210.5h0M964.7 2209.6h0M965.4 2209.7h0M966.2 2209.1h0M966.9 2209.4h0M967.7 2208.9h0M968.4 2208.6h0M969.2 2207.9h0M970.0 2207.9h0M970.7 2208.0h0M971.5 2207.7h0M972.2 2207.0h0M973.0 2206.3h0M973.7 2206.3h0M974.5 2206.4h0M975.2 2207.0h0M976.0 2207.0h0M976.7 2206.7h0M977.5 2206.1h0M978.3 2206.2h0M979.0 2206.3h0M979.8 2206.5h0M980.5 2206.1h0M981.3 2206.7h0M982.0 2206.9h0M982.8 2207.1h0M983.5 2206.7h0M984.3 2206.4h0M985.0 2206.6h0M985.8 2206.8h0M986.6 2207.0h0M987.3 2206.8h0M988.1 2207.3h0M988.8 2207.6h0M989.6 2208.0h0M990.3 2207.7h0M991.1 2207.4h0M991.8 2207.8h0M992.6 2207.8h0M993.3 2208.7h0M994.1 2208.7h0M994.9 2209.1h0M995.6 2208.8h0M996.4 2208.9h0M997.1 2209.1h0M997.9 2209.3h0M998.6 2209.4h0M999.4 2209.9h0M1000.1 2210.4h0M1000.9 2210.6h0M1001.6 2210.2h0M1002.4 2209.7h0M1003.2 2209.0h0M1003.9 2209.3h0M1004.7 2210.0h0M1005.4 2211.0h0M1006.2 2211.0h0M1006.9 2211.0h0M1007.7 2211.6h0M1008.4 2212.0h0M1009.2 2212.3h0M1009.9 2212.6h0M1010.7 2213.1h0M1011.5 2213.0h0M1012.2 2213.4h0M1013.0 2213.2h0M1013.7 2213.8h0M1014.5 2213.0h0M1015.2 2213.1h0M1016.0 2213.5h0M1016.7 2213.7h0M1017.5 2214.3h0M1018.2 2213.7h0M1019.0 2213.8h0M1019.8 2213.8h0M1020.5 2214.4h0M1021.3 2215.0h0M1022.0 2215.5h0M1022.8 2215.6h0M1023.5 2215.8h0M1024.3 2215.5h0M1025.0 2215.7h0M1025.8 2215.7h0M1026.5 2215.9h0M1027.3 2216.4h0M1028.0 2217.0h0M1028.8 2217.4h0M1029.6 2217.6h0M1030.3 2217.9h0M1031.1 2217.8h0M1031.8 2217.8h0M1032.6 2217.4h0M1033.3 2218.4h0M1034.1 2218.7h0M1034.8 2219.6h0M1035.6 2219.7h0M1036.3 2220.0h0M1037.1 2220.1h0M1037.9 2220.3h0M1038.6 2219.9h0M1039.4 2219.9h0M1040.1 2220.2h0M1040.9 2221.0h0M1041.6 2221.2h0M1042.4 2221.0h0M1043.1 2221.2h0M1043.9 2221.3h0M1044.6 2222.0h0M1045.4 2222.2h0M1046.2 2222.1h0M1046.9 2222.6h0M1047.7 2222.7h0M1048.4 2223.0h0M1049.2 2222.5h0M1049.9 2222.8h0M1050.7 2223.5h0M1051.4 2224.2h0M1052.2 2224.5h0M1052.9 2224.4h0M1053.7 2224.1h0M1054.5 2223.9h0M1055.2 2224.1h0M1056.0 2224.0h0M1056.7 2224.6h0M1057.5 2224.8h0M1058.2 2225.2h0M1059.0 2224.9h0M1059.7 2225.2h0M1060.5 2225.9h0M1061.2 2225.8h0M1062.0 2225.4h0M1062.8 2224.3h0M1063.5 2224.4h0M1064.3 2224.3h0M1065.0 2225.0h0M1065.8 2225.4h0M1066.5 2225.9h0M1067.3 2226.5h0M1068.0 2226.5h0M1068.8 2226.8h0M1069.5 2226.9h0M1070.3 2226.7h0M1071.1 2226.5h0M1071.8 2226.3h0M1072.6 2226.5h0M1073.3 2226.5h0M1074.1 2226.8h0M1074.8 2227.5h0M1075.6 2228.4h0M1076.3 2228.3h0M1077.1 2228.0h0M1077.8 2228.3h0M1078.6 2228.2h0M1079.4 2228.4h0M1080.1 2227.6h0M1080.9 2227.8h0M1081.6 2228.1h0M1082.4 2228.7h0M1083.1 2229.4h0M1083.9 2229.6h0M1084.6 2229.8h0M1085.4 2229.6h0M1086.1 2229.1h0M1086.9 2229.4h0M1087.7 2229.5h0M1088.4 2230.0h0M1089.2 2229.9h0M1089.9 2229.9h0M1090.7 2230.2h0M1091.4 2229.8h0M1092.2 2230.4h0M1092.9 2230.6h0M1093.7 2230.9h0M1094.4 2231.4h0M1095.2 2231.5h0M1096.0 2231.9h0M1096.7 2231.6h0M1097.5 2231.5h0M1098.2 2232.1h0M1099.0 2232.6h0M1099.7 2232.5h0M1100.5 2231.9h0M1101.2 2231.9h0M1102.0 2232.1h0M1102.7 2232.3h0M1103.5 2231.8h0M1104.3 2232.2h0M1105.0 2231.9h0M1105.8 2232.4h0M1106.5 2231.9h0M1107.3 2232.2h0M1108.0 2232.5h0M1108.8 2233.1h0M1109.5 2233.3h0M1110.3 2232.9h0M1111.0 2233.3h0M1111.8 2233.6h0M1112.6 2233.8h0M1113.3 2233.4h0M1114.1 2233.6h0M1114.8 2234.1h0M1115.6 2234.2h0M1116.3 2234.3h0M1117.1 2234.1h0M1117.8 2234.1h0M1118.6 2233.9h0M1119.3 2234.8h0M1120.1 2234.8h0M1120.9 2234.6h0M1121.6 2233.5h0M1122.4 2233.7h0M1123.1 2234.6h0M1123.9 2234.6h0M1124.6 2234.9h0M1125.4 2234.2h0M1126.1 2234.8h0M1126.9 2235.0h0M1127.6 2235.4h0M1128.4 2235.0h0M1129.2 2234.9h0M1129.9 2235.0h0M1130.7 2235.9h0M1131.4 2235.9h0M1132.2 2236.0h0M1132.9 2235.6h0M1133.7 2235.6h0M1134.4 2235.4h0M1135.2 2235.6h0M1135.9 2235.9h0M1136.7 2236.1h0M1137.5 2236.0h0M1138.2 2235.9h0M1139.0 2236.0h0M1139.7 2236.5h0M1140.5 2236.5h0M1141.2 2236.4h0M1142.0 2236.5h0M1142.7 2236.7h0M1143.5 2237.2h0M1144.2 2237.6h0M1145.0 2237.8h0M1145.8 2237.5h0M1146.5 2237.1h0M1147.3 2237.4h0M1148.0 2237.4h0M1148.8 2237.6h0M1149.5 2237.7h0M1150.3 2238.2h0M1151.0 2237.8h0M1151.8 2237.4h0M1152.5 2237.5h0M1153.3 2237.8h0M1154.1 2238.1h0M1154.8 2238.1h0M1155.6 2238.3h0M1156.3 2238.7h0M1157.1 2238.5h0M1157.8 2238.4h0M1158.6 2237.3h0M1159.3 2237.4h0M1160.1 2237.6h0M1160.8 2238.5h0M1161.6 2238.6h0M1162.4 2238.4h0M1163.1 2238.3h0M1163.9 2238.3h0M1164.6 2238.5h0M1165.4 2238.5h0M1166.1 2238.1h0M1166.9 2238.3h0M1167.6 2238.6h0M1168.4 2239.1h0M1169.1 2238.7h0M1169.9 2238.4h0M1170.6 2238.3h0M1171.4 2238.7h0M1172.2 2239.1h0M1172.9 2239.3h0M1173.7 2239.1h0M1174.4 2238.7h0M1175.2 2238.5h0M1175.9 2239.2h0M1176.7 2239.5h0M1177.4 2240.2h0M1178.2 2240.4h0M1178.9 2240.5h0M1179.7 2240.4h0M1180.5 2240.0h0M1181.2 2240.5h0M1182.0 2240.8h0M1182.7 2240.9h0M1183.5 2241.0h0M1184.2 2240.8h0M1185.0 2240.7h0M1185.7 2240.4h0M1186.5 2240.4h0M1187.2 2240.5h0M1188.0 2240.8h0M1188.8 2241.2h0M1189.5 2241.2h0M1190.3 2240.7h0M1191.0 2240.4h0M1191.8 2240.7h0M1192.5 2240.9h0M1193.3 2241.6h0M1194.0 2241.7h0M1194.8 2242.0h0M1195.5 2241.5h0M1196.3 2241.4h0M1197.1 2241.4h0M1197.8 2241.8h0M1198.6 2241.9h0M1199.3 2241.8h0M1200.1 2242.0h0M1200.8 2242.3h0M1201.6 2242.5h0M1202.3 2241.6h0M1203.1 2241.1h0M1203.8 2240.6h0M1204.6 2240.7h0M1205.4 2241.1h0M1206.1 2241.6h0M1206.9 2242.3h0M1207.6 2241.9h0M1208.4 2241.7h0M1209.1 2241.3h0M1209.9 2241.5h0M1210.6 2241.6h0M1211.4 2241.7h0M1212.1 2241.9h0M1212.9 2241.7h0M1213.7 2242.0h0M1214.4 2242.4h0M1215.2 2242.8h0M1215.9 2242.3h0M1216.7 2242.0h0M1217.4 2242.1h0M1218.2 2242.2h0M1218.9 2242.3h0M1219.7 2242.8h0M1220.4 2243.4h0M1221.2 2244.0h0M1222.0 2243.6h0M1222.7 2243.5h0M1223.5 2242.8h0M1224.2 2242.2h0M1225.0 2242.2h0M1225.7 2242.4h0M1226.5 2243.1h0M1227.2 2243.8h0M1228.0 2244.1h0M1228.7 2244.2h0M1229.5 2243.3h0M1230.3 2243.4h0M1231.0 2243.6h0M1231.8 2243.5h0M1232.5 2243.3h0M1233.3 2243.3h0M1234.0 2243.7h0M1234.8 2243.8h0M1235.5 2243.3h0M1236.3 2242.7h0M1237.0 2243.0h0M1237.8 2243.0h0M1238.6 2243.4h0M1239.3 2242.9h0M1240.1 2243.0h0M1240.8 2243.3h0M1241.6 2243.2h0M1242.3 2243.9h0M1243.1 2243.8h0M1243.8 2244.3h0M1244.6 2243.5h0M1245.3 2242.9h0M1246.1 2242.7h0" stroke="#2E2E8C" stroke-width="7.8" stroke-linecap="round" fill="none"/>
<path d="M944.3 2224.4h0M945.1 2225.7h0M945.8 2226.2h0M946.6 2226.2h0M947.3 2225.5h0M948.1 2225.2h0M948.8 2224.4h0M949.6 2223.3h0M950.3 2221.3h0M951.1 2220.1h0M951.8 2218.9h0M952.6 2217.9h0M953.4 2216.5h0M954.1 2215.2h0M954.9 2214.7h0M955.6 2214.0h0M956.4 2213.3h0M957.1 2212.5h0M957.9 2211.7h0M958.6 2211.4h0M959.4 2211.2h0M960.1 2210.0h0M960.9 2209.1h0M961.7 2208.0h0M962.4 2207.3h0M963.2 2206.5h0M963.9 2205.9h0M964.7 2205.5h0M965.4 2204.5h0M966.2 2203.3h0M966.9 2202.4h0M967.7 2201.6h0M968.4 2201.2h0M969.2 2200.7h0M970.0 2200.5h0M970.7 2200.2h0M971.5 2199.8h0M972.2 2199.3h0M973.0 2198.2h0M973.7 2197.8h0M974.5 2197.8h0M975.2 2197.9h0M976.0 2198.0h0M976.7 2197.1h0M977.5 2197.6h0M978.3 2197.5h0M979.0 2197.9h0M979.8 2197.3h0M980.5 2196.9h0M981.3 2197.0h0M982.0 2197.4h0M982.8 2197.2h0M983.5 2196.2h0M984.3 2195.1h0M985.0 2195.1h0M985.8 2195.3h0M986.6 2195.8h0M987.3 2196.0h0M988.1 2195.8h0M988.8 2195.2h0M989.6 2194.9h0M990.3 2195.3h0M991.1 2195.2h0M991.8 2195.0h0M992.6 2195.0h0M993.3 2195.2h0M994.1 2195.3h0M994.9 2195.3h0M995.6 2195.7h0M996.4 2195.4h0M997.1 2195.5h0M997.9 2195.7h0M998.6 2195.5h0M999.4 2195.1h0M1000.1 2194.7h0M1000.9 2195.4h0M1001.6 2195.7h0M1002.4 2196.4h0M1003.2 2196.5h0M1003.9 2196.6h0M1004.7 2196.4h0M1005.4 2196.3h0M1006.2 2196.8h0M1006.9 2196.8h0M1007.7 2197.5h0M1008.4 2197.4h0M1009.2 2197.7h0M1009.9 2197.8h0M1010.7 2198.0h0M1011.5 2198.0h0M1012.2 2197.9h0M1013.0 2197.7h0M1013.7 2198.0h0M1014.5 2197.7h0M1015.2 2197.9h0M1016.0 2198.0h0M1016.7 2198.0h0M1017.5 2198.8h0M1018.2 2198.6h0M1019.0 2199.2h0M1019.8 2198.7h0M1020.5 2199.5h0M1021.3 2200.0h0M1022.0 2200.7h0M1022.8 2200.4h0M1023.5 2200.3h0M1024.3 2200.3h0M1025.0 2200.5h0M1025.8 2201.0h0M1026.5 2201.6h0M1027.3 2201.8h0M1028.0 2201.7h0M1028.8 2201.3h0M1029.6 2201.5h0M1030.3 2201.6h0M1031.1 2202.5h0M1031.8 2202.3h0M1032.6 2203.1h0M1033.3 2202.9h0M1034.1 2203.6h0M1034.8 2203.8h0M1035.6 2204.2h0M1036.3 2203.8h0M1037.1 2203.9h0M1037.9 2203.8h0M1038.6 2204.4h0M1039.4 2204.3h0M1040.1 2204.6h0M1040.9 2204.6h0M1041.6 2205.2h0M1042.4 2205.5h0M1043.1 2205.7h0M1043.9 2205.7h0M1044.6 2205.8h0M1045.4 2206.4h0M1046.2 2206.2h0M1046.9 2206.7h0M1047.7 2206.6h0M1048.4 2206.8h0M1049.2 2206.5h0M1049.9 2206.7h0M1050.7 2207.3h0M1051.4 2207.5h0M1052.2 2208.3h0M1052.9 2207.9h0M1053.7 2208.0h0M1054.5 2207.7h0M1055.2 2207.9h0M1056.0 2208.3h0M1056.7 2208.0h0M1057.5 2209.2h0M1058.2 2209.6h0M1059.0 2209.9h0M1059.7 2209.5h0M1060.5 2209.7h0M1061.2 2209.9h0M1062.0 2210.7h0M1062.8 2210.8h0M1063.5 2211.1h0M1064.3 2210.5h0M1065.0 2210.7h0M1065.8 2210.7h0M1066.5 2210.7h0M1067.3 2210.3h0M1068.0 2210.7h0M1068.8 2210.4h0M1069.5 2211.1h0M1070.3 2211.3h0M1071.1 2212.4h0M1071.8 2212.2h0M1072.6 2212.5h0M1073.3 2212.0h0M1074.1 2212.3h0M1074.8 2212.2h0M1075.6 2212.8h0M1076.3 2212.9h0M1077.1 2212.9h0M1077.8 2212.7h0M1078.6 2213.0h0M1079.4 2213.3h0M1080.1 2213.5h0M1080.9 2214.0h0M1081.6 2213.8h0M1082.4 2214.1h0M1083.1 2214.2h0M1083.9 2214.9h0M1084.6 2215.1h0M1085.4 2215.5h0M1086.1 2215.0h0M1086.9 2214.7h0M1087.7 2214.7h0M1088.4 2215.3h0M1089.2 2215.2h0M1089.9 2214.9h0M1090.7 2215.3h0M1091.4 2216.6h0M1092.2 2217.3h0M1092.9 2216.8h0M1093.7 2216.3h0M1094.4 2216.3h0M1095.2 2216.6h0M1096.0 2216.9h0M1096.7 2216.9h0M1097.5 2217.4h0M1098.2 2217.5h0M1099.0 2217.0h0M1099.7 2217.3h0M1100.5 2217.4h0M1101.2 2217.6h0M1102.0 2217.1h0M1102.7 2217.4h0M1103.5 2217.3h0M1104.3 2217.5h0M1105.0 2217.8h0M1105.8 2218.0h0M1106.5 2218.9h0M1107.3 2218.4h0M1108.0 2219.4h0M1108.8 2219.6h0M1109.5 2219.7h0M1110.3 2219.4h0M1111.0 2219.0h0M1111.8 2219.3h0M1112.6 2219.6h0M1113.3 2219.8h0M1114.1 2220.3h0M1114.8 2220.2h0M1115.6 2220.3h0M1116.3 2220.2h0M1117.1 2220.6h0M1117.8 2220.8h0M1118.6 2221.3h0M1119.3 2221.3h0M1120.1 2221.7h0M1120.9 2221.0h0M1121.6 2221.3h0M1122.4 2221.3h0M1123.1 2221.7h0M1123.9 2221.3h0M1124.6 2221.2h0M1125.4 2221.3h0M1126.1 2221.0h0M1126.9 2221.3h0M1127.6 2221.3h0M1128.4 2221.3h0M1129.2 2221.6h0M1129.9 2221.5h0M1130.7 2222.3h0M1131.4 2222.5h0M1132.2 2223.1h0M1132.9 2223.1h0M1133.7 2223.2h0M1134.4 2223.2h0M1135.2 2223.3h0M1135.9 2223.0h0M1136.7 2223.0h0M1137.5 2223.5h0M1138.2 2223.8h0M1139.0 2224.1h0M1139.7 2224.1h0M1140.5 2223.9h0M1141.2 2223.8h0M1142.0 2223.2h0M1142.7 2223.3h0M1143.5 2223.4h0M1144.2 2223.4h0M1145.0 2223.6h0M1145.8 2224.0h0M1146.5 2224.7h0M1147.3 2225.1h0M1148.0 2224.8h0M1148.8 2224.6h0M1149.5 2224.2h0M1150.3 2224.5h0M1151.0 2225.0h0M1151.8 2225.2h0M1152.5 2224.8h0M1153.3 2225.0h0M1154.1 2225.3h0M1154.8 2225.4h0M1155.6 2225.3h0M1156.3 2225.2h0M1157.1 2225.4h0M1157.8 2225.8h0M1158.6 2226.0h0M1159.3 2225.9h0M1160.1 2225.8h0M1160.8 2225.9h0M1161.6 2226.2h0M1162.4 2226.2h0M1163.1 2225.5h0M1163.9 2225.9h0M1164.6 2226.0h0M1165.4 2226.2h0M1166.1 2226.1h0M1166.9 2226.1h0M1167.6 2227.1h0M1168.4 2226.9h0M1169.1 2226.9h0M1169.9 2226.3h0M1170.6 2226.7h0M1171.4 2226.9h0M1172.2 2227.3h0M1172.9 2227.0h0M1173.7 2227.2h0M1174.4 2227.0h0M1175.2 2227.7h0M1175.9 2227.9h0M1176.7 2229.0h0M1177.4 2228.7h0M1178.2 2228.5h0M1178.9 2227.8h0M1179.7 2227.2h0M1180.5 2227.7h0M1181.2 2227.8h0M1182.0 2228.8h0M1182.7 2228.7h0M1183.5 2228.8h0M1184.2 2229.0h0M1185.0 2229.2h0M1185.7 2228.6h0M1186.5 2228.3h0M1187.2 2227.8h0M1188.0 2228.8h0M1188.8 2228.8h0M1189.5 2229.0h0M1190.3 2228.8h0M1191.0 2228.9h0M1191.8 2229.2h0M1192.5 2229.2h0M1193.3 2228.9h0M1194.0 2228.5h0M1194.8 2229.0h0M1195.5 2229.8h0M1196.3 2230.3h0M1197.1 2230.0h0M1197.8 2229.2h0M1198.6 2228.9h0M1199.3 2229.2h0M1200.1 2228.9h0M1200.8 2229.1h0M1201.6 2229.5h0M1202.3 2229.8h0M1203.1 2229.9h0M1203.8 2229.3h0M1204.6 2230.1h0M1205.4 2230.3h0M1206.1 2230.4h0M1206.9 2230.0h0M1207.6 2229.8h0M1208.4 2229.5h0M1209.1 2229.1h0M1209.9 2228.9h0M1210.6 2229.4h0M1211.4 2229.3h0M1212.1 2229.6h0M1212.9 2229.4h0M1213.7 2230.0h0M1214.4 2230.5h0M1215.2 2231.4h0M1215.9 2231.3h0M1216.7 2231.1h0M1217.4 2230.5h0M1218.2 2230.3h0M1218.9 2230.6h0M1219.7 2231.1h0M1220.4 2231.3h0M1221.2 2230.8h0M1222.0 2230.4h0M1222.7 2230.7h0M1223.5 2231.3h0M1224.2 2231.2h0M1225.0 2231.3h0M1225.7 2230.8h0M1226.5 2230.5h0M1227.2 2230.5h0M1228.0 2230.5h0M1228.7 2230.8h0M1229.5 2230.4h0M1230.3 2230.1h0M1231.0 2230.0h0M1231.8 2230.0h0M1232.5 2230.3h0M1233.3 2230.6h0M1234.0 2230.8h0M1234.8 2231.0h0M1235.5 2230.5h0M1236.3 2230.2h0M1237.0 2229.6h0M1237.8 2230.3h0M1238.6 2230.7h0M1239.3 2231.8h0M1240.1 2231.7h0M1240.8 2232.2h0M1241.6 2231.4h0M1242.3 2231.0h0M1243.1 2230.9h0M1243.8 2231.1h0M1244.6 2231.1h0M1245.3 2230.3h0M1246.1 2230.4h0" stroke="#A5692A" stroke-width="7.8" stroke-linecap="round" fill="none"/>
<path d="M944.3 2224.4h0M945.1 2225.7h0M945.8 2226.5h0M946.6 2226.7h0M947.3 2226.4h0M948.1 2225.7h0M948.8 2223.7h0M949.6 2221.7h0M950.3 2219.2h0M951.1 2217.1h0M951.8 2215.1h0M952.6 2213.2h0M953.4 2212.2h0M954.1 2210.5h0M954.9 2209.8h0M955.6 2208.4h0M956.4 2207.5h0M957.1 2205.6h0M957.9 2204.0h0M958.6 2202.6h0M959.4 2200.8h0M960.1 2199.3h0M960.9 2197.3h0M961.7 2196.0h0M962.4 2194.2h0M963.2 2192.4h0M963.9 2190.8h0M964.7 2189.1h0M965.4 2187.5h0M966.2 2186.5h0M966.9 2185.5h0M967.7 2184.6h0M968.4 2183.5h0M969.2 2182.0h0M970.0 2181.0h0M970.7 2179.8h0M971.5 2178.8h0M972.2 2177.7h0M973.0 2177.5h0M973.7 2177.0h0M974.5 2176.4h0M975.2 2174.8h0M976.0 2174.3h0M976.7 2174.2h0M977.5 2173.8h0M978.3 2173.0h0M979.0 2172.8h0M979.8 2172.9h0M980.5 2172.9h0M981.3 2172.6h0M982.0 2172.0h0M982.8 2171.3h0M983.5 2170.6h0M984.3 2170.1h0M985.0 2170.4h0M985.8 2169.7h0M986.6 2169.4h0M987.3 2168.6h0M988.1 2168.5h0M988.8 2168.2h0M989.6 2168.3h0M990.3 2168.3h0M991.1 2168.0h0M991.8 2168.2h0M992.6 2167.9h0M993.3 2167.5h0M994.1 2167.1h0M994.9 2167.3h0M995.6 2168.0h0M996.4 2168.4h0M997.1 2168.2h0M997.9 2168.8h0M998.6 2168.6h0M999.4 2169.1h0M1000.1 2168.6h0M1000.9 2168.7h0M1001.6 2168.1h0M1002.4 2167.7h0M1003.2 2168.4h0M1003.9 2169.1h0M1004.7 2170.2h0M1005.4 2170.0h0M1006.2 2169.6h0M1006.9 2169.5h0M1007.7 2169.7h0M1008.4 2170.4h0M1009.2 2170.7h0M1009.9 2170.8h0M1010.7 2170.7h0M1011.5 2171.0h0M1012.2 2171.1h0M1013.0 2171.1h0M1013.7 2170.7h0M1014.5 2171.2h0M1015.2 2171.3h0M1016.0 2171.3h0M1016.7 2171.1h0M1017.5 2171.8h0M1018.2 2172.7h0M1019.0 2172.9h0M1019.8 2173.1h0M1020.5 2173.3h0M1021.3 2173.2h0M1022.0 2172.9h0M1022.8 2172.6h0M1023.5 2172.7h0M1024.3 2172.9h0M1025.0 2173.7h0M1025.8 2173.9h0M1026.5 2174.4h0M1027.3 2174.2h0M1028.0 2174.3h0M1028.8 2174.5h0M1029.6 2174.4h0M1030.3 2175.1h0M1031.1 2175.6h0M1031.8 2176.5h0M1032.6 2176.8h0M1033.3 2177.4h0M1034.1 2177.5h0M1034.8 2177.7h0M1035.6 2177.6h0M1036.3 2178.5h0M1037.1 2179.3h0M1037.9 2179.2h0M1038.6 2179.1h0M1039.4 2178.3h0M1040.1 2178.9h0M1040.9 2178.8h0M1041.6 2179.8h0M1042.4 2180.0h0M1043.1 2180.4h0M1043.9 2180.0h0M1044.6 2179.6h0M1045.4 2179.5h0M1046.2 2180.2h0M1046.9 2180.9h0M1047.7 2181.5h0M1048.4 2181.4h0M1049.2 2181.5h0M1049.9 2181.2h0M1050.7 2181.4h0M1051.4 2181.4h0M1052.2 2181.7h0M1052.9 2182.1h0M1053.7 2182.1h0M1054.5 2182.2h0M1055.2 2182.0h0M1056.0 2182.3h0M1056.7 2182.9h0M1057.5 2182.8h0M1058.2 2183.3h0M1059.0 2183.9h0M1059.7 2184.3h0M1060.5 2184.7h0M1061.2 2184.8h0M1062.0 2185.4h0M1062.8 2185.8h0M1063.5 2186.2h0M1064.3 2185.8h0M1065.0 2186.3h0M1065.8 2186.1h0M1066.5 2186.8h0M1067.3 2186.8h0M1068.0 2186.8h0M1068.8 2187.0h0M1069.5 2186.5h0M1070.3 2187.0h0M1071.1 2186.8h0M1071.8 2187.4h0M1072.6 2187.4h0M1073.3 2187.4h0M1074.1 2187.7h0M1074.8 2188.0h0M1075.6 2188.0h0M1076.3 2188.2h0M1077.1 2187.9h0M1077.8 2188.7h0M1078.6 2188.8h0M1079.4 2190.0h0M1080.1 2190.3h0M1080.9 2190.8h0M1081.6 2190.7h0M1082.4 2190.5h0M1083.1 2190.2h0M1083.9 2190.3h0M1084.6 2191.0h0M1085.4 2191.4h0M1086.1 2191.8h0M1086.9 2192.0h0M1087.7 2191.4h0M1088.4 2191.1h0M1089.2 2191.2h0M1089.9 2191.7h0M1090.7 2191.5h0M1091.4 2191.6h0M1092.2 2192.0h0M1092.9 2192.9h0M1093.7 2193.4h0M1094.4 2193.1h0M1095.2 2191.9h0M1096.0 2191.8h0M1096.7 2192.8h0M1097.5 2193.6h0M1098.2 2193.2h0M1099.0 2192.8h0M1099.7 2192.9h0M1100.5 2193.4h0M1101.2 2193.6h0M1102.0 2194.0h0M1102.7 2194.1h0M1103.5 2194.2h0M1104.3 2194.6h0M1105.0 2194.5h0M1105.8 2194.7h0M1106.5 2195.4h0M1107.3 2195.6h0M1108.0 2196.2h0M1108.8 2196.0h0M1109.5 2196.6h0M1110.3 2196.1h0M1111.0 2196.1h0M1111.8 2195.9h0M1112.6 2195.9h0M1113.3 2195.7h0M1114.1 2195.8h0M1114.8 2196.9h0M1115.6 2197.0h0M1116.3 2197.1h0M1117.1 2196.8h0M1117.8 2196.9h0M1118.6 2197.1h0M1119.3 2197.1h0M1120.1 2197.2h0M1120.9 2197.0h0M1121.6 2197.2h0M1122.4 2197.2h0M1123.1 2197.2h0M1123.9 2196.6h0M1124.6 2197.1h0M1125.4 2197.5h0M1126.1 2197.8h0M1126.9 2197.8h0M1127.6 2197.9h0M1128.4 2198.4h0M1129.2 2198.7h0M1129.9 2199.0h0M1130.7 2199.3h0M1131.4 2199.2h0M1132.2 2199.2h0M1132.9 2199.5h0M1133.7 2199.7h0M1134.4 2199.2h0M1135.2 2198.5h0M1135.9 2199.2h0M1136.7 2200.0h0M1137.5 2200.3h0M1138.2 2199.8h0M1139.0 2199.6h0M1139.7 2200.0h0M1140.5 2200.1h0M1141.2 2200.5h0M1142.0 2200.2h0M1142.7 2200.6h0M1143.5 2200.5h0M1144.2 2200.5h0M1145.0 2200.0h0M1145.8 2200.0h0M1146.5 2200.5h0M1147.3 2201.1h0M1148.0 2201.3h0M1148.8 2201.5h0M1149.5 2201.0h0M1150.3 2201.1h0M1151.0 2201.0h0M1151.8 2201.3h0M1152.5 2201.2h0M1153.3 2201.5h0M1154.1 2201.5h0M1154.8 2201.7h0M1155.6 2201.7h0M1156.3 2202.1h0M1157.1 2202.9h0M1157.8 2202.8h0M1158.6 2202.5h0M1159.3 2202.2h0M1160.1 2202.5h0M1160.8 2202.7h0M1161.6 2203.0h0M1162.4 2202.8h0M1163.1 2202.8h0M1163.9 2202.4h0M1164.6 2202.4h0M1165.4 2203.2h0M1166.1 2203.4h0M1166.9 2203.9h0M1167.6 2203.2h0M1168.4 2203.1h0M1169.1 2202.8h0M1169.9 2203.3h0M1170.6 2202.9h0M1171.4 2203.2h0M1172.2 2203.6h0M1172.9 2204.2h0M1173.7 2204.6h0M1174.4 2203.9h0M1175.2 2204.0h0M1175.9 2203.3h0M1176.7 2203.6h0M1177.4 2203.8h0M1178.2 2204.7h0M1178.9 2205.2h0M1179.7 2205.2h0M1180.5 2205.0h0M1181.2 2204.8h0M1182.0 2205.2h0M1182.7 2205.4h0M1183.5 2205.5h0M1184.2 2205.2h0M1185.0 2205.1h0M1185.7 2205.5h0M1186.5 2206.2h0M1187.2 2205.7h0M1188.0 2205.8h0M1188.8 2205.7h0M1189.5 2206.5h0M1190.3 2206.0h0M1191.0 2206.1h0M1191.8 2205.8h0M1192.5 2206.0h0M1193.3 2206.2h0M1194.0 2206.3h0M1194.8 2206.8h0M1195.5 2206.6h0M1196.3 2206.5h0M1197.1 2206.3h0M1197.8 2206.6h0M1198.6 2206.9h0M1199.3 2207.0h0M1200.1 2206.7h0M1200.8 2207.3h0M1201.6 2207.8h0M1202.3 2207.8h0M1203.1 2207.3h0M1203.8 2206.8h0M1204.6 2206.9h0M1205.4 2207.0h0M1206.1 2207.2h0M1206.9 2207.2h0M1207.6 2207.1h0M1208.4 2206.9h0M1209.1 2207.0h0M1209.9 2207.5h0M1210.6 2207.6h0M1211.4 2208.0h0M1212.1 2207.9h0M1212.9 2208.0h0M1213.7 2207.7h0M1214.4 2207.2h0M1215.2 2207.0h0M1215.9 2207.0h0M1216.7 2207.4h0M1217.4 2207.7h0M1218.2 2208.0h0M1218.9 2207.4h0M1219.7 2207.4h0M1220.4 2207.5h0M1221.2 2208.3h0M1222.0 2208.1h0M1222.7 2208.2h0M1223.5 2207.9h0M1224.2 2208.2h0M1225.0 2207.7h0M1225.7 2208.1h0M1226.5 2208.1h0M1227.2 2208.4h0M1228.0 2207.9h0M1228.7 2207.7h0M1229.5 2207.8h0M1230.3 2208.1h0M1231.0 2208.3h0M1231.8 2208.8h0M1232.5 2208.7h0M1233.3 2209.2h0M1234.0 2209.2h0M1234.8 2209.7h0M1235.5 2210.0h0M1236.3 2209.4h0M1237.0 2208.8h0M1237.8 2208.3h0M1238.6 2208.3h0M1239.3 2208.6h0M1240.1 2208.8h0M1240.8 2209.4h0M1241.6 2209.2h0M1242.3 2208.9h0M1243.1 2208.2h0M1243.8 2208.7h0M1244.6 2209.0h0M1245.3 2209.8h0M1246.1 2209.6h0" stroke="#000" stroke-width="7.8" stroke-linecap="round" fill="none"/>
<path d="M944.3 2224.2h0M945.1 2225.4h0M945.8 2226.4h0M946.6 2226.9h0M947.3 2226.5h0M948.1 2224.4h0M948.8 2222.0h0M949.6 2218.8h0M950.3 2216.0h0M951.1 2213.3h0M951.8 2211.3h0M952.6 2208.5h0M953.4 2205.1h0M954.1 2201.9h0M954.9 2198.6h0M955.6 2195.7h0M956.4 2193.1h0M957.1 2191.8h0M957.9 2191.1h0M958.6 2189.4h0M959.4 2187.0h0M960.1 2185.0h0M960.9 2183.7h0M961.7 2182.8h0M962.4 2181.6h0M963.2 2180.1h0M963.9 2178.8h0M964.7 2177.0h0M965.4 2175.4h0M966.2 2173.8h0M966.9 2172.1h0M967.7 2171.5h0M968.4 2169.7h0M969.2 2168.8h0M970.0 2166.3h0M970.7 2165.2h0M971.5 2164.1h0M972.2 2163.1h0M973.0 2162.3h0M973.7 2160.8h0M974.5 2160.3h0M975.2 2158.5h0M976.0 2157.7h0M976.7 2156.3h0M977.5 2155.8h0M978.3 2155.2h0M979.0 2155.2h0M979.8 2153.8h0M980.5 2152.6h0M981.3 2151.6h0M982.0 2151.4h0M982.8 2150.5h0M983.5 2149.9h0M984.3 2148.6h0M985.0 2148.3h0M985.8 2147.4h0M986.6 2147.2h0M987.3 2146.5h0M988.1 2146.2h0M988.8 2145.9h0M989.6 2145.3h0M990.3 2144.3h0M991.1 2144.3h0M991.8 2144.4h0M992.6 2144.1h0M993.3 2143.6h0M994.1 2143.5h0M994.9 2143.4h0M995.6 2142.8h0M996.4 2142.1h0M997.1 2141.2h0M997.9 2141.3h0M998.6 2140.8h0M999.4 2141.4h0M1000.1 2141.2h0M1000.9 2141.0h0M1001.6 2140.2h0M1002.4 2139.7h0M1003.2 2139.2h0M1003.9 2139.8h0M1004.7 2139.7h0M1005.4 2139.9h0M1006.2 2139.4h0M1006.9 2139.3h0M1007.7 2139.3h0M1008.4 2138.8h0M1009.2 2138.7h0M1009.9 2138.2h0M1010.7 2138.5h0M1011.5 2137.9h0M1012.2 2137.8h0M1013.0 2136.9h0M1013.7 2137.2h0M1014.5 2137.3h0M1015.2 2137.6h0M1016.0 2137.5h0M1016.7 2137.5h0M1017.5 2137.4h0M1018.2 2137.1h0M1019.0 2136.8h0M1019.8 2136.7h0M1020.5 2136.8h0M1021.3 2136.5h0M1022.0 2136.6h0M1022.8 2135.7h0M1023.5 2135.7h0M1024.3 2135.0h0M1025.0 2135.8h0M1025.8 2135.7h0M1026.5 2136.0h0M1027.3 2135.4h0M1028.0 2135.3h0M1028.8 2135.7h0M1029.6 2135.7h0M1030.3 2136.4h0M1031.1 2135.6h0M1031.8 2136.0h0M1032.6 2136.0h0M1033.3 2136.3h0M1034.1 2136.3h0M1034.8 2136.3h0M1035.6 2136.8h0M1036.3 2136.8h0M1037.1 2137.0h0M1037.9 2137.1h0M1038.6 2136.8h0M1039.4 2136.7h0M1040.1 2136.4h0M1040.9 2136.9h0M1041.6 2136.5h0M1042.4 2136.5h0M1043.1 2137.4h0M1043.9 2137.9h0M1044.6 2137.9h0M1045.4 2137.5h0M1046.2 2137.0h0M1046.9 2137.4h0M1047.7 2137.6h0M1048.4 2138.1h0M1049.2 2137.8h0M1049.9 2137.8h0M1050.7 2137.9h0M1051.4 2138.9h0M1052.2 2139.0h0M1052.9 2139.3h0M1053.7 2139.0h0M1054.5 2138.9h0M1055.2 2139.0h0M1056.0 2138.7h0M1056.7 2139.2h0M1057.5 2140.0h0M1058.2 2140.7h0M1059.0 2140.5h0M1059.7 2140.6h0M1060.5 2140.4h0M1061.2 2140.8h0M1062.0 2141.0h0M1062.8 2141.5h0M1063.5 2141.3h0M1064.3 2140.4h0M1065.0 2141.2h0M1065.8 2141.9h0M1066.5 2142.8h0M1067.3 2142.6h0M1068.0 2142.5h0M1068.8 2142.8h0M1069.5 2143.2h0M1070.3 2143.5h0M1071.1 2143.3h0M1071.8 2142.7h0M1072.6 2143.0h0M1073.3 2143.2h0M1074.1 2143.4h0M1074.8 2143.6h0M1075.6 2144.0h0M1076.3 2144.3h0M1077.1 2143.5h0M1077.8 2143.5h0M1078.6 2143.9h0M1079.4 2145.0h0M1080.1 2145.3h0M1080.9 2144.9h0M1081.6 2145.7h0M1082.4 2146.0h0M1083.1 2146.2h0M1083.9 2145.7h0M1084.6 2145.5h0M1085.4 2145.7h0M1086.1 2146.4h0M1086.9 2146.5h0M1087.7 2147.2h0M1088.4 2147.3h0M1089.2 2147.5h0M1089.9 2147.5h0M1090.7 2147.4h0M1091.4 2147.6h0M1092.2 2147.8h0M1092.9 2147.7h0M1093.7 2147.4h0M1094.4 2147.3h0M1095.2 2147.4h0M1096.0 2147.9h0M1096.7 2148.4h0M1097.5 2149.2h0M1098.2 2149.6h0M1099.0 2150.0h0M1099.7 2149.8h0M1100.5 2149.9h0M1101.2 2149.3h0M1102.0 2149.3h0M1102.7 2149.2h0M1103.5 2149.6h0M1104.3 2149.5h0M1105.0 2149.9h0M1105.8 2149.8h0M1106.5 2150.4h0M1107.3 2150.4h0M1108.0 2150.9h0M1108.8 2150.8h0M1109.5 2150.9h0M1110.3 2151.1h0M1111.0 2151.7h0M1111.8 2152.4h0M1112.6 2152.4h0M1113.3 2152.1h0M1114.1 2151.8h0M1114.8 2151.4h0M1115.6 2151.2h0M1116.3 2151.5h0M1117.1 2152.3h0M1117.8 2153.3h0M1118.6 2153.3h0M1119.3 2153.2h0M1120.1 2153.0h0M1120.9 2153.5h0M1121.6 2153.8h0M1122.4 2154.6h0M1123.1 2154.7h0M1123.9 2154.7h0M1124.6 2154.1h0M1125.4 2154.5h0M1126.1 2154.7h0M1126.9 2154.7h0M1127.6 2154.0h0M1128.4 2153.8h0M1129.2 2153.9h0M1129.9 2154.6h0M1130.7 2155.4h0M1131.4 2155.8h0M1132.2 2156.3h0M1132.9 2156.1h0M1133.7 2155.7h0M1134.4 2155.2h0M1135.2 2155.0h0M1135.9 2155.4h0M1136.7 2155.5h0M1137.5 2156.0h0M1138.2 2156.6h0M1139.0 2157.0h0M1139.7 2157.0h0M1140.5 2157.1h0M1141.2 2157.4h0M1142.0 2158.2h0M1142.7 2157.9h0M1143.5 2157.5h0M1144.2 2157.1h0M1145.0 2156.7h0M1145.8 2157.1h0M1146.5 2157.3h0M1147.3 2158.3h0M1148.0 2158.2h0M1148.8 2157.9h0M1149.5 2157.9h0M1150.3 2158.4h0M1151.0 2158.4h0M1151.8 2158.3h0M1152.5 2158.2h0M1153.3 2159.1h0M1154.1 2159.3h0M1154.8 2159.3h0M1155.6 2159.2h0M1156.3 2159.5h0M1157.1 2160.2h0M1157.8 2160.1h0M1158.6 2160.2h0M1159.3 2160.0h0M1160.1 2159.8h0M1160.8 2159.1h0M1161.6 2159.3h0M1162.4 2159.1h0M1163.1 2159.5h0M1163.9 2159.5h0M1164.6 2160.0h0M1165.4 2159.8h0M1166.1 2159.4h0M1166.9 2159.5h0M1167.6 2160.1h0M1168.4 2160.4h0M1169.1 2160.6h0M1169.9 2160.7h0M1170.6 2160.9h0M1171.4 2160.6h0M1172.2 2161.1h0M1172.9 2161.3h0M1173.7 2162.3h0M1174.4 2161.8h0M1175.2 2161.6h0M1175.9 2161.0h0M1176.7 2161.4h0M1177.4 2161.8h0M1178.2 2162.1h0M1178.9 2162.1h0M1179.7 2162.1h0M1180.5 2162.4h0M1181.2 2162.4h0M1182.0 2162.7h0M1182.7 2162.7h0M1183.5 2163.3h0M1184.2 2163.5h0M1185.0 2164.1h0M1185.7 2163.8h0M1186.5 2164.0h0M1187.2 2163.6h0M1188.0 2163.3h0M1188.8 2163.5h0M1189.5 2164.0h0M1190.3 2164.4h0M1191.0 2163.7h0M1191.8 2163.4h0M1192.5 2163.4h0M1193.3 2164.0h0M1194.0 2164.4h0M1194.8 2164.5h0M1195.5 2164.5h0M1196.3 2164.4h0M1197.1 2164.8h0M1197.8 2165.5h0M1198.6 2165.9h0M1199.3 2165.9h0M1200.1 2165.9h0M1200.8 2165.6h0M1201.6 2166.0h0M1202.3 2165.9h0M1203.1 2165.9h0M1203.8 2165.4h0M1204.6 2165.3h0M1205.4 2165.2h0M1206.1 2165.7h0M1206.9 2166.1h0M1207.6 2166.2h0M1208.4 2166.4h0M1209.1 2166.3h0M1209.9 2167.2h0M1210.6 2166.7h0M1211.4 2166.5h0M1212.1 2166.3h0M1212.9 2167.3h0M1213.7 2167.5h0M1214.4 2167.3h0M1215.2 2166.5h0M1215.9 2166.2h0M1216.7 2166.3h0M1217.4 2166.7h0M1218.2 2167.4h0M1218.9 2167.7h0M1219.7 2168.1h0M1220.4 2168.4h0M1221.2 2168.4h0M1222.0 2168.5h0M1222.7 2168.8h0M1223.5 2168.5h0M1224.2 2168.3h0M1225.0 2167.8h0M1225.7 2167.9h0M1226.5 2167.8h0M1227.2 2167.8h0M1228.0 2168.3h0M1228.7 2168.6h0M1229.5 2169.0h0M1230.3 2169.0h0M1231.0 2168.8h0M1231.8 2168.8h0M1232.5 2169.0h0M1233.3 2168.8h0M1234.0 2169.0h0M1234.8 2169.1h0M1235.5 2169.2h0M1236.3 2169.5h0M1237.0 2169.5h0M1237.8 2169.4h0M1238.6 2169.2h0M1239.3 2168.8h0M1240.1 2169.4h0M1240.8 2169.6h0M1241.6 2170.2h0M1242.3 2170.3h0M1243.1 2170.4h0M1243.8 2170.5h0M1244.6 2170.2h0M1245.3 2170.1h0M1246.1 2170.0h0" stroke="#F57E0A" stroke-width="7.8" stroke-linecap="round" fill="none"/>
<path d="M944.3 2225.0h0M945.1 2225.5h0M945.8 2226.2h0M946.6 2225.7h0M947.3 2226.1h0M948.1 2223.9h0M948.8 2220.7h0M949.6 2217.1h0M950.3 2213.6h0M951.1 2210.1h0M951.8 2205.4h0M952.6 2200.7h0M953.4 2197.3h0M954.1 2194.2h0M954.9 2191.6h0M955.6 2189.4h0M956.4 2187.2h0M957.1 2185.0h0M957.9 2183.4h0M958.6 2182.6h0M959.4 2181.7h0M960.1 2179.7h0M960.9 2177.7h0M961.7 2176.0h0M962.4 2174.8h0M963.2 2172.4h0M963.9 2170.4h0M964.7 2168.4h0M965.4 2167.0h0M966.2 2165.2h0M966.9 2162.1h0M967.7 2159.7h0M968.4 2157.2h0M969.2 2155.8h0M970.0 2153.3h0M970.7 2151.4h0M971.5 2149.7h0M972.2 2148.1h0M973.0 2145.6h0M973.7 2142.5h0M974.5 2140.5h0M975.2 2139.1h0M976.0 2138.2h0M976.7 2136.9h0M977.5 2135.4h0M978.3 2133.8h0M979.0 2132.1h0M979.8 2130.7h0M980.5 2129.1h0M981.3 2127.9h0M982.0 2126.4h0M982.8 2125.6h0M983.5 2124.2h0M984.3 2123.0h0M985.0 2121.5h0M985.8 2120.6h0M986.6 2119.4h0M987.3 2118.7h0M988.1 2117.3h0M988.8 2116.1h0M989.6 2114.4h0M990.3 2113.5h0M991.1 2112.9h0M991.8 2112.2h0M992.6 2110.7h0M993.3 2109.4h0M994.1 2107.8h0M994.9 2107.7h0M995.6 2106.2h0M996.4 2105.6h0M997.1 2103.9h0M997.9 2103.7h0M998.6 2102.8h0M999.4 2102.0h0M1000.1 2100.7h0M1000.9 2100.4h0M1001.6 2100.2h0M1002.4 2099.5h0M1003.2 2098.7h0M1003.9 2098.1h0M1004.7 2098.1h0M1005.4 2097.5h0M1006.2 2097.2h0M1006.9 2096.2h0M1007.7 2095.7h0M1008.4 2095.3h0M1009.2 2094.8h0M1009.9 2094.0h0M1010.7 2093.0h0M1011.5 2093.1h0M1012.2 2093.2h0M1013.0 2092.7h0M1013.7 2092.3h0M1014.5 2091.9h0M1015.2 2091.5h0M1016.0 2090.9h0M1016.7 2090.7h0M1017.5 2090.5h0M1018.2 2089.7h0M1019.0 2089.2h0M1019.8 2089.6h0M1020.5 2090.2h0M1021.3 2090.2h0M1022.0 2090.1h0M1022.8 2089.5h0M1023.5 2088.9h0M1024.3 2089.0h0M1025.0 2088.8h0M1025.8 2088.8h0M1026.5 2088.0h0M1027.3 2087.7h0M1028.0 2087.5h0M1028.8 2086.9h0M1029.6 2086.1h0M1030.3 2086.0h0M1031.1 2086.4h0M1031.8 2087.3h0M1032.6 2087.6h0M1033.3 2087.0h0M1034.1 2086.4h0M1034.8 2085.8h0M1035.6 2085.8h0M1036.3 2085.4h0M1037.1 2085.1h0M1037.9 2084.7h0M1038.6 2085.3h0M1039.4 2085.6h0M1040.1 2086.2h0M1040.9 2086.1h0M1041.6 2085.9h0M1042.4 2085.8h0M1043.1 2085.8h0M1043.9 2085.2h0M1044.6 2084.8h0M1045.4 2085.0h0M1046.2 2085.9h0M1046.9 2085.9h0M1047.7 2085.2h0M1048.4 2084.8h0M1049.2 2084.5h0M1049.9 2084.6h0M1050.7 2084.9h0M1051.4 2084.8h0M1052.2 2085.0h0M1052.9 2084.1h0M1053.7 2084.6h0M1054.5 2084.5h0M1055.2 2085.2h0M1056.0 2085.1h0M1056.7 2084.9h0M1057.5 2084.8h0M1058.2 2084.4h0M1059.0 2084.5h0M1059.7 2084.0h0M1060.5 2084.4h0M1061.2 2084.2h0M1062.0 2084.4h0M1062.8 2084.6h0M1063.5 2084.3h0M1064.3 2084.3h0M1065.0 2084.2h0M1065.8 2085.1h0M1066.5 2085.7h0M1067.3 2086.0h0M1068.0 2085.9h0M1068.8 2086.3h0M1069.5 2086.4h0M1070.3 2086.7h0M1071.1 2086.0h0M1071.8 2085.9h0M1072.6 2085.3h0M1073.3 2085.2h0M1074.1 2085.4h0M1074.8 2085.4h0M1075.6 2086.1h0M1076.3 2086.1h0M1077.1 2087.1h0M1077.8 2087.3h0M1078.6 2087.1h0M1079.4 2086.8h0M1080.1 2087.1h0M1080.9 2087.6h0M1081.6 2088.0h0M1082.4 2088.2h0M1083.1 2088.8h0M1083.9 2088.4h0M1084.6 2088.0h0M1085.4 2087.7h0M1086.1 2088.5h0M1086.9 2089.0h0M1087.7 2088.5h0M1088.4 2088.7h0M1089.2 2088.9h0M1089.9 2089.7h0M1090.7 2089.2h0M1091.4 2089.5h0M1092.2 2089.5h0M1092.9 2090.0h0M1093.7 2089.9h0M1094.4 2090.5h0M1095.2 2090.2h0M1096.0 2090.4h0M1096.7 2090.3h0M1097.5 2090.3h0M1098.2 2090.2h0M1099.0 2089.5h0M1099.7 2089.8h0M1100.5 2090.0h0M1101.2 2090.8h0M1102.0 2090.3h0M1102.7 2090.1h0M1103.5 2090.3h0M1104.3 2091.2h0M1105.0 2091.8h0M1105.8 2091.7h0M1106.5 2092.1h0M1107.3 2092.3h0M1108.0 2092.5h0M1108.8 2092.1h0M1109.5 2091.9h0M1110.3 2092.0h0M1111.0 2092.5h0M1111.8 2093.6h0M1112.6 2094.0h0M1113.3 2094.2h0M1114.1 2093.5h0M1114.8 2093.2h0M1115.6 2093.0h0M1116.3 2093.9h0M1117.1 2094.5h0M1117.8 2094.9h0M1118.6 2094.4h0M1119.3 2094.6h0M1120.1 2095.2h0M1120.9 2095.8h0M1121.6 2096.1h0M1122.4 2096.2h0M1123.1 2096.2h0M1123.9 2096.3h0M1124.6 2095.6h0M1125.4 2095.7h0M1126.1 2095.9h0M1126.9 2096.4h0M1127.6 2096.5h0M1128.4 2096.2h0M1129.2 2096.6h0M1129.9 2097.3h0M1130.7 2097.0h0M1131.4 2096.6h0M1132.2 2096.1h0M1132.9 2096.3h0M1133.7 2097.0h0M1134.4 2097.3h0M1135.2 2098.3h0M1135.9 2098.0h0M1136.7 2098.0h0M1137.5 2097.8h0M1138.2 2098.1h0M1139.0 2097.8h0M1139.7 2098.0h0M1140.5 2098.5h0M1141.2 2099.0h0M1142.0 2099.6h0M1142.7 2099.2h0M1143.5 2099.4h0M1144.2 2098.5h0M1145.0 2098.7h0M1145.8 2099.3h0M1146.5 2100.0h0M1147.3 2100.4h0M1148.0 2099.5h0M1148.8 2099.5h0M1149.5 2098.8h0M1150.3 2099.6h0M1151.0 2100.2h0M1151.8 2100.7h0M1152.5 2101.1h0M1153.3 2101.3h0M1154.1 2101.7h0M1154.8 2101.5h0M1155.6 2101.8h0M1156.3 2102.3h0M1157.1 2102.0h0M1157.8 2101.8h0M1158.6 2101.4h0M1159.3 2101.8h0M1160.1 2101.6h0M1160.8 2101.9h0M1161.6 2102.3h0M1162.4 2102.1h0M1163.1 2101.7h0M1163.9 2101.5h0M1164.6 2101.6h0M1165.4 2102.7h0M1166.1 2103.0h0M1166.9 2103.7h0M1167.6 2103.8h0M1168.4 2103.9h0M1169.1 2103.8h0M1169.9 2103.3h0M1170.6 2104.1h0M1171.4 2104.4h0M1172.2 2104.6h0M1172.9 2104.3h0M1173.7 2104.3h0M1174.4 2104.3h0M1175.2 2104.0h0M1175.9 2104.1h0M1176.7 2103.6h0M1177.4 2104.1h0M1178.2 2104.2h0M1178.9 2104.9h0M1179.7 2105.1h0M1180.5 2105.4h0M1181.2 2105.4h0M1182.0 2106.2h0M1182.7 2106.7h0M1183.5 2106.6h0M1184.2 2105.9h0M1185.0 2105.4h0M1185.7 2106.0h0M1186.5 2106.3h0M1187.2 2106.8h0M1188.0 2107.1h0M1188.8 2107.6h0M1189.5 2107.2h0M1190.3 2107.0h0M1191.0 2106.8h0M1191.8 2107.1h0M1192.5 2107.5h0M1193.3 2108.0h0M1194.0 2107.8h0M1194.8 2107.7h0M1195.5 2107.5h0M1196.3 2108.0h0M1197.1 2107.9h0M1197.8 2107.7h0M1198.6 2107.8h0M1199.3 2108.0h0M1200.1 2108.6h0M1200.8 2108.5h0M1201.6 2108.6h0M1202.3 2108.4h0M1203.1 2109.3h0M1203.8 2109.5h0M1204.6 2109.7h0M1205.4 2109.2h0M1206.1 2110.2h0M1206.9 2111.1h0M1207.6 2111.4h0M1208.4 2111.0h0M1209.1 2110.5h0M1209.9 2110.7h0M1210.6 2110.3h0M1211.4 2110.7h0M1212.1 2111.1h0M1212.9 2111.3h0M1213.7 2111.4h0M1214.4 2111.5h0M1215.2 2112.4h0M1215.9 2111.5h0M1216.7 2111.4h0M1217.4 2111.0h0M1218.2 2112.6h0M1218.9 2112.9h0M1219.7 2113.0h0M1220.4 2112.4h0M1221.2 2112.0h0M1222.0 2112.3h0M1222.7 2112.4h0M1223.5 2112.4h0M1224.2 2112.4h0M1225.0 2112.7h0M1225.7 2113.7h0M1226.5 2113.9h0M1227.2 2114.4h0M1228.0 2113.8h0M1228.7 2113.7h0M1229.5 2112.9h0M1230.3 2113.2h0M1231.0 2113.0h0M1231.8 2113.4h0M1232.5 2113.5h0M1233.3 2114.2h0M1234.0 2114.0h0M1234.8 2114.2h0M1235.5 2114.5h0M1236.3 2115.3h0M1237.0 2115.7h0M1237.8 2114.9h0M1238.6 2114.5h0M1239.3 2113.8h0M1240.1 2113.7h0M1240.8 2114.3h0M1241.6 2115.4h0M1242.3 2116.4h0M1243.1 2116.2h0M1243.8 2116.5h0M1244.6 2116.5h0M1245.3 2116.5h0M1246.1 2115.8h0" stroke="#A23FC6" stroke-width="7.8" stroke-linecap="round" fill="none"/>
<path d="M944.3 2225.0h0M945.1 2226.8h0M945.8 2226.6h0M946.6 2226.1h0M947.3 2225.2h0M948.1 2223.5h0M948.8 2220.5h0M949.6 2216.1h0M950.3 2212.0h0M951.1 2207.9h0M951.8 2203.2h0M952.6 2198.5h0M953.4 2194.3h0M954.1 2191.4h0M954.9 2188.8h0M955.6 2186.5h0M956.4 2183.2h0M957.1 2180.3h0M957.9 2177.6h0M958.6 2175.5h0M959.4 2173.0h0M960.1 2170.2h0M960.9 2168.6h0M961.7 2166.6h0M962.4 2164.7h0M963.2 2161.8h0M963.9 2159.5h0M964.7 2157.7h0M965.4 2155.3h0M966.2 2152.7h0M966.9 2149.5h0M967.7 2146.3h0M968.4 2143.1h0M969.2 2140.7h0M970.0 2138.4h0M970.7 2135.8h0M971.5 2132.4h0M972.2 2129.6h0M973.0 2127.0h0M973.7 2125.3h0M974.5 2123.0h0M975.2 2121.0h0M976.0 2118.3h0M976.7 2116.1h0M977.5 2114.1h0M978.3 2112.4h0M979.0 2110.3h0M979.8 2108.3h0M980.5 2105.7h0M981.3 2103.9h0M982.0 2101.9h0M982.8 2100.2h0M983.5 2098.8h0M984.3 2096.7h0M985.0 2095.5h0M985.8 2093.2h0M986.6 2092.0h0M987.3 2090.4h0M988.1 2089.5h0M988.8 2087.6h0M989.6 2085.5h0M990.3 2083.8h0M991.1 2081.7h0M991.8 2080.2h0M992.6 2078.6h0M993.3 2077.0h0M994.1 2075.5h0M994.9 2073.3h0M995.6 2073.2h0M996.4 2071.0h0M997.1 2070.0h0M997.9 2067.8h0M998.6 2066.9h0M999.4 2066.0h0M1000.1 2064.5h0M1000.9 2063.2h0M1001.6 2061.5h0M1002.4 2060.7h0M1003.2 2060.0h0M1003.9 2058.8h0M1004.7 2057.2h0M1005.4 2055.7h0M1006.2 2054.7h0M1006.9 2054.0h0M1007.7 2052.8h0M1008.4 2051.2h0M1009.2 2050.1h0M1009.9 2049.5h0M1010.7 2048.3h0M1011.5 2047.7h0M1012.2 2046.5h0M1013.0 2046.4h0M1013.7 2044.7h0M1014.5 2044.1h0M1015.2 2043.8h0M1016.0 2043.7h0M1016.7 2042.9h0M1017.5 2041.7h0M1018.2 2040.9h0M1019.0 2040.4h0M1019.8 2040.2h0M1020.5 2039.8h0M1021.3 2039.2h0M1022.0 2038.3h0M1022.8 2037.4h0M1023.5 2037.0h0M1024.3 2035.8h0M1025.0 2035.7h0M1025.8 2034.6h0M1026.5 2034.5h0M1027.3 2033.0h0M1028.0 2032.5h0M1028.8 2032.6h0M1029.6 2032.6h0M1030.3 2032.4h0M1031.1 2031.3h0M1031.8 2030.9h0M1032.6 2031.0h0M1033.3 2030.5h0M1034.1 2030.4h0M1034.8 2030.0h0M1035.6 2030.1h0M1036.3 2029.9h0M1037.1 2029.6h0M1037.9 2029.4h0M1038.6 2028.2h0M1039.4 2027.7h0M1040.1 2027.5h0M1040.9 2028.2h0M1041.6 2027.9h0M1042.4 2028.1h0M1043.1 2027.6h0M1043.9 2027.5h0M1044.6 2026.9h0M1045.4 2026.7h0M1046.2 2026.7h0M1046.9 2026.3h0M1047.7 2026.1h0M1048.4 2025.7h0M1049.2 2025.7h0M1049.9 2025.4h0M1050.7 2025.5h0M1051.4 2024.9h0M1052.2 2025.0h0M1052.9 2024.4h0M1053.7 2024.6h0M1054.5 2024.4h0M1055.2 2024.9h0M1056.0 2024.6h0M1056.7 2024.4h0M1057.5 2023.9h0M1058.2 2023.9h0M1059.0 2023.8h0M1059.7 2024.0h0M1060.5 2024.3h0M1061.2 2024.0h0M1062.0 2023.6h0M1062.8 2022.7h0M1063.5 2022.2h0M1064.3 2021.9h0M1065.0 2022.1h0M1065.8 2022.5h0M1066.5 2022.6h0M1067.3 2022.9h0M1068.0 2023.8h0M1068.8 2023.6h0M1069.5 2023.2h0M1070.3 2022.4h0M1071.1 2022.5h0M1071.8 2022.4h0M1072.6 2022.1h0M1073.3 2022.1h0M1074.1 2022.4h0M1074.8 2022.5h0M1075.6 2022.3h0M1076.3 2021.5h0M1077.1 2021.9h0M1077.8 2022.0h0M1078.6 2022.9h0M1079.4 2022.7h0M1080.1 2022.2h0M1080.9 2022.0h0M1081.6 2021.9h0M1082.4 2022.7h0M1083.1 2022.4h0M1083.9 2022.4h0M1084.6 2022.7h0M1085.4 2022.9h0M1086.1 2022.5h0M1086.9 2022.1h0M1087.7 2022.0h0M1088.4 2022.5h0M1089.2 2022.7h0M1089.9 2022.8h0M1090.7 2022.9h0M1091.4 2022.7h0M1092.2 2023.0h0M1092.9 2022.7h0M1093.7 2022.4h0M1094.4 2022.1h0M1095.2 2021.7h0M1096.0 2021.8h0M1096.7 2021.9h0M1097.5 2022.4h0M1098.2 2022.5h0M1099.0 2022.9h0M1099.7 2022.4h0M1100.5 2022.9h0M1101.2 2023.0h0M1102.0 2023.6h0M1102.7 2023.8h0M1103.5 2023.5h0M1104.3 2023.6h0M1105.0 2023.3h0M1105.8 2023.3h0M1106.5 2023.9h0M1107.3 2024.0h0M1108.0 2024.3h0M1108.8 2023.5h0M1109.5 2023.6h0M1110.3 2024.1h0M1111.0 2024.3h0M1111.8 2024.3h0M1112.6 2023.7h0M1113.3 2023.5h0M1114.1 2024.1h0M1114.8 2024.6h0M1115.6 2025.3h0M1116.3 2025.8h0M1117.1 2026.2h0M1117.8 2026.1h0M1118.6 2026.7h0M1119.3 2026.8h0M1120.1 2027.6h0M1120.9 2026.6h0M1121.6 2027.2h0M1122.4 2027.1h0M1123.1 2027.3h0M1123.9 2027.7h0M1124.6 2027.3h0M1125.4 2028.1h0M1126.1 2028.4h0M1126.9 2029.5h0M1127.6 2029.2h0M1128.4 2029.2h0M1129.2 2028.8h0M1129.9 2028.8h0M1130.7 2028.7h0M1131.4 2028.8h0M1132.2 2029.0h0M1132.9 2029.4h0M1133.7 2030.1h0M1134.4 2030.8h0M1135.2 2030.7h0M1135.9 2030.8h0M1136.7 2031.0h0M1137.5 2031.6h0M1138.2 2031.7h0M1139.0 2031.5h0M1139.7 2031.5h0M1140.5 2031.9h0M1141.2 2031.9h0M1142.0 2032.7h0M1142.7 2032.6h0M1143.5 2032.6h0M1144.2 2032.1h0M1145.0 2031.8h0M1145.8 2032.2h0M1146.5 2032.3h0M1147.3 2032.8h0M1148.0 2033.1h0M1148.8 2033.3h0M1149.5 2033.2h0M1150.3 2033.8h0M1151.0 2034.3h0M1151.8 2035.4h0M1152.5 2035.3h0M1153.3 2035.6h0M1154.1 2035.3h0M1154.8 2035.2h0M1155.6 2034.8h0M1156.3 2034.4h0M1157.1 2034.7h0M1157.8 2035.3h0M1158.6 2035.7h0M1159.3 2035.8h0M1160.1 2035.9h0M1160.8 2036.8h0M1161.6 2036.6h0M1162.4 2036.6h0M1163.1 2036.5h0M1163.9 2037.2h0M1164.6 2037.8h0M1165.4 2037.5h0M1166.1 2037.5h0M1166.9 2037.7h0M1167.6 2038.1h0M1168.4 2037.8h0M1169.1 2037.3h0M1169.9 2037.0h0M1170.6 2037.4h0M1171.4 2037.8h0M1172.2 2038.3h0M1172.9 2038.3h0M1173.7 2038.3h0M1174.4 2038.9h0M1175.2 2039.4h0M1175.9 2039.9h0M1176.7 2039.6h0M1177.4 2039.7h0M1178.2 2040.0h0M1178.9 2040.0h0M1179.7 2039.6h0M1180.5 2039.8h0M1181.2 2040.3h0M1182.0 2040.6h0M1182.7 2040.6h0M1183.5 2040.5h0M1184.2 2041.4h0M1185.0 2041.5h0M1185.7 2041.7h0M1186.5 2041.1h0M1187.2 2040.9h0M1188.0 2041.7h0M1188.8 2042.8h0M1189.5 2043.5h0M1190.3 2042.9h0M1191.0 2042.5h0M1191.8 2042.1h0M1192.5 2042.3h0M1193.3 2042.8h0M1194.0 2043.4h0M1194.8 2044.0h0M1195.5 2043.8h0M1196.3 2044.2h0M1197.1 2044.1h0M1197.8 2044.5h0M1198.6 2043.9h0M1199.3 2044.3h0M1200.1 2044.4h0M1200.8 2045.3h0M1201.6 2044.9h0M1202.3 2045.3h0M1203.1 2045.2h0M1203.8 2046.0h0M1204.6 2046.2h0M1205.4 2046.5h0M1206.1 2046.5h0M1206.9 2046.2h0M1207.6 2046.4h0M1208.4 2046.3h0M1209.1 2046.6h0M1209.9 2046.8h0M1210.6 2047.6h0M1211.4 2047.9h0M1212.1 2048.2h0M1212.9 2047.9h0M1213.7 2048.2h0M1214.4 2047.8h0M1215.2 2047.8h0M1215.9 2048.1h0M1216.7 2048.1h0M1217.4 2048.1h0M1218.2 2047.5h0M1218.9 2048.2h0M1219.7 2048.4h0M1220.4 2049.1h0M1221.2 2048.9h0M1222.0 2048.9h0M1222.7 2049.0h0M1223.5 2048.8h0M1224.2 2049.0h0M1225.0 2049.0h0M1225.7 2049.7h0M1226.5 2050.0h0M1227.2 2050.0h0M1228.0 2050.7h0M1228.7 2050.4h0M1229.5 2051.2h0M1230.3 2050.9h0M1231.0 2051.3h0M1231.8 2051.1h0M1232.5 2051.3h0M1233.3 2051.1h0M1234.0 2050.5h0M1234.8 2050.1h0M1235.5 2050.6h0M1236.3 2051.6h0M1237.0 2052.2h0M1237.8 2052.1h0M1238.6 2051.7h0M1239.3 2051.3h0M1240.1 2051.5h0M1240.8 2051.5h0M1241.6 2052.1h0M1242.3 2052.8h0M1243.1 2053.6h0M1243.8 2053.5h0M1244.6 2053.5h0M1245.3 2053.3h0M1246.1 2053.4h0" stroke="#3CB521" stroke-width="7.8" stroke-linecap="round" fill="none"/>
<path d="M944.3 2225.0h0M945.1 2226.4h0M945.8 2226.6h0M946.6 2227.5h0M947.3 2226.7h0M948.1 2224.2h0M948.8 2219.4h0M949.6 2215.3h0M950.3 2211.1h0M951.1 2207.5h0M951.8 2202.9h0M952.6 2198.3h0M953.4 2194.5h0M954.1 2191.2h0M954.9 2188.4h0M955.6 2185.2h0M956.4 2182.5h0M957.1 2179.8h0M957.9 2177.9h0M958.6 2175.4h0M959.4 2172.9h0M960.1 2169.8h0M960.9 2167.5h0M961.7 2165.5h0M962.4 2163.1h0M963.2 2160.1h0M963.9 2157.1h0M964.7 2154.3h0M965.4 2151.5h0M966.2 2148.3h0M966.9 2145.4h0M967.7 2142.7h0M968.4 2139.5h0M969.2 2136.2h0M970.0 2132.4h0M970.7 2129.7h0M971.5 2126.7h0M972.2 2123.3h0M973.0 2120.2h0M973.7 2117.4h0M974.5 2115.2h0M975.2 2112.6h0M976.0 2109.8h0M976.7 2107.3h0M977.5 2105.3h0M978.3 2103.1h0M979.0 2100.9h0M979.8 2098.3h0M980.5 2096.1h0M981.3 2094.4h0M982.0 2093.2h0M982.8 2090.8h0M983.5 2089.0h0M984.3 2086.6h0M985.0 2085.1h0M985.8 2082.7h0M986.6 2080.7h0M987.3 2079.0h0M988.1 2077.2h0M988.8 2074.6h0M989.6 2071.8h0M990.3 2069.9h0M991.1 2068.4h0M991.8 2067.7h0M992.6 2065.7h0M993.3 2063.8h0M994.1 2061.6h0M994.9 2059.3h0M995.6 2057.4h0M996.4 2055.4h0M997.1 2054.9h0M997.9 2053.7h0M998.6 2052.0h0M999.4 2049.7h0M1000.1 2048.5h0M1000.9 2047.3h0M1001.6 2045.2h0M1002.4 2042.9h0M1003.2 2041.0h0M1003.9 2039.9h0M1004.7 2038.1h0M1005.4 2037.7h0M1006.2 2036.6h0M1006.9 2035.1h0M1007.7 2032.6h0M1008.4 2030.8h0M1009.2 2030.2h0M1009.9 2029.7h0M1010.7 2028.6h0M1011.5 2027.3h0M1012.2 2025.9h0M1013.0 2024.2h0M1013.7 2022.8h0M1014.5 2021.6h0M1015.2 2020.7h0M1016.0 2020.0h0M1016.7 2018.9h0M1017.5 2018.3h0M1018.2 2016.7h0M1019.0 2016.3h0M1019.8 2015.3h0M1020.5 2014.8h0M1021.3 2013.3h0M1022.0 2012.9h0M1022.8 2012.6h0M1023.5 2012.2h0M1024.3 2011.2h0M1025.0 2010.4h0M1025.8 2009.7h0M1026.5 2008.8h0M1027.3 2007.6h0M1028.0 2007.4h0M1028.8 2006.4h0M1029.6 2006.2h0M1030.3 2004.9h0M1031.1 2004.7h0M1031.8 2003.3h0M1032.6 2003.4h0M1033.3 2002.4h0M1034.1 2002.7h0M1034.8 2001.7h0M1035.6 2001.1h0M1036.3 2000.5h0M1037.1 1999.6h0M1037.9 1999.1h0M1038.6 1998.8h0M1039.4 1998.0h0M1040.1 1997.6h0M1040.9 1997.1h0M1041.6 1997.2h0M1042.4 1997.4h0M1043.1 1996.8h0M1043.9 1996.3h0M1044.6 1995.4h0M1045.4 1995.0h0M1046.2 1995.1h0M1046.9 1995.2h0M1047.7 1995.1h0M1048.4 1994.7h0M1049.2 1994.0h0M1049.9 1993.6h0M1050.7 1993.3h0M1051.4 1993.5h0M1052.2 1992.8h0M1052.9 1992.4h0M1053.7 1992.2h0M1054.5 1991.7h0M1055.2 1991.0h0M1056.0 1990.3h0M1056.7 1990.4h0M1057.5 1990.4h0M1058.2 1990.4h0M1059.0 1989.7h0M1059.7 1989.1h0M1060.5 1988.2h0M1061.2 1988.2h0M1062.0 1988.3h0M1062.8 1988.2h0M1063.5 1987.6h0M1064.3 1987.6h0M1065.0 1987.6h0M1065.8 1988.1h0M1066.5 1988.0h0M1067.3 1987.7h0M1068.0 1987.0h0M1068.8 1986.8h0M1069.5 1986.5h0M1070.3 1986.5h0M1071.1 1985.9h0M1071.8 1985.7h0M1072.6 1985.9h0M1073.3 1985.5h0M1074.1 1985.8h0M1074.8 1985.4h0M1075.6 1986.1h0M1076.3 1985.6h0M1077.1 1985.7h0M1077.8 1985.3h0M1078.6 1985.7h0M1079.4 1985.6h0M1080.1 1984.9h0M1080.9 1984.4h0M1081.6 1984.4h0M1082.4 1984.9h0M1083.1 1985.2h0M1083.9 1985.1h0M1084.6 1985.3h0M1085.4 1985.0h0M1086.1 1984.5h0M1086.9 1984.0h0M1087.7 1983.9h0M1088.4 1984.3h0M1089.2 1984.0h0M1089.9 1983.7h0M1090.7 1983.0h0M1091.4 1983.4h0M1092.2 1983.8h0M1092.9 1984.3h0M1093.7 1984.4h0M1094.4 1984.1h0M1095.2 1984.0h0M1096.0 1983.9h0M1096.7 1983.8h0M1097.5 1983.4h0M1098.2 1982.9h0M1099.0 1983.1h0M1099.7 1983.3h0M1100.5 1983.4h0M1101.2 1983.0h0M1102.0 1983.1h0M1102.7 1983.6h0M1103.5 1983.6h0M1104.3 1983.8h0M1105.0 1983.5h0M1105.8 1983.7h0M1106.5 1983.1h0M1107.3 1983.1h0M1108.0 1983.0h0M1108.8 1983.3h0M1109.5 1983.3h0M1110.3 1983.1h0M1111.0 1983.2h0M1111.8 1982.9h0M1112.6 1983.0h0M1113.3 1983.4h0M1114.1 1984.0h0M1114.8 1985.0h0M1115.6 1984.3h0M1116.3 1983.8h0M1117.1 1983.0h0M1117.8 1983.3h0M1118.6 1983.4h0M1119.3 1983.4h0M1120.1 1983.3h0M1120.9 1983.2h0M1121.6 1983.2h0M1122.4 1982.8h0M1123.1 1982.5h0M1123.9 1982.3h0M1124.6 1982.1h0M1125.4 1981.7h0M1126.1 1981.2h0M1126.9 1981.4h0M1127.6 1982.3h0M1128.4 1982.7h0M1129.2 1983.4h0M1129.9 1983.3h0M1130.7 1982.9h0M1131.4 1982.5h0M1132.2 1982.8h0M1132.9 1982.6h0M1133.7 1981.9h0M1134.4 1980.9h0M1135.2 1981.8h0M1135.9 1982.1h0M1136.7 1982.7h0M1137.5 1982.2h0M1138.2 1982.2h0M1139.0 1981.5h0M1139.7 1981.6h0M1140.5 1981.9h0M1141.2 1982.7h0M1142.0 1982.5h0M1142.7 1982.7h0M1143.5 1982.4h0M1144.2 1982.2h0M1145.0 1982.0h0M1145.8 1981.8h0M1146.5 1982.0h0M1147.3 1981.8h0M1148.0 1981.5h0M1148.8 1981.9h0M1149.5 1982.6h0M1150.3 1982.9h0M1151.0 1982.5h0M1151.8 1981.7h0M1152.5 1981.7h0M1153.3 1981.5h0M1154.1 1981.8h0M1154.8 1982.3h0M1155.6 1982.6h0M1156.3 1983.1h0M1157.1 1983.2h0M1157.8 1983.5h0M1158.6 1983.4h0M1159.3 1983.0h0M1160.1 1983.4h0M1160.8 1982.9h0M1161.6 1983.6h0M1162.4 1983.4h0M1163.1 1984.1h0M1163.9 1983.6h0M1164.6 1984.1h0M1165.4 1983.8h0M1166.1 1985.3h0M1166.9 1985.4h0M1167.6 1985.3h0M1168.4 1984.5h0M1169.1 1984.4h0M1169.9 1984.7h0M1170.6 1984.2h0M1171.4 1984.7h0M1172.2 1985.1h0M1172.9 1986.0h0M1173.7 1985.6h0M1174.4 1985.9h0M1175.2 1986.4h0M1175.9 1987.1h0M1176.7 1986.8h0M1177.4 1986.4h0M1178.2 1985.9h0M1178.9 1986.6h0M1179.7 1987.0h0M1180.5 1987.5h0M1181.2 1986.9h0M1182.0 1986.7h0M1182.7 1986.6h0M1183.5 1987.3h0M1184.2 1987.4h0M1185.0 1987.6h0M1185.7 1987.2h0M1186.5 1986.8h0M1187.2 1986.8h0M1188.0 1987.4h0M1188.8 1987.4h0M1189.5 1987.3h0M1190.3 1986.9h0M1191.0 1987.7h0M1191.8 1987.9h0M1192.5 1988.1h0M1193.3 1988.2h0M1194.0 1988.8h0M1194.8 1989.1h0M1195.5 1989.3h0M1196.3 1988.9h0M1197.1 1988.8h0M1197.8 1988.7h0M1198.6 1989.4h0M1199.3 1989.8h0M1200.1 1990.2h0M1200.8 1989.7h0M1201.6 1989.6h0M1202.3 1989.0h0M1203.1 1989.2h0M1203.8 1989.3h0M1204.6 1990.4h0M1205.4 1989.9h0M1206.1 1989.9h0M1206.9 1989.6h0M1207.6 1990.4h0M1208.4 1990.5h0M1209.1 1990.6h0M1209.9 1990.2h0M1210.6 1990.6h0M1211.4 1990.7h0M1212.1 1991.3h0M1212.9 1991.0h0M1213.7 1990.9h0M1214.4 1990.5h0M1215.2 1990.6h0M1215.9 1990.7h0M1216.7 1991.0h0M1217.4 1991.0h0M1218.2 1991.1h0M1218.9 1991.1h0M1219.7 1992.0h0M1220.4 1992.3h0M1221.2 1992.7h0M1222.0 1992.9h0M1222.7 1992.4h0M1223.5 1991.9h0M1224.2 1991.2h0M1225.0 1991.5h0M1225.7 1991.6h0M1226.5 1992.5h0M1227.2 1992.4h0M1228.0 1993.5h0M1228.7 1993.0h0M1229.5 1993.5h0M1230.3 1992.8h0M1231.0 1992.8h0M1231.8 1992.7h0M1232.5 1993.2h0M1233.3 1993.6h0M1234.0 1994.2h0M1234.8 1994.0h0M1235.5 1994.0h0M1236.3 1994.3h0M1237.0 1994.2h0M1237.8 1994.5h0M1238.6 1994.3h0M1239.3 1994.9h0M1240.1 1994.8h0M1240.8 1994.6h0M1241.6 1994.7h0M1242.3 1995.0h0M1243.1 1995.4h0M1243.8 1995.6h0M1244.6 1995.8h0M1245.3 1995.4h0M1246.1 1995.2h0" stroke="#E0301E" stroke-width="7.8" stroke-linecap="round" fill="none"/>
<path d="M944.3 2224.8h0M945.1 2226.0h0M945.8 2226.4h0M946.6 2226.4h0M947.3 2225.6h0M948.1 2223.3h0M948.8 2218.7h0M949.6 2215.3h0M950.3 2211.0h0M951.1 2207.4h0M951.8 2202.1h0M952.6 2197.8h0M953.4 2194.5h0M954.1 2191.1h0M954.9 2188.1h0M955.6 2184.0h0M956.4 2180.6h0M957.1 2177.3h0M957.9 2174.8h0M958.6 2172.0h0M959.4 2169.6h0M960.1 2166.3h0M960.9 2163.7h0M961.7 2160.7h0M962.4 2158.0h0M963.2 2155.5h0M963.9 2152.5h0M964.7 2149.8h0M965.4 2145.9h0M966.2 2142.1h0M966.9 2138.8h0M967.7 2136.3h0M968.4 2133.2h0M969.2 2129.5h0M970.0 2125.7h0M970.7 2121.7h0M971.5 2118.3h0M972.2 2115.1h0M973.0 2112.7h0M973.7 2109.5h0M974.5 2106.0h0M975.2 2103.1h0M976.0 2101.0h0M976.7 2099.2h0M977.5 2096.5h0M978.3 2094.4h0M979.0 2092.1h0M979.8 2090.3h0M980.5 2087.7h0M981.3 2085.7h0M982.0 2084.3h0M982.8 2082.4h0M983.5 2080.3h0M984.3 2078.1h0M985.0 2075.9h0M985.8 2074.0h0M986.6 2071.7h0M987.3 2069.9h0M988.1 2067.6h0M988.8 2066.0h0M989.6 2063.4h0M990.3 2061.2h0M991.1 2058.8h0M991.8 2057.5h0M992.6 2055.7h0M993.3 2054.6h0M994.1 2052.4h0M994.9 2050.4h0M995.6 2047.8h0M996.4 2045.7h0M997.1 2043.7h0M997.9 2041.1h0M998.6 2039.4h0M999.4 2038.4h0M1000.1 2038.0h0M1000.9 2036.5h0M1001.6 2034.4h0M1002.4 2031.9h0M1003.2 2030.5h0M1003.9 2029.6h0M1004.7 2028.8h0M1005.4 2027.6h0M1006.2 2026.1h0M1006.9 2024.5h0M1007.7 2023.2h0M1008.4 2021.5h0M1009.2 2020.5h0M1009.9 2019.3h0M1010.7 2018.5h0M1011.5 2017.2h0M1012.2 2016.4h0M1013.0 2016.2h0M1013.7 2015.8h0M1014.5 2014.5h0M1015.2 2012.9h0M1016.0 2011.5h0M1016.7 2010.4h0M1017.5 2009.3h0M1018.2 2008.7h0M1019.0 2007.3h0M1019.8 2006.0h0M1020.5 2004.7h0M1021.3 2004.6h0M1022.0 2004.5h0M1022.8 2004.3h0M1023.5 2003.4h0M1024.3 2003.0h0M1025.0 2001.8h0M1025.8 2001.2h0M1026.5 1999.7h0M1027.3 1999.2h0M1028.0 1998.4h0M1028.8 1998.4h0M1029.6 1997.1h0M1030.3 1996.3h0M1031.1 1996.0h0M1031.8 1996.1h0M1032.6 1995.8h0M1033.3 1995.0h0M1034.1 1994.0h0M1034.8 1993.5h0M1035.6 1993.1h0M1036.3 1992.8h0M1037.1 1992.2h0M1037.9 1991.4h0M1038.6 1990.8h0M1039.4 1990.4h0M1040.1 1990.0h0M1040.9 1989.2h0M1041.6 1989.2h0M1042.4 1988.6h0M1043.1 1988.7h0M1043.9 1987.8h0M1044.6 1987.3h0M1045.4 1986.6h0M1046.2 1986.1h0M1046.9 1985.7h0M1047.7 1985.3h0M1048.4 1985.2h0M1049.2 1984.8h0M1049.9 1984.3h0M1050.7 1983.6h0M1051.4 1983.4h0M1052.2 1983.2h0M1052.9 1983.6h0M1053.7 1983.6h0M1054.5 1983.3h0M1055.2 1982.1h0M1056.0 1981.2h0M1056.7 1980.8h0M1057.5 1981.0h0M1058.2 1980.9h0M1059.0 1980.3h0M1059.7 1979.5h0M1060.5 1979.5h0M1061.2 1979.8h0M1062.0 1980.0h0M1062.8 1979.8h0M1063.5 1978.9h0M1064.3 1978.3h0M1065.0 1977.1h0M1065.8 1976.6h0M1066.5 1976.1h0M1067.3 1976.7h0M1068.0 1976.7h0M1068.8 1976.6h0M1069.5 1976.6h0M1070.3 1976.9h0M1071.1 1977.0h0M1071.8 1976.1h0M1072.6 1975.6h0M1073.3 1975.5h0M1074.1 1975.7h0M1074.8 1975.2h0M1075.6 1974.9h0M1076.3 1974.2h0M1077.1 1974.4h0M1077.8 1973.5h0M1078.6 1973.7h0M1079.4 1973.5h0M1080.1 1973.6h0M1080.9 1973.6h0M1081.6 1973.3h0M1082.4 1972.9h0M1083.1 1972.7h0M1083.9 1972.9h0M1084.6 1972.9h0M1085.4 1973.1h0M1086.1 1972.5h0M1086.9 1972.3h0M1087.7 1971.8h0M1088.4 1971.3h0M1089.2 1971.3h0M1089.9 1971.2h0M1090.7 1970.9h0M1091.4 1970.5h0M1092.2 1970.3h0M1092.9 1970.6h0M1093.7 1970.8h0M1094.4 1970.6h0M1095.2 1970.8h0M1096.0 1970.0h0M1096.7 1969.6h0M1097.5 1969.9h0M1098.2 1970.5h0M1099.0 1970.8h0M1099.7 1970.2h0M1100.5 1970.5h0M1101.2 1970.1h0M1102.0 1970.2h0M1102.7 1969.3h0M1103.5 1969.3h0M1104.3 1968.4h0M1105.0 1968.7h0M1105.8 1968.3h0M1106.5 1969.0h0M1107.3 1968.2h0M1108.0 1968.3h0M1108.8 1967.7h0M1109.5 1968.4h0M1110.3 1968.1h0M1111.0 1968.0h0M1111.8 1968.0h0M1112.6 1969.2h0M1113.3 1969.5h0M1114.1 1969.2h0M1114.8 1968.2h0M1115.6 1967.9h0M1116.3 1967.5h0M1117.1 1967.8h0M1117.8 1967.5h0M1118.6 1967.7h0M1119.3 1967.9h0M1120.1 1968.8h0M1120.9 1968.5h0M1121.6 1968.2h0M1122.4 1967.9h0M1123.1 1968.3h0M1123.9 1968.2h0M1124.6 1967.5h0M1125.4 1967.8h0M1126.1 1967.8h0M1126.9 1967.7h0M1127.6 1967.0h0M1128.4 1966.6h0M1129.2 1966.2h0M1129.9 1966.6h0M1130.7 1966.9h0M1131.4 1967.2h0M1132.2 1966.4h0M1132.9 1966.1h0M1133.7 1966.5h0M1134.4 1967.3h0M1135.2 1967.2h0M1135.9 1967.0h0M1136.7 1966.9h0M1137.5 1967.2h0M1138.2 1967.6h0M1139.0 1967.1h0M1139.7 1967.0h0M1140.5 1966.3h0M1141.2 1966.1h0M1142.0 1965.9h0M1142.7 1965.9h0M1143.5 1966.0h0M1144.2 1965.7h0M1145.0 1966.1h0M1145.8 1966.2h0M1146.5 1966.1h0M1147.3 1965.8h0M1148.0 1966.1h0M1148.8 1966.5h0M1149.5 1966.1h0M1150.3 1966.0h0M1151.0 1966.3h0M1151.8 1966.7h0M1152.5 1966.7h0M1153.3 1966.9h0M1154.1 1967.7h0M1154.8 1967.6h0M1155.6 1967.3h0M1156.3 1966.4h0M1157.1 1966.6h0M1157.8 1966.9h0M1158.6 1967.6h0M1159.3 1967.8h0M1160.1 1967.1h0M1160.8 1967.1h0M1161.6 1966.4h0M1162.4 1966.6h0M1163.1 1965.9h0M1163.9 1966.4h0M1164.6 1966.4h0M1165.4 1967.6h0M1166.1 1967.8h0M1166.9 1968.3h0M1167.6 1967.5h0M1168.4 1967.4h0M1169.1 1967.1h0M1169.9 1967.7h0M1170.6 1968.1h0M1171.4 1968.4h0M1172.2 1967.9h0M1172.9 1967.6h0M1173.7 1967.2h0M1174.4 1967.7h0M1175.2 1967.9h0M1175.9 1968.5h0M1176.7 1968.5h0M1177.4 1968.7h0M1178.2 1968.7h0M1178.9 1968.9h0M1179.7 1969.1h0M1180.5 1968.6h0M1181.2 1968.2h0M1182.0 1968.0h0M1182.7 1968.7h0M1183.5 1969.4h0M1184.2 1969.2h0M1185.0 1969.3h0M1185.7 1968.3h0M1186.5 1969.1h0M1187.2 1968.8h0M1188.0 1969.1h0M1188.8 1968.8h0M1189.5 1968.3h0M1190.3 1968.4h0M1191.0 1968.0h0M1191.8 1968.9h0M1192.5 1968.9h0M1193.3 1969.0h0M1194.0 1968.7h0M1194.8 1968.6h0M1195.5 1968.8h0M1196.3 1969.5h0M1197.1 1970.0h0M1197.8 1969.6h0M1198.6 1969.2h0M1199.3 1969.1h0M1200.1 1969.8h0M1200.8 1969.7h0M1201.6 1970.8h0M1202.3 1971.1h0M1203.1 1971.3h0M1203.8 1970.7h0M1204.6 1970.8h0M1205.4 1970.5h0M1206.1 1970.3h0M1206.9 1970.1h0M1207.6 1970.9h0M1208.4 1970.9h0M1209.1 1970.8h0M1209.9 1970.1h0M1210.6 1970.0h0M1211.4 1970.0h0M1212.1 1970.3h0M1212.9 1970.5h0M1213.7 1970.5h0M1214.4 1971.0h0M1215.2 1971.1h0M1215.9 1971.0h0M1216.7 1970.7h0M1217.4 1970.8h0M1218.2 1971.0h0M1218.9 1971.0h0M1219.7 1971.0h0M1220.4 1971.3h0M1221.2 1971.7h0M1222.0 1972.1h0M1222.7 1972.1h0M1223.5 1971.4h0M1224.2 1971.7h0M1225.0 1971.8h0M1225.7 1972.2h0M1226.5 1972.7h0M1227.2 1971.9h0M1228.0 1971.8h0M1228.7 1971.0h0M1229.5 1971.3h0M1230.3 1971.3h0M1231.0 1971.9h0M1231.8 1971.8h0M1232.5 1972.0h0M1233.3 1972.0h0M1234.0 1972.9h0M1234.8 1972.5h0M1235.5 1972.4h0M1236.3 1971.9h0M1237.0 1972.9h0M1237.8 1972.6h0M1238.6 1972.6h0M1239.3 1971.8h0M1240.1 1972.1h0M1240.8 1972.4h0M1241.6 1972.6h0M1242.3 1973.1h0M1243.1 1973.3h0M1243.8 1973.6h0M1244.6 1972.9h0M1245.3 1972.2h0M1246.1 1972.3h0" stroke="#4B55B5" stroke-width="7.8" stroke-linecap="round" fill="none"/>
<text x="1333.20" y="1965.00" font-size="23.0" text-anchor="start" fill="#000">Gly/Glut</text>
<line x1="1315.00" y1="1987.40" x2="1347.40" y2="1987.40" stroke="#4B55B5" stroke-width="8.6" stroke-linecap="butt"/>
<circle cx="1331.20" cy="1987.40" r="5.8" fill="#4B55B5"/>
<text x="1450.20" y="1995.80" font-size="22.9" text-anchor="end" fill="#000">100 µM</text>
<line x1="1315.00" y1="2022.09" x2="1347.40" y2="2022.09" stroke="#E0301E" stroke-width="8.6" stroke-linecap="butt"/>
<circle cx="1331.20" cy="2022.09" r="5.8" fill="#E0301E"/>
<text x="1450.20" y="2030.49" font-size="22.9" text-anchor="end" fill="#000">50 µM</text>
<line x1="1315.00" y1="2056.78" x2="1347.40" y2="2056.78" stroke="#3CB521" stroke-width="8.6" stroke-linecap="butt"/>
<circle cx="1331.20" cy="2056.78" r="5.8" fill="#3CB521"/>
<text x="1450.20" y="2065.18" font-size="22.9" text-anchor="end" fill="#000">25 µM</text>
<line x1="1315.00" y1="2091.47" x2="1347.40" y2="2091.47" stroke="#A23FC6" stroke-width="8.6" stroke-linecap="butt"/>
<circle cx="1331.20" cy="2091.47" r="5.8" fill="#A23FC6"/>
<text x="1450.20" y="2099.87" font-size="22.9" text-anchor="end" fill="#000">12.5 µM</text>
<line x1="1315.00" y1="2126.16" x2="1347.40" y2="2126.16" stroke="#F57E0A" stroke-width="8.6" stroke-linecap="butt"/>
<circle cx="1331.20" cy="2126.16" r="5.8" fill="#F57E0A"/>
<text x="1450.20" y="2134.56" font-size="22.9" text-anchor="end" fill="#000">6.4 µM</text>
<line x1="1315.00" y1="2160.85" x2="1347.40" y2="2160.85" stroke="#000" stroke-width="8.6" stroke-linecap="butt"/>
<circle cx="1331.20" cy="2160.85" r="5.8" fill="#000"/>
<text x="1450.20" y="2169.25" font-size="22.9" text-anchor="end" fill="#000">3.2 µM</text>
<line x1="1315.00" y1="2195.54" x2="1347.40" y2="2195.54" stroke="#A5692A" stroke-width="8.6" stroke-linecap="butt"/>
<circle cx="1331.20" cy="2195.54" r="5.8" fill="#A5692A"/>
<text x="1450.20" y="2203.94" font-size="22.9" text-anchor="end" fill="#000">1.6 µM</text>
<line x1="1315.00" y1="2230.23" x2="1347.40" y2="2230.23" stroke="#2E2E8C" stroke-width="8.6" stroke-linecap="butt"/>
<circle cx="1331.20" cy="2230.23" r="5.8" fill="#2E2E8C"/>
<text x="1450.20" y="2238.63" font-size="22.9" text-anchor="end" fill="#000">0.8 µM</text>
<line x1="1315.00" y1="2264.92" x2="1347.40" y2="2264.92" stroke="#7A1F6A" stroke-width="8.6" stroke-linecap="butt"/>
<circle cx="1331.20" cy="2264.92" r="5.8" fill="#7A1F6A"/>
<text x="1366.00" y="2273.32" font-size="23.1" text-anchor="start" fill="#000">no ligand</text>
<text x="831.60" y="1933.00" font-size="34.0" text-anchor="start" fill="#000" style="stroke-width:0.2px">H</text>
</svg>
</body></html>
